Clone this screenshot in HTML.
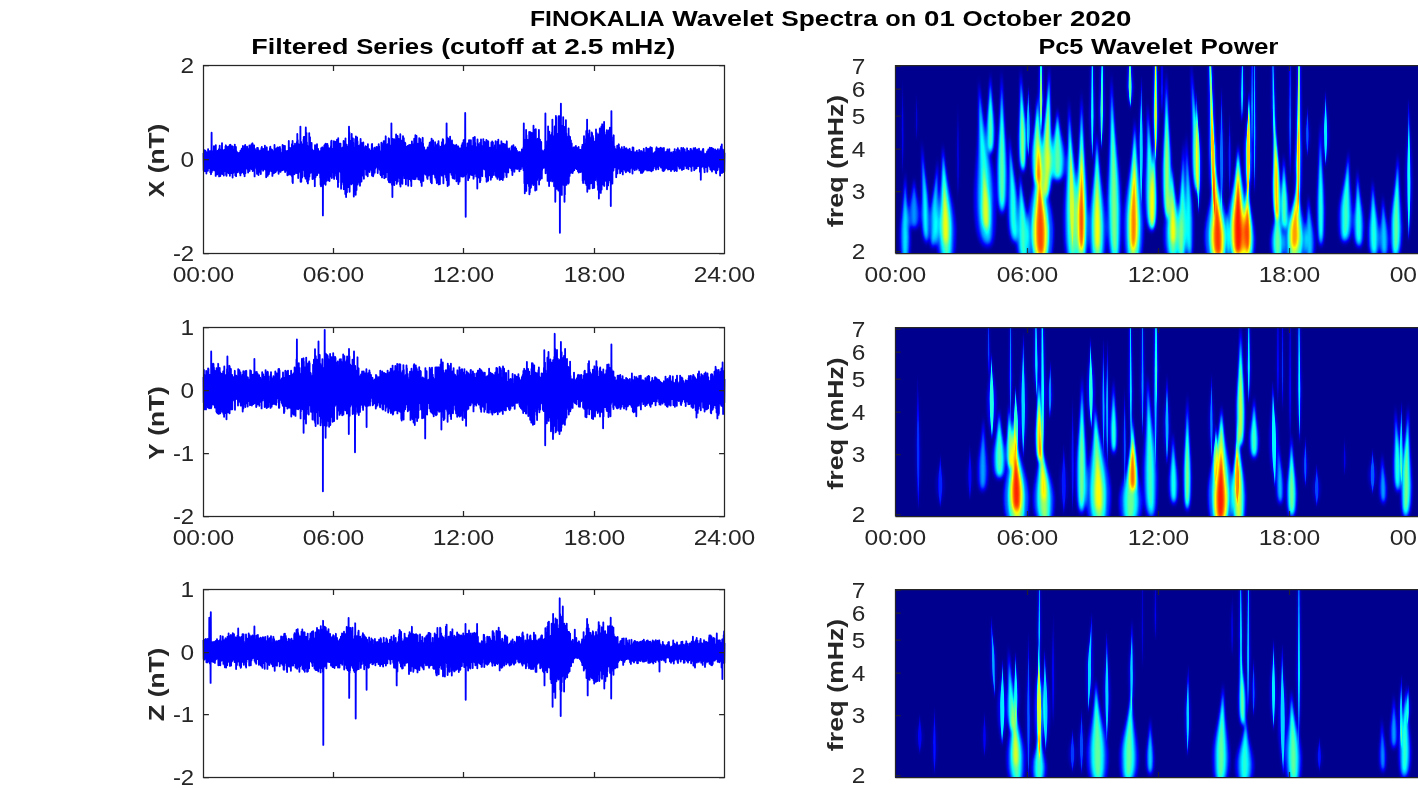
<!DOCTYPE html>
<html><head><meta charset="utf-8"><title>FINOKALIA Wavelet Spectra</title><style>html,body{margin:0;padding:0;background:#fff;overflow:hidden}body{width:1418px;height:788px;font-family:"Liberation Sans",sans-serif}</style></head>
<body><svg width="1418" height="788" viewBox="0 0 1418 788" style="display:block;font-family:'Liberation Sans',sans-serif">
<defs>
<filter id="jet" x="0" y="0" width="100%" height="100%" filterUnits="objectBoundingBox" color-interpolation-filters="sRGB"><feComponentTransfer><feFuncR type="table" tableValues="0 0 0 0 0.5 1 1 1 0.5"/><feFuncG type="table" tableValues="0 0 0.5 1 1 1 0.5 0 0"/><feFuncB type="table" tableValues="0.5625 1 1 1 0.5 0 0 0 0"/><feFuncA type="linear" slope="0" intercept="1"/></feComponentTransfer></filter>
<filter id="bl" x="-5%" y="-5%" width="110%" height="110%" color-interpolation-filters="sRGB"><feGaussianBlur stdDeviation="1.15 2.6"/></filter>
<filter id="bl2" x="-5%" y="-5%" width="110%" height="110%" color-interpolation-filters="sRGB"><feGaussianBlur stdDeviation="0.55 1.8"/></filter>
<clipPath id="c0"><rect x="895" y="65" width="523" height="188"/></clipPath>
<clipPath id="c1"><rect x="895" y="327" width="523" height="189"/></clipPath>
<clipPath id="c2"><rect x="895" y="590" width="523" height="188"/></clipPath>
<clipPath id="p0"><rect x="202" y="65" width="525" height="188"/></clipPath>
<clipPath id="p1"><rect x="202" y="327" width="525" height="189"/></clipPath>
<clipPath id="p2"><rect x="202" y="590" width="525" height="188"/></clipPath>
</defs>
<rect width="1418" height="788" fill="#fff"/>
<path d="M203.5 153.0L203.7 170.3L203.9 150.8L204.1 168.9L204.3 150.2L204.5 165.3L204.7 155.2L204.9 171.2L205.0 155.0L205.2 165.2L205.4 150.7L205.6 169.9L205.8 154.3L206.0 164.7L206.2 151.8L206.4 173.5L206.6 153.2L206.8 167.2L207.0 154.7L207.2 165.2L207.4 152.8L207.6 167.4L207.7 155.0L207.9 170.8L208.1 149.1L208.3 164.9L208.5 153.7L208.7 165.7L208.9 153.3L209.1 168.0L209.3 151.6L209.5 165.2L209.7 151.1L209.9 165.3L210.1 153.1L210.3 172.3L210.4 151.3L210.6 168.6L210.8 152.2L211.0 174.2L211.2 154.3L211.4 169.7L211.6 132.7L211.8 172.1L212.0 151.5L212.2 170.2L212.4 151.1L212.6 166.0L212.8 154.6L213.0 169.2L213.1 154.2L213.3 169.6L213.5 151.1L213.7 168.1L213.9 146.3L214.1 170.4L214.3 146.3L214.5 169.4L214.7 153.8L214.9 165.8L215.1 153.1L215.3 166.5L215.5 151.5L215.7 175.9L215.8 145.1L216.0 172.9L216.2 150.9L216.4 166.1L216.6 154.3L216.8 165.8L217.0 151.4L217.2 174.4L217.4 152.2L217.6 166.8L217.8 150.8L218.0 166.6L218.2 153.4L218.4 166.5L218.6 153.9L218.7 167.4L218.9 149.1L219.1 176.4L219.3 154.1L219.5 167.6L219.7 145.7L219.9 168.6L220.1 149.5L220.3 176.0L220.5 149.9L220.7 171.1L220.9 152.9L221.1 169.9L221.3 151.4L221.4 169.1L221.6 149.9L221.8 173.7L222.0 143.1L222.2 173.0L222.4 153.1L222.6 174.1L222.8 151.9L223.0 172.4L223.2 150.5L223.4 172.4L223.6 153.1L223.8 175.6L224.0 153.6L224.1 167.1L224.3 149.9L224.5 171.0L224.7 152.5L224.9 171.2L225.1 151.1L225.3 168.0L225.5 146.4L225.7 167.6L225.9 145.3L226.1 175.0L226.3 150.7L226.5 175.8L226.7 148.0L226.8 168.7L227.0 147.1L227.2 169.2L227.4 152.8L227.6 167.1L227.8 149.7L228.0 172.6L228.2 146.6L228.4 167.5L228.6 152.9L228.8 173.2L229.0 152.2L229.2 168.3L229.4 151.7L229.6 172.8L229.7 145.1L229.9 175.8L230.1 147.2L230.3 167.4L230.5 144.8L230.7 167.0L230.9 152.2L231.1 167.8L231.3 153.3L231.5 173.0L231.7 147.0L231.9 166.5L232.1 146.2L232.3 166.7L232.4 150.2L232.6 177.6L232.8 146.6L233.0 170.0L233.2 153.1L233.4 172.8L233.6 153.5L233.8 166.3L234.0 149.7L234.2 166.6L234.4 151.2L234.6 167.7L234.8 144.6L235.0 168.7L235.1 148.6L235.3 175.3L235.5 147.0L235.7 174.1L235.9 146.9L236.1 176.2L236.3 151.0L236.5 173.1L236.7 151.9L236.9 172.0L237.1 152.2L237.3 166.6L237.5 153.0L237.7 166.0L237.8 153.6L238.0 172.1L238.2 153.7L238.4 169.3L238.6 153.7L238.8 166.7L239.0 152.9L239.2 170.1L239.4 153.1L239.6 166.6L239.8 152.5L240.0 173.5L240.2 152.8L240.4 175.4L240.5 150.6L240.7 168.6L240.9 153.4L241.1 173.1L241.3 150.8L241.5 167.4L241.7 148.7L241.9 166.6L242.1 151.8L242.3 172.2L242.5 152.9L242.7 167.6L242.9 146.0L243.1 170.4L243.3 152.8L243.4 166.4L243.6 153.4L243.8 173.8L244.0 153.3L244.2 171.7L244.4 151.2L244.6 176.2L244.8 146.0L245.0 172.9L245.2 144.9L245.4 173.3L245.6 150.7L245.8 166.3L246.0 152.6L246.1 166.1L246.3 151.5L246.5 167.3L246.7 153.3L246.9 168.3L247.1 146.6L247.3 166.2L247.5 148.5L247.7 169.4L247.9 153.4L248.1 172.5L248.3 150.1L248.5 167.3L248.7 152.8L248.8 167.4L249.0 153.0L249.2 171.0L249.4 145.4L249.6 170.9L249.8 147.5L250.0 165.9L250.2 149.6L250.4 166.0L250.6 146.0L250.8 166.4L251.0 153.0L251.2 168.1L251.4 144.5L251.5 169.1L251.7 147.3L251.9 167.9L252.1 151.6L252.3 168.0L252.5 143.3L252.7 171.0L252.9 153.2L253.1 167.5L253.3 153.3L253.5 168.8L253.7 146.7L253.9 166.4L254.1 145.3L254.2 167.4L254.4 153.3L254.6 176.4L254.8 148.7L255.0 166.4L255.2 149.8L255.4 166.1L255.6 150.5L255.8 166.6L256.0 152.8L256.2 165.7L256.4 153.7L256.6 168.4L256.8 151.2L257.0 173.8L257.1 148.0L257.3 165.6L257.5 153.3L257.7 166.0L257.9 147.9L258.1 168.3L258.3 154.0L258.5 175.1L258.7 150.2L258.9 169.8L259.1 152.8L259.3 171.8L259.5 153.7L259.7 165.5L259.8 151.5L260.0 167.7L260.2 151.5L260.4 169.0L260.6 150.4L260.8 174.0L261.0 151.6L261.2 169.8L261.4 148.2L261.6 168.2L261.8 147.0L262.0 167.5L262.2 150.7L262.4 168.1L262.5 152.4L262.7 166.5L262.9 149.3L263.1 170.7L263.3 149.0L263.5 168.8L263.7 153.5L263.9 168.4L264.1 153.6L264.3 168.6L264.5 152.8L264.7 166.4L264.9 145.7L265.1 169.6L265.2 152.6L265.4 165.9L265.6 151.3L265.8 165.5L266.0 153.9L266.2 177.2L266.4 152.8L266.6 166.0L266.8 147.3L267.0 167.1L267.2 153.6L267.4 174.3L267.6 151.5L267.8 175.7L267.9 153.4L268.1 174.5L268.3 153.4L268.5 167.0L268.7 153.5L268.9 174.1L269.1 151.2L269.3 172.0L269.5 154.3L269.7 165.9L269.9 148.1L270.1 165.2L270.3 146.6L270.5 165.3L270.7 153.4L270.8 165.6L271.0 153.7L271.2 171.0L271.4 149.5L271.6 169.3L271.8 152.8L272.0 170.3L272.2 149.8L272.4 175.9L272.6 151.0L272.8 165.5L273.0 153.2L273.2 171.6L273.4 153.2L273.5 166.0L273.7 151.3L273.9 173.2L274.1 153.4L274.3 171.7L274.5 144.9L274.7 166.2L274.9 149.5L275.1 170.3L275.3 150.9L275.5 172.2L275.7 151.5L275.9 165.7L276.1 153.7L276.2 165.9L276.4 148.5L276.6 170.8L276.8 152.2L277.0 168.1L277.2 154.1L277.4 169.7L277.6 147.5L277.8 165.3L278.0 151.4L278.2 167.4L278.4 147.6L278.6 173.8L278.8 150.9L278.9 166.1L279.1 152.8L279.3 166.6L279.5 150.9L279.7 169.1L279.9 146.9L280.1 166.3L280.3 148.9L280.5 171.9L280.7 152.4L280.9 165.7L281.1 153.8L281.3 170.6L281.5 153.7L281.6 170.4L281.8 153.3L282.0 165.3L282.2 153.2L282.4 165.2L282.6 145.0L282.8 170.0L283.0 153.4L283.2 165.8L283.4 145.6L283.6 166.3L283.8 150.3L284.0 166.8L284.2 153.7L284.4 169.8L284.5 149.7L284.7 168.0L284.9 145.9L285.1 172.1L285.3 152.0L285.5 168.9L285.7 152.7L285.9 167.8L286.1 151.3L286.3 170.6L286.5 152.4L286.7 166.3L286.9 151.1L287.1 166.5L287.2 152.1L287.4 175.3L287.6 151.7L287.8 166.6L288.0 150.6L288.2 172.5L288.4 151.6L288.6 168.7L288.8 140.9L289.0 174.6L289.2 150.9L289.4 168.2L289.6 150.3L289.8 167.6L289.9 148.0L290.1 168.1L290.3 149.2L290.5 173.9L290.7 149.5L290.9 174.8L291.1 148.0L291.3 168.6L291.5 148.4L291.7 168.0L291.9 144.2L292.1 176.8L292.3 148.8L292.5 181.9L292.6 141.0L292.8 183.0L293.0 148.1L293.2 169.1L293.4 146.4L293.6 170.1L293.8 146.1L294.0 168.5L294.2 146.4L294.4 174.2L294.6 149.6L294.8 170.5L295.0 143.7L295.2 173.1L295.4 149.1L295.5 170.5L295.7 146.6L295.9 172.2L296.1 145.6L296.3 169.4L296.5 147.4L296.7 173.1L296.9 142.0L297.1 171.7L297.3 133.9L297.5 173.3L297.7 140.1L297.9 173.6L298.1 146.9L298.2 178.0L298.4 147.3L298.6 168.3L298.8 144.4L299.0 170.9L299.2 148.3L299.4 169.8L299.6 145.6L299.8 171.3L300.0 144.5L300.2 172.4L300.4 126.6L300.6 181.7L300.8 147.7L300.9 169.6L301.1 141.8L301.3 181.7L301.5 148.3L301.7 172.5L301.9 146.4L302.1 177.5L302.3 147.7L302.5 170.5L302.7 144.1L302.9 168.4L303.1 149.2L303.3 168.5L303.5 139.7L303.6 168.7L303.8 136.9L304.0 169.2L304.2 138.0L304.4 176.3L304.6 140.1L304.8 170.3L305.0 136.6L305.2 173.5L305.4 140.9L305.6 178.6L305.8 127.5L306.0 174.9L306.2 148.5L306.3 173.4L306.5 132.9L306.7 175.5L306.9 142.3L307.1 181.6L307.3 148.8L307.5 168.9L307.7 147.6L307.9 183.4L308.1 146.3L308.3 174.1L308.5 146.2L308.7 179.8L308.9 147.7L309.1 175.4L309.2 133.2L309.4 176.6L309.6 140.0L309.8 169.6L310.0 137.2L310.2 172.6L310.4 149.3L310.6 172.8L310.8 146.7L311.0 169.0L311.2 150.4L311.4 168.4L311.6 143.0L311.8 168.4L311.9 149.4L312.1 169.6L312.3 149.5L312.5 179.0L312.7 152.1L312.9 175.5L313.1 151.3L313.3 178.7L313.5 150.8L313.7 175.5L313.9 152.7L314.1 168.4L314.3 151.5L314.5 169.5L314.6 152.5L314.8 186.2L315.0 145.2L315.2 176.4L315.4 145.3L315.6 177.1L315.8 151.9L316.0 171.6L316.2 151.4L316.4 169.3L316.6 151.5L316.8 171.3L317.0 144.2L317.2 175.1L317.3 151.4L317.5 170.5L317.7 151.0L317.9 169.7L318.1 148.9L318.3 169.6L318.5 152.6L318.7 172.9L318.9 151.1L319.1 172.4L319.3 152.3L319.5 169.8L319.7 152.6L319.9 172.6L320.0 151.3L320.2 177.8L320.4 151.0L320.6 184.8L320.8 151.4L321.0 186.3L321.2 148.2L321.4 174.7L321.6 148.5L321.8 179.7L322.0 149.9L322.2 169.0L322.4 147.3L322.6 175.4L322.8 151.0L322.9 215.4L323.1 149.7L323.3 174.7L323.5 148.7L323.7 184.0L323.9 149.4L324.1 178.5L324.3 145.4L324.5 172.2L324.7 151.8L324.9 173.6L325.1 144.3L325.3 183.0L325.5 145.1L325.6 184.8L325.8 143.7L326.0 170.1L326.2 150.1L326.4 180.9L326.6 151.6L326.8 169.3L327.0 145.3L327.2 170.1L327.4 144.0L327.6 173.3L327.8 145.6L328.0 170.9L328.2 152.6L328.3 180.4L328.5 152.4L328.7 171.2L328.9 148.4L329.1 169.1L329.3 152.1L329.5 181.0L329.7 152.2L329.9 171.8L330.1 151.3L330.3 176.3L330.5 147.7L330.7 170.4L330.9 146.3L331.0 170.2L331.2 141.1L331.4 171.9L331.6 140.7L331.8 178.1L332.0 151.3L332.2 169.8L332.4 150.4L332.6 172.0L332.8 148.9L333.0 172.0L333.2 151.3L333.4 171.4L333.6 151.0L333.8 177.8L333.9 141.1L334.1 178.9L334.3 149.8L334.5 172.6L334.7 149.8L334.9 171.2L335.1 146.6L335.3 172.6L335.5 141.8L335.7 172.9L335.9 143.3L336.1 175.8L336.3 151.6L336.5 170.2L336.6 150.0L336.8 179.0L337.0 139.8L337.2 171.0L337.4 148.0L337.6 174.8L337.8 144.7L338.0 186.9L338.2 138.2L338.4 182.3L338.6 144.9L338.8 170.4L339.0 149.2L339.2 171.1L339.3 150.5L339.5 170.9L339.7 143.6L339.9 171.0L340.1 145.7L340.3 171.7L340.5 143.6L340.7 171.5L340.9 150.4L341.1 188.7L341.3 150.4L341.5 176.9L341.7 150.2L341.9 173.3L342.0 151.0L342.2 171.0L342.4 147.7L342.6 181.8L342.8 148.8L343.0 171.8L343.2 146.9L343.4 184.6L343.6 141.0L343.8 189.2L344.0 148.8L344.2 185.6L344.4 147.6L344.6 187.3L344.7 142.0L344.9 178.9L345.1 149.5L345.3 194.0L345.5 138.3L345.7 177.0L345.9 148.7L346.1 197.1L346.3 146.0L346.5 191.3L346.7 144.6L346.9 192.3L347.1 148.3L347.3 173.8L347.5 147.8L347.6 175.0L347.8 147.6L348.0 187.1L348.2 146.5L348.4 175.6L348.6 150.4L348.8 174.3L349.0 126.6L349.2 179.7L349.4 132.4L349.6 191.8L349.8 144.4L350.0 175.3L350.2 144.6L350.3 178.7L350.5 141.1L350.7 173.6L350.9 148.8L351.1 177.8L351.3 147.2L351.5 184.3L351.7 133.9L351.9 176.1L352.1 139.0L352.3 183.1L352.5 142.4L352.7 180.3L352.9 138.3L353.0 172.4L353.2 142.7L353.4 172.4L353.6 148.3L353.8 196.6L354.0 149.6L354.2 178.1L354.4 147.6L354.6 178.0L354.8 148.2L355.0 173.8L355.2 139.0L355.4 180.3L355.6 149.6L355.7 194.8L355.9 136.5L356.1 177.4L356.3 139.7L356.5 190.1L356.7 150.2L356.9 176.1L357.1 137.4L357.3 183.5L357.5 141.4L357.7 184.5L357.9 145.8L358.1 175.2L358.3 148.9L358.4 178.4L358.6 146.0L358.8 175.4L359.0 148.0L359.2 174.2L359.4 150.3L359.6 183.0L359.8 150.2L360.0 185.7L360.2 144.4L360.4 178.7L360.6 138.9L360.8 174.8L361.0 151.0L361.2 170.9L361.3 142.8L361.5 181.5L361.7 146.8L361.9 171.9L362.1 143.2L362.3 171.2L362.5 150.7L362.7 175.5L362.9 152.1L363.1 174.1L363.3 142.5L363.5 170.5L363.7 146.9L363.9 178.7L364.0 152.0L364.2 168.5L364.4 151.8L364.6 168.8L364.8 150.1L365.0 168.6L365.2 150.1L365.4 167.5L365.6 146.2L365.8 169.4L366.0 151.0L366.2 174.7L366.4 153.1L366.6 174.7L366.7 147.0L366.9 168.4L367.1 147.9L367.3 169.0L367.5 152.0L367.7 176.3L367.9 144.1L368.1 166.1L368.3 153.3L368.5 166.2L368.7 152.5L368.9 166.1L369.1 153.3L369.3 169.4L369.4 149.2L369.6 172.0L369.8 153.5L370.0 166.1L370.2 152.5L370.4 166.2L370.6 152.0L370.8 165.7L371.0 150.8L371.2 168.7L371.4 152.9L371.6 170.5L371.8 144.5L372.0 175.5L372.1 144.0L372.3 168.7L372.5 148.4L372.7 170.1L372.9 153.0L373.1 176.3L373.3 153.6L373.5 174.7L373.7 153.6L373.9 170.1L374.1 150.6L374.3 172.8L374.5 147.7L374.7 172.7L374.9 152.5L375.0 165.8L375.2 152.9L375.4 168.4L375.6 149.1L375.8 166.2L376.0 152.9L376.2 166.7L376.4 146.9L376.6 166.6L376.8 152.5L377.0 166.7L377.2 152.5L377.4 167.2L377.6 147.2L377.7 173.1L377.9 152.7L378.1 166.9L378.3 151.0L378.5 167.5L378.7 144.2L378.9 167.6L379.1 146.5L379.3 167.2L379.5 151.6L379.7 169.7L379.9 151.1L380.1 165.8L380.3 151.9L380.4 174.3L380.6 152.9L380.8 175.2L381.0 152.1L381.2 166.6L381.4 142.6L381.6 166.6L381.8 143.5L382.0 177.4L382.2 150.6L382.4 167.8L382.6 152.5L382.8 167.8L383.0 151.3L383.1 167.0L383.3 148.7L383.5 174.0L383.7 141.1L383.9 167.6L384.1 150.7L384.3 178.2L384.5 151.2L384.7 171.6L384.9 143.0L385.1 170.9L385.3 140.6L385.5 168.9L385.7 136.3L385.9 177.2L386.0 150.3L386.2 169.1L386.4 149.5L386.6 169.6L386.8 146.4L387.0 172.1L387.2 150.0L387.4 169.1L387.6 144.3L387.8 171.6L388.0 149.2L388.2 180.0L388.4 148.2L388.6 171.5L388.7 138.3L388.9 182.0L389.1 138.8L389.3 172.5L389.5 149.2L389.7 176.6L389.9 145.4L390.1 182.5L390.3 149.9L390.5 170.9L390.7 146.4L390.9 173.1L391.1 150.0L391.3 170.2L391.4 123.3L391.6 169.7L391.8 146.2L392.0 185.0L392.2 146.7L392.4 197.1L392.6 138.8L392.8 170.6L393.0 146.7L393.2 173.6L393.4 146.8L393.6 170.2L393.8 146.6L394.0 169.6L394.1 139.1L394.3 185.0L394.5 142.7L394.7 177.5L394.9 139.9L395.1 180.1L395.3 149.0L395.5 170.3L395.7 147.3L395.9 176.6L396.1 134.3L396.3 170.4L396.5 148.9L396.7 183.8L396.8 148.4L397.0 180.7L397.2 142.4L397.4 179.9L397.6 135.9L397.8 181.6L398.0 143.5L398.2 177.0L398.4 147.0L398.6 170.2L398.8 138.9L399.0 177.4L399.2 141.5L399.4 171.8L399.6 148.7L399.7 178.3L399.9 147.6L400.1 184.7L400.3 134.2L400.5 186.5L400.7 147.8L400.9 174.5L401.1 149.4L401.3 174.7L401.5 140.6L401.7 170.7L401.9 148.6L402.1 169.5L402.3 148.3L402.4 183.8L402.6 147.7L402.8 170.1L403.0 136.1L403.2 172.1L403.4 141.7L403.6 175.4L403.8 138.1L404.0 173.5L404.2 146.3L404.4 178.2L404.6 150.0L404.8 170.2L405.0 142.7L405.1 178.1L405.3 143.1L405.5 171.8L405.7 147.2L405.9 184.4L406.1 149.0L406.3 178.8L406.5 148.9L406.7 176.0L406.9 146.6L407.1 178.4L407.3 149.4L407.5 170.3L407.7 146.0L407.8 170.2L408.0 146.1L408.2 185.7L408.4 145.8L408.6 172.1L408.8 148.9L409.0 171.2L409.2 145.0L409.4 173.0L409.6 148.1L409.8 179.1L410.0 148.6L410.2 172.0L410.4 144.9L410.5 170.3L410.7 147.6L410.9 180.9L411.1 147.5L411.3 186.1L411.5 147.2L411.7 179.0L411.9 141.4L412.1 176.9L412.3 146.8L412.5 170.4L412.7 145.5L412.9 171.4L413.1 149.8L413.3 179.1L413.4 144.2L413.6 172.0L413.8 149.0L414.0 170.0L414.2 138.8L414.4 172.4L414.6 141.6L414.8 179.2L415.0 148.6L415.2 174.2L415.4 135.2L415.6 178.9L415.8 142.3L416.0 170.4L416.1 146.1L416.3 169.7L416.5 135.9L416.7 171.6L416.9 146.5L417.1 176.5L417.3 144.8L417.5 175.7L417.7 148.9L417.9 169.0L418.1 143.8L418.3 179.3L418.5 149.6L418.7 173.1L418.8 148.7L419.0 169.9L419.2 138.1L419.4 170.5L419.6 149.7L419.8 179.7L420.0 149.0L420.2 177.3L420.4 139.1L420.6 170.5L420.8 142.2L421.0 182.4L421.2 146.6L421.4 172.6L421.5 145.3L421.7 185.9L421.9 149.3L422.1 169.9L422.3 148.6L422.5 172.2L422.7 137.8L422.9 169.5L423.1 143.7L423.3 180.9L423.5 150.2L423.7 169.6L423.9 150.9L424.1 168.8L424.2 147.4L424.4 168.7L424.6 149.8L424.8 173.5L425.0 151.4L425.2 168.3L425.4 151.3L425.6 174.5L425.8 150.5L426.0 169.2L426.2 150.4L426.4 168.8L426.6 151.3L426.8 169.1L427.0 151.2L427.1 177.7L427.3 149.1L427.5 178.9L427.7 147.5L427.9 174.6L428.1 150.7L428.3 170.6L428.5 149.5L428.7 175.5L428.9 151.9L429.1 168.7L429.3 145.1L429.5 169.0L429.7 142.8L429.8 174.4L430.0 145.2L430.2 170.2L430.4 142.3L430.6 180.0L430.8 151.5L431.0 182.3L431.2 148.3L431.4 179.4L431.6 138.6L431.8 183.3L432.0 151.2L432.2 174.5L432.4 147.4L432.5 171.3L432.7 146.9L432.9 169.1L433.1 140.5L433.3 168.8L433.5 148.2L433.7 172.8L433.9 151.7L434.1 174.3L434.3 151.6L434.5 169.8L434.7 147.2L434.9 174.9L435.1 142.2L435.2 177.6L435.4 151.0L435.6 169.3L435.8 151.0L436.0 172.4L436.2 149.6L436.4 179.9L436.6 145.3L436.8 183.1L437.0 146.5L437.2 180.0L437.4 144.2L437.6 172.5L437.8 150.3L437.9 182.0L438.1 150.9L438.3 169.8L438.5 141.1L438.7 184.4L438.9 145.4L439.1 177.2L439.3 150.7L439.5 171.5L439.7 150.7L439.9 184.0L440.1 149.6L440.3 174.3L440.5 150.5L440.7 172.8L440.8 146.6L441.0 169.7L441.2 150.5L441.4 169.5L441.6 147.5L441.8 175.6L442.0 142.1L442.2 169.6L442.4 150.1L442.6 169.7L442.8 139.1L443.0 169.7L443.2 139.9L443.4 183.3L443.5 150.3L443.7 170.1L443.9 150.7L444.1 169.2L444.3 147.5L444.5 169.1L444.7 147.9L444.9 171.9L445.1 145.2L445.3 174.4L445.5 145.7L445.7 174.0L445.9 150.3L446.1 177.4L446.2 143.5L446.4 170.0L446.6 123.3L446.8 180.2L447.0 137.2L447.2 172.3L447.4 141.5L447.6 186.1L447.8 139.3L448.0 175.5L448.2 138.5L448.4 182.7L448.6 140.1L448.8 184.9L448.9 148.2L449.1 169.7L449.3 150.6L449.5 170.5L449.7 145.6L449.9 172.4L450.1 136.6L450.3 170.7L450.5 150.7L450.7 169.4L450.9 149.2L451.1 168.8L451.3 150.2L451.5 174.7L451.7 143.7L451.8 172.7L452.0 140.5L452.2 171.8L452.4 148.7L452.6 177.7L452.8 144.4L453.0 178.3L453.2 150.5L453.4 169.3L453.6 148.9L453.8 176.9L454.0 145.1L454.2 169.0L454.4 151.2L454.5 178.8L454.7 147.5L454.9 170.6L455.1 146.0L455.3 169.4L455.5 151.0L455.7 173.4L455.9 146.0L456.1 170.8L456.3 144.8L456.5 181.3L456.7 146.4L456.9 174.3L457.1 150.9L457.2 173.5L457.4 151.9L457.6 168.9L457.8 148.9L458.0 168.1L458.2 146.3L458.4 184.0L458.6 150.1L458.8 172.5L459.0 149.2L459.2 172.2L459.4 148.3L459.6 181.6L459.8 150.3L459.9 173.9L460.1 151.8L460.3 172.5L460.5 149.7L460.7 169.4L460.9 148.3L461.1 171.6L461.3 151.0L461.5 176.4L461.7 145.2L461.9 171.0L462.1 151.2L462.3 169.6L462.5 143.1L462.6 168.2L462.8 148.4L463.0 176.7L463.2 151.1L463.4 170.5L463.6 140.3L463.8 173.0L464.0 140.0L464.2 172.5L464.4 144.5L464.6 175.8L464.8 147.2L465.0 172.1L465.2 113.0L465.4 172.1L465.5 150.2L465.7 216.8L465.9 148.1L466.1 174.7L466.3 150.6L466.5 168.0L466.7 147.4L466.9 169.3L467.1 150.3L467.3 172.5L467.5 143.4L467.7 172.5L467.9 145.2L468.1 180.2L468.2 144.3L468.4 169.7L468.6 143.7L468.8 169.6L469.0 140.2L469.2 177.8L469.4 143.8L469.6 169.3L469.8 140.3L470.0 168.4L470.2 150.7L470.4 172.3L470.6 150.8L470.8 174.5L470.9 140.2L471.1 170.1L471.3 150.2L471.5 168.0L471.7 151.2L471.9 175.0L472.1 150.8L472.3 167.2L472.5 146.0L472.7 170.0L472.9 149.6L473.1 169.7L473.3 137.6L473.5 178.7L473.6 146.5L473.8 176.9L474.0 146.1L474.2 168.2L474.4 150.1L474.6 172.5L474.8 137.0L475.0 173.7L475.2 143.0L475.4 167.8L475.6 148.9L475.8 174.0L476.0 146.9L476.2 176.4L476.3 150.9L476.5 167.9L476.7 150.0L476.9 170.2L477.1 150.2L477.3 188.6L477.5 139.4L477.7 167.7L477.9 150.2L478.1 177.1L478.3 143.8L478.5 172.4L478.7 147.3L478.9 175.1L479.1 150.4L479.2 172.2L479.4 150.6L479.6 178.3L479.8 150.3L480.0 182.2L480.2 142.6L480.4 180.4L480.6 150.8L480.8 168.8L481.0 139.5L481.2 168.4L481.4 150.2L481.6 175.3L481.8 147.8L481.9 171.9L482.1 147.6L482.3 176.2L482.5 145.9L482.7 168.9L482.9 148.7L483.1 168.2L483.3 139.1L483.5 168.2L483.7 149.5L483.9 168.4L484.1 141.7L484.3 169.0L484.5 150.7L484.6 169.3L484.8 142.1L485.0 169.1L485.2 142.6L485.4 169.9L485.6 149.9L485.8 176.7L486.0 142.9L486.2 172.9L486.4 139.9L486.6 181.7L486.8 143.1L487.0 169.5L487.2 141.8L487.3 168.8L487.5 141.2L487.7 168.3L487.9 150.2L488.1 180.7L488.3 141.5L488.5 169.4L488.7 149.4L488.9 168.6L489.1 148.7L489.3 170.7L489.5 149.7L489.7 175.2L489.9 147.6L490.0 169.6L490.2 149.7L490.4 168.7L490.6 147.8L490.8 179.7L491.0 148.4L491.2 168.5L491.4 142.5L491.6 171.7L491.8 143.3L492.0 177.3L492.2 141.4L492.4 173.6L492.6 148.2L492.8 171.2L492.9 142.3L493.1 175.0L493.3 147.3L493.5 167.9L493.7 149.8L493.9 168.2L494.1 151.3L494.3 170.8L494.5 150.4L494.7 167.8L494.9 145.3L495.1 175.0L495.3 151.8L495.5 174.1L495.6 141.1L495.8 167.4L496.0 150.9L496.2 176.7L496.4 152.0L496.6 167.9L496.8 152.1L497.0 168.9L497.2 150.1L497.4 178.8L497.6 141.6L497.8 168.0L498.0 149.4L498.2 171.8L498.3 139.6L498.5 167.3L498.7 151.0L498.9 176.9L499.1 150.9L499.3 175.6L499.5 150.8L499.7 179.9L499.9 145.2L500.1 174.7L500.3 148.5L500.5 170.9L500.7 150.4L500.9 167.7L501.0 151.2L501.2 179.0L501.4 141.3L501.6 176.2L501.8 148.1L502.0 173.8L502.2 143.4L502.4 167.2L502.6 148.9L502.8 180.1L503.0 146.1L503.2 173.3L503.4 146.8L503.6 177.6L503.8 143.8L503.9 167.0L504.1 147.4L504.3 167.7L504.5 151.9L504.7 167.0L504.9 147.3L505.1 171.5L505.3 144.4L505.5 172.1L505.7 151.5L505.9 166.3L506.1 152.7L506.3 175.4L506.5 148.5L506.6 177.0L506.8 141.3L507.0 166.5L507.2 148.1L507.4 170.5L507.6 152.6L507.8 170.3L508.0 149.2L508.2 172.4L508.4 150.8L508.6 168.6L508.8 151.8L509.0 167.4L509.2 148.4L509.3 166.6L509.5 153.1L509.7 167.4L509.9 152.3L510.1 165.9L510.3 153.0L510.5 166.5L510.7 152.6L510.9 168.2L511.1 150.7L511.3 166.6L511.5 147.1L511.7 170.4L511.9 146.1L512.0 165.6L512.2 148.2L512.4 175.0L512.6 153.4L512.8 168.9L513.0 153.7L513.2 167.4L513.4 145.1L513.6 165.1L513.8 153.4L514.0 165.7L514.2 153.2L514.4 171.7L514.6 147.6L514.7 165.1L514.9 154.3L515.1 164.6L515.3 147.1L515.5 168.6L515.7 154.2L515.9 164.8L516.1 148.6L516.3 166.3L516.5 150.3L516.7 166.9L516.9 150.6L517.1 169.1L517.3 153.4L517.5 167.5L517.6 152.1L517.8 165.3L518.0 153.4L518.2 165.3L518.4 154.7L518.6 168.6L518.8 152.2L519.0 164.4L519.2 152.0L519.4 171.2L519.6 154.7L519.8 164.1L520.0 153.4L520.2 164.8L520.3 154.5L520.5 165.8L520.7 155.1L520.9 169.1L521.1 151.9L521.3 167.0L521.5 151.6L521.7 163.9L521.9 149.5L522.1 165.6L522.3 153.8L522.5 164.3L522.7 154.5L522.9 166.2L523.0 151.7L523.2 168.5L523.4 147.4L523.6 170.2L523.8 123.3L524.0 169.1L524.2 148.6L524.4 183.2L524.6 143.0L524.8 193.3L525.0 145.2L525.2 176.2L525.4 139.8L525.6 181.3L525.7 146.1L525.9 189.5L526.1 129.9L526.3 190.9L526.5 135.4L526.7 173.5L526.9 146.2L527.1 178.7L527.3 146.1L527.5 171.6L527.7 139.9L527.9 183.3L528.1 146.5L528.3 171.6L528.4 146.8L528.6 181.4L528.8 141.0L529.0 186.3L529.2 131.9L529.4 194.3L529.6 133.4L529.8 192.3L530.0 144.0L530.2 188.2L530.4 132.2L530.6 172.1L530.8 147.3L531.0 187.6L531.2 147.0L531.3 171.1L531.5 147.1L531.7 183.5L531.9 132.8L532.1 174.5L532.3 134.9L532.5 174.0L532.7 142.5L532.9 171.9L533.1 143.1L533.3 185.1L533.5 125.7L533.7 172.1L533.9 132.0L534.0 178.4L534.2 147.4L534.4 174.2L534.6 129.9L534.8 172.1L535.0 141.6L535.2 190.6L535.4 145.1L535.6 172.5L535.8 129.2L536.0 172.5L536.2 144.7L536.4 189.9L536.6 145.6L536.7 172.9L536.9 145.8L537.1 180.1L537.3 144.8L537.5 177.7L537.7 138.8L537.9 171.5L538.1 140.0L538.3 171.5L538.5 146.8L538.7 172.6L538.9 129.8L539.1 184.5L539.3 140.5L539.4 178.2L539.6 145.5L539.8 177.0L540.0 139.7L540.2 179.8L540.4 147.3L540.6 174.0L540.8 143.2L541.0 175.8L541.2 141.9L541.4 173.4L541.6 150.0L541.8 178.4L542.0 150.4L542.1 170.0L542.3 152.0L542.5 166.1L542.7 152.6L542.9 165.5L543.1 151.8L543.3 167.9L543.5 151.3L543.7 167.6L543.9 152.7L544.1 164.9L544.3 151.7L544.5 167.6L544.7 149.6L544.9 165.7L545.0 150.0L545.2 164.9L545.4 113.4L545.6 173.2L545.8 153.1L546.0 164.7L546.2 150.0L546.4 169.8L546.6 148.7L546.8 169.4L547.0 145.8L547.2 166.9L547.4 141.3L547.6 180.9L547.7 146.6L547.9 170.9L548.1 126.3L548.3 178.1L548.5 136.7L548.7 170.9L548.9 142.5L549.1 186.0L549.3 131.7L549.5 171.3L549.7 138.9L549.9 170.3L550.1 138.2L550.3 180.9L550.4 141.1L550.6 176.2L550.8 135.1L551.0 170.8L551.2 136.7L551.4 171.2L551.6 137.9L551.8 177.2L552.0 132.6L552.2 181.4L552.4 119.6L552.6 175.4L552.8 141.8L553.0 173.6L553.1 141.7L553.3 171.6L553.5 139.1L553.7 175.8L553.9 136.3L554.1 186.2L554.3 143.4L554.5 170.4L554.7 126.4L554.9 171.2L555.1 135.9L555.3 201.8L555.5 142.3L555.7 173.0L555.9 115.9L556.0 185.2L556.2 117.6L556.4 172.8L556.6 135.3L556.8 188.9L557.0 140.5L557.2 184.7L557.4 133.9L557.6 172.0L557.8 136.4L558.0 172.1L558.2 134.1L558.4 190.6L558.6 116.2L558.7 176.6L558.9 142.6L559.1 172.1L559.3 142.7L559.5 172.8L559.7 127.4L559.9 232.8L560.1 115.8L560.3 176.5L560.5 129.9L560.7 185.8L560.9 103.6L561.1 173.2L561.3 142.2L561.4 175.5L561.6 137.3L561.8 194.9L562.0 126.0L562.2 177.6L562.4 130.6L562.6 184.7L562.8 135.7L563.0 177.5L563.2 117.2L563.4 180.3L563.6 128.8L563.8 178.2L564.0 133.5L564.1 185.5L564.3 127.0L564.5 201.8L564.7 141.9L564.9 194.6L565.1 129.9L565.3 182.4L565.5 142.5L565.7 173.3L565.9 120.1L566.1 172.9L566.3 133.5L566.5 184.8L566.7 144.0L566.8 182.8L567.0 139.9L567.2 177.8L567.4 145.0L567.6 171.4L567.8 137.2L568.0 178.5L568.2 136.3L568.4 183.6L568.6 128.5L568.8 182.4L569.0 135.9L569.2 171.1L569.4 136.8L569.6 175.9L569.7 138.8L569.9 170.3L570.1 136.8L570.3 170.5L570.5 145.3L570.7 172.3L570.9 140.5L571.1 172.7L571.3 148.2L571.5 170.4L571.7 143.5L571.9 169.3L572.1 149.6L572.3 167.4L572.4 153.2L572.6 173.0L572.8 153.0L573.0 171.5L573.2 153.1L573.4 168.3L573.6 147.5L573.8 166.7L574.0 152.6L574.2 170.2L574.4 150.7L574.6 164.7L574.8 151.6L575.0 168.0L575.1 146.9L575.3 166.6L575.5 154.1L575.7 166.8L575.9 145.9L576.1 164.5L576.3 152.2L576.5 169.1L576.7 147.6L576.9 164.9L577.1 152.1L577.3 167.2L577.5 153.4L577.7 164.6L577.8 149.1L578.0 171.3L578.2 150.1L578.4 171.7L578.6 147.0L578.8 172.6L579.0 153.4L579.2 165.0L579.4 152.4L579.6 165.4L579.8 152.8L580.0 169.4L580.2 149.8L580.4 172.0L580.5 149.9L580.7 171.0L580.9 152.5L581.1 164.6L581.3 152.8L581.5 165.2L581.7 152.6L581.9 168.3L582.1 146.8L582.3 172.5L582.5 144.8L582.7 180.8L582.9 148.1L583.1 183.0L583.3 147.2L583.4 177.1L583.6 147.1L583.8 179.7L584.0 136.1L584.2 171.6L584.4 144.5L584.6 172.6L584.8 144.4L585.0 177.7L585.2 144.2L585.4 183.2L585.6 144.3L585.8 174.1L586.0 139.0L586.1 174.1L586.3 130.9L586.5 185.0L586.7 142.0L586.9 172.1L587.1 119.6L587.3 191.7L587.5 133.6L587.7 176.5L587.9 136.6L588.1 181.3L588.3 143.8L588.5 183.9L588.7 144.0L588.8 188.6L589.0 142.5L589.2 171.5L589.4 130.5L589.6 188.7L589.8 137.2L590.0 175.0L590.2 142.2L590.4 174.8L590.6 144.9L590.8 176.1L591.0 145.7L591.2 183.2L591.4 140.8L591.5 180.5L591.7 132.5L591.9 175.8L592.1 133.2L592.3 177.4L592.5 139.1L592.7 188.2L592.9 136.0L593.1 181.6L593.3 138.2L593.5 178.0L593.7 145.6L593.9 186.1L594.1 146.0L594.2 187.7L594.4 145.5L594.6 173.5L594.8 141.7L595.0 174.3L595.2 145.5L595.4 180.1L595.6 145.8L595.8 175.3L596.0 129.4L596.2 176.1L596.4 136.0L596.6 173.3L596.8 133.2L597.0 173.5L597.1 144.9L597.3 181.5L597.5 145.4L597.7 185.0L597.9 145.3L598.1 189.7L598.3 144.2L598.5 189.0L598.7 134.3L598.9 198.5L599.1 143.1L599.3 173.4L599.5 133.1L599.7 174.8L599.8 128.4L600.0 192.0L600.2 145.0L600.4 182.6L600.6 133.6L600.8 192.9L601.0 141.9L601.2 185.5L601.4 126.5L601.6 189.5L601.8 143.0L602.0 180.7L602.2 124.3L602.4 184.3L602.5 144.8L602.7 177.0L602.9 143.8L603.1 183.0L603.3 144.3L603.5 184.7L603.7 131.3L603.9 172.2L604.1 121.9L604.3 185.9L604.5 145.0L604.7 173.3L604.9 136.7L605.1 179.5L605.2 137.9L605.4 175.1L605.6 144.4L605.8 175.9L606.0 134.7L606.2 181.0L606.4 132.2L606.6 180.7L606.8 130.1L607.0 189.3L607.2 132.4L607.4 173.5L607.6 145.6L607.8 172.4L608.0 142.9L608.1 185.4L608.3 144.2L608.5 171.8L608.7 130.3L608.9 171.7L609.1 143.5L609.3 175.5L609.5 146.3L609.7 180.4L609.9 127.6L610.1 180.5L610.3 146.3L610.5 183.0L610.7 129.4L610.8 206.0L611.0 141.9L611.2 177.6L611.4 111.1L611.6 170.3L611.8 146.1L612.0 169.8L612.2 147.7L612.4 183.6L612.6 141.6L612.8 171.5L613.0 148.0L613.2 170.6L613.4 137.1L613.5 170.2L613.7 135.3L613.9 168.0L614.1 149.8L614.3 167.2L614.5 146.5L614.7 167.1L614.9 149.9L615.1 166.0L615.3 148.9L615.5 166.7L615.7 151.5L615.9 166.3L616.1 151.8L616.2 177.2L616.4 150.8L616.6 170.9L616.8 150.9L617.0 167.0L617.2 145.7L617.4 173.4L617.6 152.3L617.8 168.9L618.0 148.9L618.2 166.0L618.4 153.1L618.6 168.5L618.8 144.3L618.9 166.2L619.1 147.5L619.3 167.2L619.5 153.2L619.7 165.9L619.9 151.4L620.1 173.2L620.3 152.3L620.5 166.3L620.7 149.3L620.9 170.1L621.1 154.1L621.3 165.3L621.5 153.7L621.7 171.3L621.8 147.2L622.0 169.6L622.2 150.3L622.4 168.4L622.6 151.8L622.8 174.4L623.0 153.7L623.2 166.4L623.4 149.5L623.6 169.2L623.8 150.0L624.0 165.1L624.2 146.8L624.4 168.2L624.5 151.6L624.7 167.1L624.9 148.5L625.1 170.7L625.3 149.4L625.5 164.9L625.7 154.2L625.9 172.3L626.1 152.8L626.3 169.3L626.5 148.3L626.7 165.2L626.9 153.7L627.1 170.2L627.2 153.7L627.4 170.7L627.6 154.3L627.8 169.9L628.0 149.9L628.2 165.3L628.4 153.8L628.6 166.1L628.8 154.3L629.0 171.2L629.2 152.3L629.4 166.4L629.6 148.8L629.8 172.3L629.9 149.9L630.1 167.3L630.3 154.3L630.5 168.6L630.7 154.3L630.9 166.8L631.1 152.0L631.3 165.0L631.5 151.9L631.7 165.1L631.9 153.6L632.1 166.1L632.3 154.3L632.5 173.5L632.6 147.4L632.8 168.4L633.0 148.6L633.2 167.8L633.4 147.7L633.6 166.2L633.8 152.5L634.0 168.7L634.2 154.8L634.4 164.8L634.6 152.5L634.8 170.2L635.0 154.4L635.2 165.1L635.4 154.5L635.5 166.6L635.7 152.3L635.9 165.1L636.1 154.9L636.3 165.2L636.5 155.0L636.7 169.6L636.9 150.7L637.1 166.9L637.3 154.1L637.5 164.4L637.7 154.8L637.9 165.1L638.1 153.0L638.2 164.7L638.4 154.8L638.6 168.2L638.8 154.9L639.0 165.2L639.2 149.9L639.4 170.4L639.6 155.0L639.8 166.5L640.0 155.0L640.2 164.6L640.4 155.0L640.6 164.4L640.8 154.8L640.9 172.9L641.1 150.9L641.3 172.6L641.5 151.9L641.7 164.6L641.9 153.2L642.1 172.9L642.3 154.5L642.5 167.5L642.7 154.6L642.9 169.6L643.1 151.8L643.3 171.7L643.5 150.6L643.6 166.2L643.8 148.8L644.0 165.6L644.2 154.8L644.4 165.2L644.6 152.3L644.8 169.7L645.0 154.8L645.2 169.6L645.4 154.7L645.6 167.3L645.8 153.8L646.0 169.2L646.2 147.7L646.3 168.9L646.5 148.8L646.7 164.6L646.9 149.2L647.1 170.6L647.3 154.1L647.5 168.2L647.7 154.1L647.9 169.3L648.1 148.8L648.3 166.6L648.5 154.8L648.7 170.4L648.9 151.5L649.1 165.7L649.2 155.0L649.4 168.1L649.6 148.5L649.8 170.3L650.0 154.0L650.2 166.5L650.4 147.2L650.6 170.6L650.8 150.7L651.0 164.6L651.2 153.1L651.4 171.3L651.6 154.3L651.8 166.9L651.9 147.8L652.1 166.0L652.3 154.7L652.5 167.6L652.7 153.5L652.9 170.3L653.1 154.9L653.3 164.8L653.5 154.0L653.7 168.3L653.9 153.1L654.1 165.4L654.3 153.9L654.5 164.6L654.6 152.5L654.8 166.2L655.0 152.7L655.2 165.1L655.4 151.8L655.6 164.7L655.8 151.8L656.0 169.5L656.2 148.8L656.4 165.1L656.6 147.3L656.8 167.4L657.0 154.2L657.2 165.1L657.3 152.2L657.5 167.3L657.7 155.0L657.9 164.4L658.1 148.8L658.3 169.2L658.5 154.1L658.7 164.9L658.9 152.4L659.1 164.3L659.3 148.4L659.5 164.6L659.7 152.9L659.9 165.7L660.1 154.2L660.2 164.6L660.4 151.9L660.6 164.3L660.8 147.7L661.0 167.6L661.2 154.7L661.4 164.3L661.6 155.0L661.8 164.3L662.0 153.5L662.2 164.3L662.4 148.4L662.6 170.6L662.8 154.7L662.9 164.2L663.1 151.9L663.3 170.9L663.5 154.3L663.7 171.1L663.9 147.9L664.1 169.0L664.3 153.7L664.5 170.0L664.7 155.3L664.9 169.2L665.1 153.8L665.3 167.8L665.5 152.1L665.6 163.9L665.8 153.3L666.0 164.5L666.2 154.0L666.4 167.9L666.6 151.5L666.8 164.6L667.0 153.5L667.2 168.2L667.4 149.5L667.6 168.2L667.8 153.1L668.0 169.6L668.2 154.8L668.3 167.8L668.5 154.8L668.7 168.2L668.9 154.9L669.1 166.8L669.3 149.1L669.5 169.2L669.7 154.7L669.9 166.6L670.1 153.4L670.3 164.7L670.5 154.1L670.7 164.3L670.9 154.8L671.0 171.0L671.2 152.5L671.4 164.2L671.6 153.3L671.8 164.2L672.0 154.6L672.2 164.2L672.4 154.1L672.6 169.4L672.8 154.6L673.0 165.0L673.2 151.9L673.4 165.6L673.6 153.6L673.8 167.8L673.9 153.0L674.1 167.6L674.3 154.8L674.5 171.1L674.7 149.1L674.9 167.1L675.1 151.6L675.3 170.1L675.5 152.6L675.7 166.4L675.9 153.2L676.1 166.9L676.3 154.7L676.5 164.5L676.6 153.3L676.8 171.0L677.0 149.6L677.2 164.2L677.4 154.9L677.6 165.4L677.8 148.1L678.0 164.2L678.2 151.8L678.4 165.1L678.6 153.9L678.8 166.4L679.0 152.9L679.2 166.9L679.3 150.3L679.5 168.5L679.7 152.8L679.9 168.4L680.1 153.7L680.3 164.8L680.5 152.5L680.7 164.3L680.9 154.0L681.1 167.4L681.3 147.9L681.5 164.7L681.7 153.1L681.9 169.9L682.0 155.1L682.2 169.7L682.4 150.5L682.6 165.6L682.8 154.8L683.0 169.1L683.2 148.0L683.4 166.1L683.6 153.8L683.8 169.1L684.0 149.1L684.2 164.7L684.4 154.1L684.6 165.5L684.7 149.4L684.9 165.4L685.1 151.8L685.3 164.1L685.5 154.5L685.7 164.2L685.9 154.6L686.1 166.3L686.3 152.2L686.5 168.3L686.7 153.5L686.9 164.6L687.1 148.3L687.3 164.4L687.5 154.5L687.6 167.2L687.8 154.6L688.0 166.6L688.2 152.8L688.4 169.2L688.6 151.0L688.8 166.1L689.0 154.7L689.2 166.0L689.4 154.7L689.6 164.7L689.8 153.5L690.0 164.3L690.2 152.2L690.3 165.0L690.5 148.9L690.7 166.5L690.9 148.9L691.1 167.6L691.3 153.2L691.5 170.9L691.7 150.2L691.9 164.4L692.1 154.3L692.3 164.5L692.5 153.4L692.7 164.7L692.9 153.8L693.0 165.9L693.2 152.6L693.4 165.9L693.6 148.3L693.8 165.0L694.0 153.8L694.2 170.2L694.4 152.8L694.6 164.7L694.8 154.6L695.0 168.9L695.2 147.9L695.4 166.3L695.6 153.7L695.7 166.6L695.9 155.2L696.1 167.6L696.3 153.6L696.5 168.3L696.7 151.9L696.9 164.2L697.1 149.5L697.3 165.0L697.5 154.8L697.7 165.3L697.9 153.8L698.1 166.0L698.3 151.6L698.5 164.3L698.6 154.7L698.8 165.8L699.0 148.7L699.2 164.7L699.4 155.3L699.6 164.1L699.8 152.9L700.0 171.8L700.2 155.2L700.4 164.6L700.6 151.5L700.8 179.7L701.0 154.9L701.2 166.3L701.3 154.6L701.5 167.3L701.7 153.0L701.9 166.6L702.1 155.2L702.3 165.3L702.5 150.5L702.7 164.8L702.9 149.1L703.1 164.7L703.3 149.0L703.5 166.7L703.7 152.9L703.9 167.1L704.0 153.6L704.2 169.1L704.4 154.5L704.6 172.2L704.8 155.0L705.0 165.8L705.2 154.5L705.4 166.3L705.6 154.6L705.8 166.8L706.0 153.7L706.2 167.0L706.4 153.9L706.6 165.3L706.7 154.3L706.9 165.8L707.1 151.5L707.3 171.7L707.5 154.2L707.7 165.0L707.9 154.5L708.1 164.4L708.3 149.5L708.5 164.9L708.7 154.2L708.9 165.5L709.1 151.4L709.3 165.4L709.4 152.1L709.6 166.8L709.8 147.7L710.0 166.3L710.2 152.6L710.4 169.3L710.6 153.1L710.8 165.0L711.0 154.9L711.2 170.0L711.4 147.9L711.6 164.9L711.8 148.0L712.0 171.5L712.2 154.5L712.3 169.4L712.5 154.6L712.7 165.2L712.9 152.7L713.1 167.7L713.3 148.8L713.5 164.7L713.7 154.3L713.9 169.6L714.1 154.7L714.3 169.1L714.5 153.8L714.7 166.0L714.9 151.6L715.0 169.9L715.2 149.5L715.4 165.3L715.6 153.0L715.8 172.5L716.0 151.5L716.2 173.3L716.4 150.7L716.6 169.1L716.8 152.7L717.0 165.3L717.2 151.5L717.4 170.2L717.6 151.9L717.7 169.2L717.9 149.2L718.1 166.5L718.3 154.3L718.5 165.4L718.7 153.1L718.9 165.4L719.1 154.2L719.3 166.7L719.5 151.0L719.7 165.6L719.9 150.2L720.1 175.6L720.3 148.9L720.4 168.3L720.6 152.5L720.8 166.5L721.0 146.4L721.2 172.8L721.4 152.8L721.6 170.4L721.8 144.5L722.0 173.0L722.2 149.7L722.4 171.4L722.6 150.1L722.8 167.5L723.0 149.7L723.1 172.0L723.3 153.8L723.5 171.9L723.7 152.0L723.9 166.1L724.1 152.8L724.3 171.3L724.5 152.7" fill="none" stroke="#0000ff" stroke-width="1.85" stroke-linejoin="round" clip-path="url(#p0)"/>
<rect x="203.5" y="65.5" width="521.0" height="188.0" fill="none" stroke="#262626" stroke-width="1.25"/>
<path d="M333.5 253.5v-5.4M333.5 65.5v5.4M463.5 253.5v-5.4M463.5 65.5v5.4M594.5 253.5v-5.4M594.5 65.5v5.4M203.5 65.5h5.4M724.5 65.5h-5.4M203.5 159.5h5.4M724.5 159.5h-5.4M203.5 253.5h5.4M724.5 253.5h-5.4" stroke="#262626" stroke-width="1.25" fill="none"/>
<path d="M203.5 377.1L203.7 402.5L203.9 369.8L204.1 409.4L204.3 379.3L204.5 404.7L204.7 381.3L204.9 405.3L205.0 375.5L205.2 405.2L205.4 380.3L205.6 409.1L205.8 379.3L206.0 409.4L206.2 370.9L206.4 399.9L206.6 378.7L206.8 398.8L207.0 379.7L207.2 398.9L207.4 378.8L207.6 402.5L207.7 381.2L207.9 407.4L208.1 368.5L208.3 399.8L208.5 368.9L208.7 401.9L208.9 380.4L209.1 408.3L209.3 375.7L209.5 406.8L209.7 375.0L209.9 398.2L210.1 378.6L210.3 398.7L210.4 376.3L210.6 408.1L210.8 375.9L211.0 408.3L211.2 351.4L211.4 406.9L211.6 374.8L211.8 399.3L212.0 370.7L212.2 402.2L212.4 373.7L212.6 404.2L212.8 378.7L213.0 399.7L213.1 363.6L213.3 404.6L213.5 364.0L213.7 400.0L213.9 367.5L214.1 400.1L214.3 373.1L214.5 404.0L214.7 370.9L214.9 407.6L215.1 370.8L215.3 399.8L215.5 374.2L215.7 399.6L215.8 377.7L216.0 404.0L216.2 376.0L216.4 411.6L216.6 368.1L216.8 412.4L217.0 379.0L217.2 405.8L217.4 379.9L217.6 413.3L217.8 380.0L218.0 409.8L218.2 363.8L218.4 402.5L218.6 378.9L218.7 413.9L218.9 373.4L219.1 400.5L219.3 381.1L219.5 402.3L219.7 367.9L219.9 405.6L220.1 372.2L220.3 413.3L220.5 373.7L220.7 400.1L220.9 377.8L221.1 400.3L221.3 380.3L221.4 401.3L221.6 373.6L221.8 402.1L222.0 380.6L222.2 411.8L222.4 375.0L222.6 403.7L222.8 379.8L223.0 400.0L223.2 371.4L223.4 413.7L223.6 380.1L223.8 406.6L224.0 375.3L224.1 416.8L224.3 366.4L224.5 400.6L224.7 380.6L224.9 400.5L225.1 381.1L225.3 413.0L225.5 375.1L225.7 399.6L225.9 380.2L226.1 403.5L226.3 380.0L226.5 419.3L226.7 380.2L226.8 401.0L227.0 369.3L227.2 403.2L227.4 356.5L227.6 408.1L227.8 381.6L228.0 412.3L228.2 381.6L228.4 412.0L228.6 372.9L228.8 406.3L229.0 375.6L229.2 411.4L229.4 365.8L229.6 413.3L229.7 366.7L229.9 400.2L230.1 370.1L230.3 407.3L230.5 381.5L230.7 399.1L230.9 368.9L231.1 409.4L231.3 379.4L231.5 404.7L231.7 381.4L231.9 399.2L232.1 374.9L232.3 409.2L232.4 379.8L232.6 399.4L232.8 379.7L233.0 400.5L233.2 380.7L233.4 399.3L233.6 377.2L233.8 398.1L234.0 380.7L234.2 399.4L234.4 380.0L234.6 398.0L234.8 370.8L235.0 409.8L235.1 375.2L235.3 398.0L235.5 376.3L235.7 398.1L235.9 378.7L236.1 398.3L236.3 375.7L236.5 398.8L236.7 379.6L236.9 399.0L237.1 377.8L237.3 399.1L237.5 379.2L237.7 398.3L237.8 381.8L238.0 405.5L238.2 369.1L238.4 400.3L238.6 381.8L238.8 397.8L239.0 376.6L239.2 397.8L239.4 370.1L239.6 401.5L239.8 379.5L240.0 401.5L240.2 379.0L240.4 403.1L240.5 372.5L240.7 405.5L240.9 378.1L241.1 405.6L241.3 381.0L241.5 403.6L241.7 377.0L241.9 400.9L242.1 376.3L242.3 401.0L242.5 374.7L242.7 411.5L242.9 376.5L243.1 409.1L243.3 371.2L243.4 408.2L243.6 381.7L243.8 401.2L244.0 376.9L244.2 403.1L244.4 382.1L244.6 403.9L244.8 378.4L245.0 398.2L245.2 371.2L245.4 407.1L245.6 380.7L245.8 397.7L246.0 374.3L246.1 398.0L246.3 370.8L246.5 402.7L246.7 381.3L246.9 403.3L247.1 381.6L247.3 398.3L247.5 379.7L247.7 406.5L247.9 377.3L248.1 398.2L248.3 379.5L248.5 399.8L248.7 380.1L248.8 401.0L249.0 381.9L249.2 398.4L249.4 382.4L249.6 399.7L249.8 379.5L250.0 405.2L250.2 370.3L250.4 400.5L250.6 380.7L250.8 398.2L251.0 370.9L251.2 402.5L251.4 375.5L251.5 405.1L251.7 377.3L251.9 405.5L252.1 382.4L252.3 398.9L252.5 374.8L252.7 397.5L252.9 381.6L253.1 399.1L253.3 374.6L253.5 404.1L253.7 382.5L253.9 397.7L254.1 380.8L254.2 403.2L254.4 359.0L254.6 398.8L254.8 374.2L255.0 402.3L255.2 371.8L255.4 402.2L255.6 381.0L255.8 402.9L256.0 381.1L256.2 407.1L256.4 382.0L256.6 406.1L256.8 371.9L257.0 398.6L257.1 381.6L257.3 397.9L257.5 373.6L257.7 404.0L257.9 375.0L258.1 404.1L258.3 377.4L258.5 400.2L258.7 380.5L258.9 402.0L259.1 375.1L259.3 405.8L259.5 380.0L259.7 399.6L259.8 381.1L260.0 398.7L260.2 377.7L260.4 400.7L260.6 382.1L260.8 399.8L261.0 379.3L261.2 402.2L261.4 381.0L261.6 408.4L261.8 381.4L262.0 401.1L262.2 372.2L262.4 397.9L262.5 382.9L262.7 400.4L262.9 380.9L263.1 397.8L263.3 374.5L263.5 397.9L263.7 377.4L263.9 398.0L264.1 376.6L264.3 398.1L264.5 379.9L264.7 407.1L264.9 379.1L265.1 402.9L265.2 381.3L265.4 401.7L265.6 370.1L265.8 404.4L266.0 372.7L266.2 405.4L266.4 381.8L266.6 408.0L266.8 380.6L267.0 407.8L267.2 382.0L267.4 401.1L267.6 371.6L267.8 397.8L267.9 372.5L268.1 407.1L268.3 376.5L268.5 397.7L268.7 382.4L268.9 400.8L269.1 381.5L269.3 398.3L269.5 382.8L269.7 401.8L269.9 382.8L270.1 406.8L270.3 376.3L270.5 407.9L270.7 374.8L270.8 404.5L271.0 372.1L271.2 406.1L271.4 380.9L271.6 406.7L271.8 378.2L272.0 397.6L272.2 382.5L272.4 398.1L272.6 382.2L272.8 404.2L273.0 382.3L273.2 397.5L273.4 376.2L273.5 402.2L273.7 382.5L273.9 398.1L274.1 380.8L274.3 403.5L274.5 381.3L274.7 397.2L274.9 381.6L275.1 404.2L275.3 371.4L275.5 400.0L275.7 375.8L275.9 397.2L276.1 377.7L276.2 404.7L276.4 373.3L276.6 402.2L276.8 381.4L277.0 397.6L277.2 381.8L277.4 398.2L277.6 379.7L277.8 397.7L278.0 373.3L278.2 397.9L278.4 369.2L278.6 399.0L278.8 381.0L278.9 407.8L279.1 369.0L279.3 407.7L279.5 370.4L279.7 398.8L279.9 381.4L280.1 398.7L280.3 379.8L280.5 399.8L280.7 381.4L280.9 399.1L281.1 379.9L281.3 398.5L281.5 381.8L281.6 402.3L281.8 378.4L282.0 403.6L282.2 382.0L282.4 398.6L282.6 382.3L282.8 405.7L283.0 372.5L283.2 402.4L283.4 380.4L283.6 402.5L283.8 380.3L284.0 413.0L284.2 381.0L284.4 411.7L284.5 377.8L284.7 400.3L284.9 381.5L285.1 404.0L285.3 370.7L285.5 400.0L285.7 381.2L285.9 405.9L286.1 376.4L286.3 406.1L286.5 375.1L286.7 399.6L286.9 373.6L287.1 403.8L287.2 371.2L287.4 408.6L287.6 379.8L287.8 400.8L288.0 370.6L288.2 404.5L288.4 380.5L288.6 400.8L288.8 375.7L289.0 407.5L289.2 376.7L289.4 400.0L289.6 378.3L289.8 399.9L289.9 375.9L290.1 405.5L290.3 379.1L290.5 407.9L290.7 379.4L290.9 406.0L291.1 370.7L291.3 416.5L291.5 375.2L291.7 410.3L291.9 378.0L292.1 400.6L292.3 375.0L292.5 399.6L292.6 379.6L292.8 413.6L293.0 376.5L293.2 411.7L293.4 373.5L293.6 414.6L293.8 378.4L294.0 414.5L294.2 376.9L294.4 410.8L294.6 367.5L294.8 400.8L295.0 376.3L295.2 400.6L295.4 379.2L295.5 415.9L295.7 379.6L295.9 404.5L296.1 368.9L296.3 402.0L296.5 359.4L296.7 408.8L296.9 339.5L297.1 408.2L297.3 376.2L297.5 401.5L297.7 370.7L297.9 405.4L298.1 377.6L298.2 409.3L298.4 379.2L298.6 403.2L298.8 363.1L299.0 405.2L299.2 378.4L299.4 408.4L299.6 368.0L299.8 403.2L300.0 373.4L300.2 406.1L300.4 378.2L300.6 418.4L300.8 377.4L300.9 411.6L301.1 375.5L301.3 404.2L301.5 377.4L301.7 403.7L301.9 359.0L302.1 408.7L302.3 371.0L302.5 404.2L302.7 375.9L302.9 409.4L303.1 376.8L303.3 403.6L303.5 358.3L303.6 432.7L303.8 361.6L304.0 408.8L304.2 377.3L304.4 418.8L304.6 367.2L304.8 404.4L305.0 377.4L305.2 415.4L305.4 375.5L305.6 405.8L305.8 368.7L306.0 423.6L306.2 357.6L306.3 404.0L306.5 367.6L306.7 413.7L306.9 371.3L307.1 405.0L307.3 377.4L307.5 403.4L307.7 377.6L307.9 408.9L308.1 363.4L308.3 404.8L308.5 373.8L308.7 414.5L308.9 375.8L309.1 405.8L309.2 361.5L309.4 404.5L309.6 363.2L309.8 405.1L310.0 373.1L310.2 405.2L310.4 372.7L310.6 404.6L310.8 373.7L311.0 411.8L311.2 377.3L311.4 406.8L311.6 377.3L311.8 403.4L311.9 376.4L312.1 406.5L312.3 376.0L312.5 419.5L312.7 375.8L312.9 407.0L313.1 364.7L313.3 411.2L313.5 375.9L313.7 403.5L313.9 359.7L314.1 404.5L314.3 375.2L314.5 420.6L314.6 371.3L314.8 410.0L315.0 349.2L315.2 423.1L315.4 359.0L315.6 426.1L315.8 356.2L316.0 412.4L316.2 360.0L316.4 405.7L316.6 366.2L316.8 406.2L317.0 359.7L317.2 406.0L317.3 371.5L317.5 411.5L317.7 374.5L317.9 423.8L318.1 372.8L318.3 404.7L318.5 341.4L318.7 405.9L318.9 357.2L319.1 410.3L319.3 359.2L319.5 407.4L319.7 355.0L319.9 416.3L320.0 372.0L320.2 406.3L320.4 364.0L320.6 425.2L320.8 368.4L321.0 414.6L321.2 365.9L321.4 418.3L321.6 374.1L321.8 404.4L322.0 367.1L322.2 407.4L322.4 359.1L322.6 422.9L322.8 372.5L322.9 491.3L323.1 367.8L323.3 413.8L323.5 373.5L323.7 425.6L323.9 371.7L324.1 406.4L324.3 367.8L324.5 406.7L324.7 330.0L324.9 425.1L325.1 366.1L325.3 410.3L325.5 353.5L325.6 437.8L325.8 372.4L326.0 406.1L326.2 354.2L326.4 404.9L326.6 357.2L326.8 425.7L327.0 373.6L327.2 417.5L327.4 355.2L327.6 409.2L327.8 356.1L328.0 411.3L328.2 359.0L328.3 404.3L328.5 369.3L328.7 421.5L328.9 369.8L329.1 426.8L329.3 368.1L329.5 404.6L329.7 373.8L329.9 417.2L330.1 354.0L330.3 425.1L330.5 364.9L330.7 404.9L330.9 358.8L331.0 406.1L331.2 372.2L331.4 405.2L331.6 357.2L331.8 414.7L332.0 363.6L332.2 417.6L332.4 374.8L332.6 421.7L332.8 357.7L333.0 413.0L333.2 353.2L333.4 403.8L333.6 371.8L333.8 407.3L333.9 367.2L334.1 421.1L334.3 375.6L334.5 402.4L334.7 376.6L334.9 405.9L335.1 356.8L335.3 403.8L335.5 357.9L335.7 404.5L335.9 368.1L336.1 401.6L336.3 362.3L336.5 403.9L336.6 377.0L336.8 401.8L337.0 376.0L337.2 418.9L337.4 362.4L337.6 411.0L337.8 361.5L338.0 404.7L338.2 375.1L338.4 406.7L338.6 374.6L338.8 403.7L339.0 369.4L339.2 402.4L339.3 375.2L339.5 414.9L339.7 359.4L339.9 405.2L340.1 364.8L340.3 413.5L340.5 367.5L340.7 403.2L340.9 359.1L341.1 403.9L341.3 361.6L341.5 402.0L341.7 375.3L341.9 409.6L342.0 368.0L342.2 415.2L342.4 376.0L342.6 402.0L342.8 375.5L343.0 410.9L343.2 354.4L343.4 414.5L343.6 373.1L343.8 401.6L344.0 375.8L344.2 402.7L344.4 356.2L344.6 402.5L344.7 368.3L344.9 406.5L345.1 361.9L345.3 410.2L345.5 374.6L345.7 402.8L345.9 362.6L346.1 401.6L346.3 368.9L346.5 402.4L346.7 360.3L346.9 413.5L347.1 356.5L347.3 408.2L347.5 374.2L347.6 410.9L347.8 364.6L348.0 401.0L348.2 375.0L348.4 401.8L348.6 358.8L348.8 434.0L349.0 348.9L349.2 402.8L349.4 356.5L349.6 415.8L349.8 375.2L350.0 403.1L350.2 364.4L350.3 406.6L350.5 374.3L350.7 403.8L350.9 368.7L351.1 401.5L351.3 377.0L351.5 402.4L351.7 365.7L351.9 404.6L352.1 369.4L352.3 401.5L352.5 359.7L352.7 414.1L352.9 361.7L353.0 413.8L353.2 376.3L353.4 402.9L353.6 370.3L353.8 408.5L354.0 351.4L354.2 410.3L354.4 372.3L354.6 401.5L354.8 373.3L355.0 452.2L355.2 366.0L355.4 402.5L355.6 370.3L355.7 413.9L355.9 375.8L356.1 401.5L356.3 376.3L356.5 401.6L356.7 376.6L356.9 404.7L357.1 375.7L357.3 406.5L357.5 357.3L357.7 411.9L357.9 368.5L358.1 404.2L358.3 369.7L358.4 413.4L358.6 368.3L358.8 415.1L359.0 377.2L359.2 407.5L359.4 377.1L359.6 400.3L359.8 377.4L360.0 411.9L360.2 376.3L360.4 402.3L360.6 378.5L360.8 404.9L361.0 374.6L361.2 400.1L361.3 374.2L361.5 399.0L361.7 374.6L361.9 400.0L362.1 371.4L362.3 399.9L362.5 374.2L362.7 407.8L362.9 380.8L363.1 409.9L363.3 381.0L363.5 398.7L363.7 371.5L363.9 399.4L364.0 372.9L364.2 398.5L364.4 381.6L364.6 398.6L364.8 381.6L365.0 405.1L365.2 375.1L365.4 405.8L365.6 373.2L365.8 405.6L366.0 375.5L366.2 398.8L366.4 369.2L366.6 427.0L366.7 381.3L366.9 400.1L367.1 377.2L367.3 398.7L367.5 376.8L367.7 402.9L367.9 380.2L368.1 405.7L368.3 373.3L368.5 397.9L368.7 373.6L368.9 397.6L369.1 382.7L369.3 403.3L369.4 370.4L369.6 403.2L369.8 372.3L370.0 405.6L370.2 378.0L370.4 401.8L370.6 382.1L370.8 397.7L371.0 375.0L371.2 397.2L371.4 383.4L371.6 397.0L371.8 382.6L372.0 397.8L372.1 382.9L372.3 397.8L372.5 377.8L372.7 405.2L372.9 383.5L373.1 404.4L373.3 380.5L373.5 398.2L373.7 380.4L373.9 403.4L374.1 382.9L374.3 398.1L374.5 383.7L374.7 398.7L374.9 379.4L375.0 403.5L375.2 381.1L375.4 398.1L375.6 382.7L375.8 408.6L376.0 375.0L376.2 406.8L376.4 382.3L376.6 406.5L376.8 376.1L377.0 403.4L377.2 380.9L377.4 405.1L377.6 378.8L377.7 397.5L377.9 380.0L378.1 399.5L378.3 381.7L378.5 398.3L378.7 377.2L378.9 402.2L379.1 382.4L379.3 398.0L379.5 380.9L379.7 406.0L379.9 376.9L380.1 407.2L380.3 370.6L380.4 400.5L380.6 382.6L380.8 403.6L381.0 379.8L381.2 399.8L381.4 382.8L381.6 398.5L381.8 380.7L382.0 398.6L382.2 371.4L382.4 408.8L382.6 383.1L382.8 409.5L383.0 376.9L383.1 409.4L383.3 373.9L383.5 398.0L383.7 381.1L383.9 399.2L384.1 372.8L384.3 401.7L384.5 381.0L384.7 403.9L384.9 376.8L385.1 402.2L385.3 374.4L385.5 410.7L385.7 373.7L385.9 407.9L386.0 379.8L386.2 399.4L386.4 381.5L386.6 405.7L386.8 375.2L387.0 404.2L387.2 379.4L387.4 406.6L387.6 370.6L387.8 401.6L388.0 379.3L388.2 412.6L388.4 381.4L388.6 406.4L388.7 381.4L388.9 400.7L389.1 375.8L389.3 403.3L389.5 372.5L389.7 399.4L389.9 380.0L390.1 409.1L390.3 380.6L390.5 411.3L390.7 368.7L390.9 413.1L391.1 371.3L391.3 411.9L391.4 373.8L391.6 404.6L391.8 369.3L392.0 407.4L392.2 368.9L392.4 409.2L392.6 365.6L392.8 414.5L393.0 376.0L393.2 414.0L393.4 378.6L393.6 403.6L393.8 378.5L394.0 406.0L394.1 380.9L394.3 407.3L394.5 370.9L394.7 410.6L394.9 375.2L395.1 400.0L395.3 365.9L395.5 401.6L395.7 379.0L395.9 400.8L396.1 373.8L396.3 410.1L396.5 374.9L396.7 403.6L396.8 376.6L397.0 402.0L397.2 364.0L397.4 413.4L397.6 372.7L397.8 404.1L398.0 371.6L398.2 404.0L398.4 375.5L398.6 401.9L398.8 373.3L399.0 410.8L399.2 364.2L399.4 401.6L399.6 369.9L399.7 410.2L399.9 379.2L400.1 411.7L400.3 364.5L400.5 402.2L400.7 377.1L400.9 407.7L401.1 373.0L401.3 419.0L401.5 377.4L401.7 420.6L401.9 379.7L402.1 413.9L402.3 377.0L402.4 403.0L402.6 371.0L402.8 414.6L403.0 378.7L403.2 402.0L403.4 365.1L403.6 419.6L403.8 369.9L404.0 411.6L404.2 378.9L404.4 404.5L404.6 378.9L404.8 404.4L405.0 377.1L405.1 409.3L405.3 380.4L405.5 402.3L405.7 375.0L405.9 401.7L406.1 380.0L406.3 404.4L406.5 365.4L406.7 401.9L406.9 368.4L407.1 403.4L407.3 377.2L407.5 407.7L407.7 374.0L407.8 411.3L408.0 377.5L408.2 402.4L408.4 380.3L408.6 404.7L408.8 379.8L409.0 402.5L409.2 380.3L409.4 409.7L409.6 380.4L409.8 405.6L410.0 371.6L410.2 405.0L410.4 372.7L410.5 419.9L410.7 378.8L410.9 417.4L411.1 376.0L411.3 403.6L411.5 368.7L411.7 405.9L411.9 376.8L412.1 417.5L412.3 372.5L412.5 419.0L412.7 379.6L412.9 418.1L413.1 372.6L413.3 415.0L413.4 371.3L413.6 422.5L413.8 365.2L414.0 403.7L414.2 364.2L414.4 406.1L414.6 369.3L414.8 425.1L415.0 379.5L415.2 412.6L415.4 377.7L415.6 405.9L415.8 365.4L416.0 417.4L416.1 376.0L416.3 404.1L416.5 367.9L416.7 414.5L416.9 369.2L417.1 421.1L417.3 379.7L417.5 418.6L417.7 371.6L417.9 411.3L418.1 380.1L418.3 417.8L418.5 375.5L418.7 410.3L418.8 378.9L419.0 403.8L419.2 367.1L419.4 403.2L419.6 378.5L419.8 402.3L420.0 375.4L420.2 402.1L420.4 370.9L420.6 402.6L420.8 371.5L421.0 409.4L421.2 381.5L421.4 406.6L421.5 381.3L421.7 410.1L421.9 379.9L422.1 418.2L422.3 380.9L422.5 411.3L422.7 377.4L422.9 412.8L423.1 379.6L423.3 412.4L423.5 378.1L423.7 417.8L423.9 382.0L424.1 406.0L424.2 381.3L424.4 402.1L424.6 381.0L424.8 412.5L425.0 379.0L425.2 438.4L425.4 368.1L425.6 410.9L425.8 382.0L426.0 407.1L426.2 381.4L426.4 409.0L426.6 371.2L426.8 402.4L427.0 379.6L427.1 414.5L427.3 382.2L427.5 400.3L427.7 382.3L427.9 403.1L428.1 380.7L428.3 401.6L428.5 381.8L428.7 401.5L428.9 379.6L429.1 401.1L429.3 379.1L429.5 408.4L429.7 367.8L429.8 401.5L430.0 381.4L430.2 403.4L430.4 369.2L430.6 411.2L430.8 377.7L431.0 409.6L431.2 373.2L431.4 412.5L431.6 378.8L431.8 408.2L432.0 367.6L432.2 400.7L432.4 379.2L432.5 405.2L432.7 374.6L432.9 413.8L433.1 377.4L433.3 413.4L433.5 380.9L433.7 416.2L433.9 378.9L434.1 401.8L434.3 380.8L434.5 401.2L434.7 381.2L434.9 413.7L435.1 380.4L435.2 411.3L435.4 367.4L435.6 406.6L435.8 370.6L436.0 415.3L436.2 380.1L436.4 405.3L436.6 378.1L436.8 414.5L437.0 367.2L437.2 401.4L437.4 379.4L437.6 402.4L437.8 379.1L437.9 410.4L438.1 376.2L438.3 403.7L438.5 367.8L438.7 406.8L438.9 367.3L439.1 411.8L439.3 376.3L439.5 405.8L439.7 373.2L439.9 411.4L440.1 372.9L440.3 402.7L440.5 364.5L440.7 401.8L440.8 370.1L441.0 403.5L441.2 359.4L441.4 429.6L441.6 376.0L441.8 411.4L442.0 374.1L442.2 402.5L442.4 377.8L442.6 404.9L442.8 362.4L443.0 402.5L443.2 377.7L443.4 417.3L443.5 370.7L443.7 420.1L443.9 378.8L444.1 413.9L444.3 377.2L444.5 418.8L444.7 373.3L444.9 401.7L445.1 373.1L445.3 408.5L445.5 377.1L445.7 402.8L445.9 370.2L446.1 408.7L446.2 370.7L446.4 404.7L446.6 376.7L446.8 403.6L447.0 370.1L447.2 410.9L447.4 377.0L447.6 421.7L447.8 363.7L448.0 401.5L448.2 379.6L448.4 413.9L448.6 368.3L448.8 401.2L448.9 366.0L449.1 407.0L449.3 368.9L449.5 402.6L449.7 377.5L449.9 413.2L450.1 378.7L450.3 407.2L450.5 372.5L450.7 416.5L450.9 363.7L451.1 419.0L451.3 379.8L451.5 402.6L451.7 375.5L451.8 401.8L452.0 380.2L452.2 412.8L452.4 371.9L452.6 405.0L452.8 371.2L453.0 413.2L453.2 375.3L453.4 403.9L453.6 368.1L453.8 403.1L454.0 377.0L454.2 404.7L454.4 380.1L454.5 401.4L454.7 374.6L454.9 401.4L455.1 374.8L455.3 409.2L455.5 378.9L455.7 410.7L455.9 376.2L456.1 413.4L456.3 379.7L456.5 402.6L456.7 379.1L456.9 411.5L457.1 377.6L457.2 416.7L457.4 370.3L457.6 402.7L457.8 375.3L458.0 406.8L458.2 379.4L458.4 415.4L458.6 380.3L458.8 407.9L459.0 376.7L459.2 404.6L459.4 367.3L459.6 416.5L459.8 381.0L459.9 401.3L460.1 373.3L460.3 401.4L460.5 381.0L460.7 415.9L460.9 376.2L461.1 402.0L461.3 369.7L461.5 401.8L461.7 381.0L461.9 411.4L462.1 369.2L462.3 403.4L462.5 374.3L462.6 420.0L462.8 372.4L463.0 410.6L463.2 380.3L463.4 402.6L463.6 372.5L463.8 402.9L464.0 380.7L464.2 403.6L464.4 369.1L464.6 417.7L464.8 381.1L465.0 401.9L465.2 376.2L465.4 403.7L465.5 377.7L465.7 400.8L465.9 381.1L466.1 425.8L466.3 374.6L466.5 401.5L466.7 371.5L466.9 409.8L467.1 377.3L467.3 409.0L467.5 381.1L467.7 403.6L467.9 372.9L468.1 408.4L468.2 373.3L468.4 408.8L468.6 378.8L468.8 405.5L469.0 379.2L469.2 402.7L469.4 380.8L469.6 401.8L469.8 374.2L470.0 400.6L470.2 381.9L470.4 405.4L470.6 370.2L470.8 404.4L470.9 369.9L471.1 399.7L471.3 380.5L471.5 400.3L471.7 381.3L471.9 400.0L472.1 374.8L472.3 402.3L472.5 381.5L472.7 402.0L472.9 371.4L473.1 403.8L473.3 375.4L473.5 411.4L473.6 374.7L473.8 406.5L474.0 373.6L474.2 399.5L474.4 378.9L474.6 400.9L474.8 381.7L475.0 404.2L475.2 378.2L475.4 399.5L475.6 381.0L475.8 403.9L476.0 378.0L476.2 405.5L476.3 373.8L476.5 404.0L476.7 379.4L476.9 401.3L477.1 372.9L477.3 399.3L477.5 378.0L477.7 402.5L477.9 370.6L478.1 399.7L478.3 377.3L478.5 401.4L478.7 370.7L478.9 404.6L479.1 380.3L479.2 402.5L479.4 380.0L479.6 399.5L479.8 368.8L480.0 399.1L480.2 372.4L480.4 408.0L480.6 375.8L480.8 409.5L481.0 370.1L481.2 411.7L481.4 370.5L481.6 403.9L481.8 373.7L481.9 402.4L482.1 378.3L482.3 402.8L482.5 380.1L482.7 401.1L482.9 372.3L483.1 406.8L483.3 373.9L483.5 402.3L483.7 381.5L483.9 400.0L484.1 381.5L484.3 411.7L484.5 381.5L484.6 398.6L484.8 372.7L485.0 409.6L485.2 380.3L485.4 398.6L485.6 380.0L485.8 399.2L486.0 377.1L486.2 401.8L486.4 380.5L486.6 402.3L486.8 378.9L487.0 398.8L487.2 376.1L487.3 412.4L487.5 380.3L487.7 408.0L487.9 381.8L488.1 412.2L488.3 380.6L488.5 402.7L488.7 374.9L488.9 412.8L489.1 368.7L489.3 403.5L489.5 378.8L489.7 400.9L489.9 380.8L490.0 409.2L490.2 381.9L490.4 400.2L490.6 372.8L490.8 404.7L491.0 378.6L491.2 412.6L491.4 380.6L491.6 406.3L491.8 380.6L492.0 408.6L492.2 373.8L492.4 414.5L492.6 379.2L492.8 400.1L492.9 374.4L493.1 401.4L493.3 380.7L493.5 408.8L493.7 381.1L493.9 410.4L494.1 378.9L494.3 412.6L494.5 375.3L494.7 400.1L494.9 380.8L495.1 408.3L495.3 372.6L495.5 412.0L495.6 375.9L495.8 401.9L496.0 372.4L496.2 401.4L496.4 367.9L496.6 402.4L496.8 380.5L497.0 411.3L497.2 368.3L497.4 400.4L497.6 379.9L497.8 414.2L498.0 375.0L498.2 404.4L498.3 377.2L498.5 403.1L498.7 380.2L498.9 409.6L499.1 374.0L499.3 401.5L499.5 366.9L499.7 411.8L499.9 375.4L500.1 401.3L500.3 377.2L500.5 400.9L500.7 368.4L500.9 400.5L501.0 370.1L501.2 410.6L501.4 377.6L501.6 403.9L501.8 380.6L502.0 401.6L502.2 379.2L502.4 406.8L502.6 378.4L502.8 413.9L503.0 366.5L503.2 400.8L503.4 381.1L503.6 408.2L503.8 376.7L503.9 402.4L504.1 368.7L504.3 403.1L504.5 372.9L504.7 410.0L504.9 373.0L505.1 401.9L505.3 374.8L505.5 410.4L505.7 381.7L505.9 410.2L506.1 372.9L506.3 399.5L506.5 383.0L506.6 399.8L506.8 382.0L507.0 400.8L507.2 381.9L507.4 406.1L507.6 383.2L507.8 401.6L508.0 382.8L508.2 406.8L508.4 370.6L508.6 399.3L508.8 382.7L509.0 409.1L509.2 379.4L509.3 399.3L509.5 382.6L509.7 410.1L509.9 381.0L510.1 403.5L510.3 383.1L510.5 408.5L510.7 378.9L510.9 398.9L511.1 381.9L511.3 398.2L511.5 380.2L511.7 398.7L511.9 383.5L512.0 401.8L512.2 380.4L512.4 405.9L512.6 373.9L512.8 405.4L513.0 383.8L513.2 397.9L513.4 383.6L513.6 403.0L513.8 383.8L514.0 397.7L514.2 383.7L514.4 405.7L514.6 378.8L514.7 408.7L514.9 374.9L515.1 397.7L515.3 375.8L515.5 397.8L515.7 381.6L515.9 400.2L516.1 382.3L516.3 402.8L516.5 377.8L516.7 399.7L516.9 376.6L517.1 397.8L517.3 383.2L517.5 402.8L517.6 379.5L517.8 400.0L518.0 382.1L518.2 397.4L518.4 374.2L518.6 397.5L518.8 379.7L519.0 399.2L519.2 377.8L519.4 404.4L519.6 382.4L519.8 406.6L520.0 383.2L520.2 397.2L520.3 383.2L520.5 397.3L520.7 382.5L520.9 408.1L521.1 380.0L521.3 398.3L521.5 381.3L521.7 399.0L521.9 377.4L522.1 409.5L522.3 376.2L522.5 404.0L522.7 380.5L522.9 400.2L523.0 374.6L523.2 413.0L523.4 371.0L523.6 410.3L523.8 378.4L524.0 402.9L524.2 368.8L524.4 411.1L524.6 380.0L524.8 409.3L525.0 370.3L525.2 408.2L525.4 372.1L525.6 400.9L525.7 379.2L525.9 413.4L526.1 379.1L526.3 413.6L526.5 372.0L526.7 401.2L526.9 362.0L527.1 402.6L527.3 372.3L527.5 402.7L527.7 375.7L527.9 404.6L528.1 368.9L528.3 416.1L528.4 370.8L528.6 403.6L528.8 378.3L529.0 410.3L529.2 371.6L529.4 406.4L529.6 376.2L529.8 415.7L530.0 379.5L530.2 419.8L530.4 376.2L530.6 411.6L530.8 377.8L531.0 406.7L531.2 375.8L531.3 422.5L531.5 368.9L531.7 408.8L531.9 363.2L532.1 404.4L532.3 376.0L532.5 418.2L532.7 363.4L532.9 424.7L533.1 377.4L533.3 419.9L533.5 374.3L533.7 424.2L533.9 377.7L534.0 423.1L534.2 365.3L534.4 424.1L534.6 374.9L534.8 411.7L535.0 376.9L535.2 403.6L535.4 372.7L535.6 403.4L535.8 379.1L536.0 407.2L536.2 377.7L536.4 403.8L536.6 376.4L536.7 414.9L536.9 373.2L537.1 420.1L537.3 378.3L537.5 407.1L537.7 378.6L537.9 403.6L538.1 376.4L538.3 406.1L538.5 370.3L538.7 407.1L538.9 367.5L539.1 410.1L539.3 377.0L539.4 412.2L539.6 380.3L539.8 405.4L540.0 377.3L540.2 409.6L540.4 378.2L540.6 402.6L540.8 377.5L541.0 403.4L541.2 380.7L541.4 401.4L541.6 373.4L541.8 400.1L542.0 381.7L542.1 400.9L542.3 373.7L542.5 399.3L542.7 374.2L542.9 409.7L543.1 382.7L543.3 404.0L543.5 375.2L543.7 411.1L543.9 367.9L544.1 402.2L544.3 350.2L544.5 408.1L544.7 376.9L544.9 405.4L545.0 362.6L545.2 445.3L545.4 370.5L545.6 406.1L545.8 374.2L546.0 409.1L546.2 374.5L546.4 406.2L546.6 374.9L546.8 423.3L547.0 373.8L547.2 407.7L547.4 357.7L547.6 410.7L547.7 360.8L547.9 406.3L548.1 360.5L548.3 409.6L548.5 352.0L548.7 420.9L548.9 374.3L549.1 411.0L549.3 364.0L549.5 405.9L549.7 368.5L549.9 417.3L550.1 367.5L550.3 407.6L550.4 359.5L550.6 412.1L550.8 374.2L551.0 431.2L551.2 374.3L551.4 428.6L551.6 362.7L551.8 421.7L552.0 373.8L552.2 408.8L552.4 369.7L552.6 414.6L552.8 369.6L553.0 439.0L553.1 360.1L553.3 434.1L553.5 366.2L553.7 420.6L553.9 369.9L554.1 410.5L554.3 357.0L554.5 409.7L554.7 333.8L554.9 425.8L555.1 348.8L555.3 408.6L555.5 373.0L555.7 432.3L555.9 367.8L556.0 431.6L556.2 352.7L556.4 430.2L556.6 361.7L556.8 408.8L557.0 350.0L557.2 406.5L557.4 369.0L557.6 413.9L557.8 358.7L558.0 418.2L558.2 373.3L558.4 430.7L558.6 371.5L558.7 426.5L558.9 364.6L559.1 410.0L559.3 360.1L559.5 434.0L559.7 369.7L559.9 409.8L560.1 359.5L560.3 427.1L560.5 373.2L560.7 409.8L560.9 342.0L561.1 430.7L561.3 364.1L561.4 427.8L561.6 352.2L561.8 411.8L562.0 359.3L562.2 421.1L562.4 358.7L562.6 407.1L562.8 373.6L563.0 423.7L563.2 357.9L563.4 419.4L563.6 358.5L563.8 406.0L564.0 355.9L564.1 416.0L564.3 364.9L564.5 413.2L564.7 358.5L564.9 424.8L565.1 348.9L565.3 420.1L565.5 373.0L565.7 403.9L565.9 375.6L566.1 417.1L566.3 368.2L566.5 417.6L566.7 374.2L566.8 409.7L567.0 358.9L567.2 403.0L567.4 376.9L567.6 403.1L567.8 373.5L568.0 404.7L568.2 366.9L568.4 407.6L568.6 378.0L568.8 414.5L569.0 377.9L569.2 402.3L569.4 378.4L569.6 401.5L569.7 373.7L569.9 408.7L570.1 361.6L570.3 411.3L570.5 376.0L570.7 409.3L570.9 380.2L571.1 399.8L571.3 379.6L571.5 399.7L571.7 379.5L571.9 407.1L572.1 379.2L572.3 399.1L572.4 381.0L572.6 407.9L572.8 382.0L573.0 398.8L573.2 382.0L573.4 398.0L573.6 382.3L573.8 401.7L574.0 372.6L574.2 397.2L574.4 381.5L574.6 398.2L574.8 382.0L575.0 403.0L575.1 383.6L575.3 399.7L575.5 380.3L575.7 398.7L575.9 381.6L576.1 397.7L576.3 380.3L576.5 404.3L576.7 378.4L576.9 397.1L577.1 378.7L577.3 398.7L577.5 383.0L577.7 396.7L577.8 375.7L578.0 399.0L578.2 374.8L578.4 397.0L578.6 375.6L578.8 406.5L579.0 383.0L579.2 397.1L579.4 383.9L579.6 405.5L579.8 375.2L580.0 406.8L580.2 382.6L580.4 399.7L580.5 383.2L580.7 397.2L580.9 383.6L581.1 401.3L581.3 374.9L581.5 396.9L581.7 379.8L581.9 396.9L582.1 382.3L582.3 397.2L582.5 383.2L582.7 400.8L582.9 379.4L583.1 407.5L583.3 380.0L583.4 399.3L583.6 375.4L583.8 400.2L584.0 376.0L584.2 408.8L584.4 371.5L584.6 408.5L584.8 370.6L585.0 400.7L585.2 376.3L585.4 416.8L585.6 374.0L585.8 409.1L586.0 378.2L586.1 405.0L586.3 375.4L586.5 417.2L586.7 374.3L586.9 414.3L587.1 376.6L587.3 408.8L587.5 374.0L587.7 403.7L587.9 374.5L588.1 407.1L588.3 363.6L588.5 402.9L588.7 373.9L588.8 401.4L589.0 361.1L589.2 414.2L589.4 369.5L589.6 403.4L589.8 373.5L590.0 409.4L590.2 372.3L590.4 401.1L590.6 378.4L590.8 403.3L591.0 376.1L591.2 404.9L591.4 377.7L591.5 403.4L591.7 375.4L591.9 418.2L592.1 373.9L592.3 406.9L592.5 377.7L592.7 402.3L592.9 369.6L593.1 419.1L593.3 379.3L593.5 404.7L593.7 375.4L593.9 413.4L594.1 375.7L594.2 402.3L594.4 366.3L594.6 401.8L594.8 372.8L595.0 416.5L595.2 374.9L595.4 402.8L595.6 371.1L595.8 410.6L596.0 375.6L596.2 408.6L596.4 361.1L596.6 406.4L596.8 377.3L597.0 400.8L597.1 366.9L597.3 403.2L597.5 370.9L597.7 413.1L597.9 380.0L598.1 412.0L598.3 379.4L598.5 406.2L598.7 376.9L598.9 400.9L599.1 378.9L599.3 401.2L599.5 379.6L599.7 401.5L599.8 368.6L600.0 416.6L600.2 367.5L600.4 401.0L600.6 376.2L600.8 405.2L601.0 379.0L601.2 402.9L601.4 371.8L601.6 411.8L601.8 379.5L602.0 406.1L602.2 379.9L602.4 403.9L602.5 378.6L602.7 408.8L602.9 375.6L603.1 428.3L603.3 369.5L603.5 416.5L603.7 379.0L603.9 405.0L604.1 377.8L604.3 404.8L604.5 379.7L604.7 402.0L604.9 375.5L605.1 407.0L605.2 374.3L605.4 406.7L605.6 379.7L605.8 401.0L606.0 378.1L606.2 400.9L606.4 370.3L606.6 409.8L606.8 378.5L607.0 411.0L607.2 364.7L607.4 404.3L607.6 375.8L607.8 404.1L608.0 370.4L608.1 405.6L608.3 380.4L608.5 417.0L608.7 364.5L608.9 406.9L609.1 371.4L609.3 409.9L609.5 367.6L609.7 411.7L609.9 380.6L610.1 402.8L610.3 374.0L610.5 416.3L610.7 380.7L610.8 404.8L611.0 379.1L611.2 403.1L611.4 344.5L611.6 401.5L611.8 369.8L612.0 400.5L612.2 379.3L612.4 400.2L612.6 375.6L612.8 401.3L613.0 380.0L613.2 407.3L613.4 371.5L613.5 409.1L613.7 380.2L613.9 403.9L614.1 381.7L614.3 401.4L614.5 382.3L614.7 404.8L614.9 377.3L615.1 402.2L615.3 382.3L615.5 398.5L615.7 382.2L615.9 403.9L616.1 381.4L616.2 406.7L616.4 383.6L616.6 400.8L616.8 380.2L617.0 408.3L617.2 382.5L617.4 398.4L617.6 375.8L617.8 408.2L618.0 383.2L618.2 407.2L618.4 383.0L618.6 407.3L618.8 375.6L618.9 399.7L619.1 383.7L619.3 400.9L619.5 382.7L619.7 399.9L619.9 380.8L620.1 399.7L620.3 375.0L620.5 408.9L620.7 382.6L620.9 399.1L621.1 383.9L621.3 402.7L621.5 382.1L621.7 406.7L621.8 379.0L622.0 401.8L622.2 381.4L622.4 400.5L622.6 376.2L622.8 401.3L623.0 382.6L623.2 404.0L623.4 384.4L623.6 398.0L623.8 382.9L624.0 408.4L624.2 379.9L624.4 406.7L624.5 383.4L624.7 406.2L624.9 383.8L625.1 400.1L625.3 384.3L625.5 400.8L625.7 383.5L625.9 398.4L626.1 378.0L626.3 409.6L626.5 383.3L626.7 406.1L626.9 384.5L627.1 402.3L627.2 378.8L627.4 404.0L627.6 380.1L627.8 406.3L628.0 380.5L628.2 404.9L628.4 381.4L628.6 400.6L628.8 382.9L629.0 403.3L629.2 379.7L629.4 404.0L629.6 384.0L629.8 404.3L629.9 378.9L630.1 399.8L630.3 383.2L630.5 404.5L630.7 383.6L630.9 404.6L631.1 383.3L631.3 405.5L631.5 382.3L631.7 406.9L631.9 373.4L632.1 403.3L632.3 383.0L632.5 404.2L632.6 382.1L632.8 411.3L633.0 380.1L633.2 406.6L633.4 383.2L633.6 412.2L633.8 381.8L634.0 404.0L634.2 381.9L634.4 400.3L634.6 376.7L634.8 411.6L635.0 382.7L635.2 406.8L635.4 383.6L635.5 401.6L635.7 382.8L635.9 410.3L636.1 383.9L636.3 416.2L636.5 377.2L636.7 399.5L636.9 379.9L637.1 402.6L637.3 380.9L637.5 402.7L637.7 378.8L637.9 405.8L638.1 383.7L638.2 405.5L638.4 383.4L638.6 399.8L638.8 379.8L639.0 402.4L639.2 375.9L639.4 403.4L639.6 383.7L639.8 400.7L640.0 382.5L640.2 405.7L640.4 379.7L640.6 398.3L640.8 375.7L640.9 409.4L641.1 380.1L641.3 397.8L641.5 381.0L641.7 398.2L641.9 381.0L642.1 401.6L642.3 385.0L642.5 399.2L642.7 380.1L642.9 397.2L643.1 380.4L643.3 404.2L643.5 382.4L643.6 398.2L643.8 380.8L644.0 397.0L644.2 384.9L644.4 402.2L644.6 385.1L644.8 398.2L645.0 384.3L645.2 406.1L645.4 378.2L645.6 399.9L645.8 381.8L646.0 397.2L646.2 384.6L646.3 400.0L646.5 380.0L646.7 404.9L646.9 384.1L647.1 401.9L647.3 377.0L647.5 398.0L647.7 381.5L647.9 403.1L648.1 381.1L648.3 401.5L648.5 376.0L648.7 399.4L648.9 380.6L649.1 402.6L649.2 376.3L649.4 402.3L649.6 384.7L649.8 405.1L650.0 382.6L650.2 397.1L650.4 382.2L650.6 406.8L650.8 385.1L651.0 402.8L651.2 385.0L651.4 401.8L651.6 382.6L651.8 396.9L651.9 380.7L652.1 403.7L652.3 377.9L652.5 397.0L652.7 384.7L652.9 400.0L653.1 383.9L653.3 401.3L653.5 380.6L653.7 398.0L653.9 383.1L654.1 398.4L654.3 382.9L654.5 397.4L654.6 381.7L654.8 401.2L655.0 377.2L655.2 398.6L655.4 382.6L655.6 405.3L655.8 377.7L656.0 397.6L656.2 383.7L656.4 397.2L656.6 378.5L656.8 401.4L657.0 383.3L657.2 397.4L657.3 380.0L657.5 398.0L657.7 385.4L657.9 397.0L658.1 379.7L658.3 398.5L658.5 383.3L658.7 397.8L658.9 385.2L659.1 402.5L659.3 380.2L659.5 404.4L659.7 384.6L659.9 401.3L660.1 381.6L660.2 398.9L660.4 382.0L660.6 404.7L660.8 382.3L661.0 397.9L661.2 382.8L661.4 396.9L661.6 384.8L661.8 399.6L662.0 382.9L662.2 402.5L662.4 385.4L662.6 403.6L662.8 384.9L662.9 396.7L663.1 384.0L663.3 398.5L663.5 384.1L663.7 400.4L663.9 381.3L664.1 401.8L664.3 382.2L664.5 397.5L664.7 383.1L664.9 402.5L665.1 385.1L665.3 404.8L665.5 376.6L665.6 397.2L665.8 381.4L666.0 402.1L666.2 385.0L666.4 403.3L666.6 384.9L666.8 406.2L667.0 385.1L667.2 403.7L667.4 379.0L667.6 406.8L667.8 383.8L668.0 397.1L668.2 384.9L668.3 397.1L668.5 384.1L668.7 404.7L668.9 383.2L669.1 397.3L669.3 377.4L669.5 397.2L669.7 379.2L669.9 400.1L670.1 375.8L670.3 405.6L670.5 380.1L670.7 405.6L670.9 382.0L671.0 396.6L671.2 381.6L671.4 396.7L671.6 383.1L671.8 396.7L672.0 382.7L672.2 399.0L672.4 384.4L672.6 397.1L672.8 376.4L673.0 396.9L673.2 384.7L673.4 405.1L673.6 382.4L673.8 400.6L673.9 382.7L674.1 405.3L674.3 383.5L674.5 399.5L674.7 384.1L674.9 406.8L675.1 384.7L675.3 402.5L675.5 384.7L675.7 397.3L675.9 379.6L676.1 397.0L676.3 380.5L676.5 400.1L676.6 382.9L676.8 405.8L677.0 375.6L677.2 397.3L677.4 384.1L677.6 399.6L677.8 385.1L678.0 396.5L678.2 384.4L678.4 399.8L678.6 384.7L678.8 401.1L679.0 382.9L679.2 397.0L679.3 382.1L679.5 397.0L679.7 383.7L679.9 399.9L680.1 375.6L680.3 401.0L680.5 384.7L680.7 404.0L680.9 384.6L681.1 405.0L681.3 384.7L681.5 403.2L681.7 377.5L681.9 398.1L682.0 382.9L682.2 401.6L682.4 378.2L682.6 397.3L682.8 382.3L683.0 396.9L683.2 384.4L683.4 398.2L683.6 381.1L683.8 399.2L684.0 384.4L684.2 397.8L684.4 384.7L684.6 399.8L684.7 384.3L684.9 402.0L685.1 384.2L685.3 398.9L685.5 382.9L685.7 406.0L685.9 380.3L686.1 401.1L686.3 384.7L686.5 397.3L686.7 383.7L686.9 401.4L687.1 380.9L687.3 399.5L687.5 383.2L687.6 398.1L687.8 383.5L688.0 401.9L688.2 384.1L688.4 404.2L688.6 378.5L688.8 398.4L689.0 376.0L689.2 403.7L689.4 377.5L689.6 404.0L689.8 377.7L690.0 399.0L690.2 384.0L690.3 401.2L690.5 383.6L690.7 400.1L690.9 375.8L691.1 401.8L691.3 384.4L691.5 406.7L691.7 380.3L691.9 397.8L692.1 383.9L692.3 397.6L692.5 382.5L692.7 407.9L692.9 376.6L693.0 402.0L693.2 374.9L693.4 407.5L693.6 375.5L693.8 398.7L694.0 383.6L694.2 403.6L694.4 377.0L694.6 401.6L694.8 377.3L695.0 399.6L695.2 378.2L695.4 400.0L695.6 380.6L695.7 410.2L695.9 379.6L696.1 404.0L696.3 379.9L696.5 417.6L696.7 382.5L696.9 400.4L697.1 379.3L697.3 399.7L697.5 379.0L697.7 412.9L697.9 373.9L698.1 400.0L698.3 379.6L698.5 408.8L698.6 373.6L698.8 403.4L699.0 371.4L699.2 403.6L699.4 376.6L699.6 400.5L699.8 380.9L700.0 405.7L700.2 382.0L700.4 400.7L700.6 381.9L700.8 410.3L701.0 379.5L701.2 400.3L701.3 374.2L701.5 399.5L701.7 376.3L701.9 401.5L702.1 381.4L702.3 399.6L702.5 375.4L702.7 399.3L702.9 379.0L703.1 407.6L703.3 382.6L703.5 400.2L703.7 382.8L703.9 399.5L704.0 382.7L704.2 399.8L704.4 373.8L704.6 411.6L704.8 379.6L705.0 406.9L705.2 383.1L705.4 399.3L705.6 372.5L705.8 403.7L706.0 383.2L706.2 409.2L706.4 382.5L706.6 406.0L706.7 377.7L706.9 409.3L707.1 381.6L707.3 403.5L707.5 373.5L707.7 400.0L707.9 380.0L708.1 408.3L708.3 377.1L708.5 399.8L708.7 383.5L708.9 398.8L709.1 384.1L709.3 402.3L709.4 382.8L709.6 403.9L709.8 381.9L710.0 400.8L710.2 380.8L710.4 400.2L710.6 382.3L710.8 412.7L711.0 374.7L711.2 413.2L711.4 374.2L711.6 407.4L711.8 374.9L712.0 410.0L712.2 374.5L712.3 399.3L712.5 383.2L712.7 409.4L712.9 382.9L713.1 399.8L713.3 378.4L713.5 407.5L713.7 382.4L713.9 400.9L714.1 376.0L714.3 400.8L714.5 371.6L714.7 400.8L714.9 377.4L715.0 405.1L715.2 379.4L715.4 401.4L715.6 366.8L715.8 402.3L716.0 380.9L716.2 408.5L716.4 381.0L716.6 412.4L716.8 369.8L717.0 404.7L717.2 381.1L717.4 418.4L717.6 381.1L717.7 409.1L717.9 377.3L718.1 410.5L718.3 381.5L718.5 414.9L718.7 369.9L718.9 413.5L719.1 376.9L719.3 404.0L719.5 381.0L719.7 401.3L719.9 375.1L720.1 402.6L720.3 378.7L720.4 403.9L720.6 371.7L720.8 403.6L721.0 380.9L721.2 405.5L721.4 368.4L721.6 405.9L721.8 369.3L722.0 401.9L722.2 371.9L722.4 404.3L722.6 362.5L722.8 406.4L723.0 378.8L723.1 414.1L723.3 370.9L723.5 405.8L723.7 372.9L723.9 402.8L724.1 378.3L724.3 402.5L724.5 379.0" fill="none" stroke="#0000ff" stroke-width="1.85" stroke-linejoin="round" clip-path="url(#p1)"/>
<rect x="203.5" y="327.5" width="521.0" height="189.0" fill="none" stroke="#262626" stroke-width="1.25"/>
<path d="M333.5 516.5v-5.4M333.5 327.5v5.4M463.5 516.5v-5.4M463.5 327.5v5.4M594.5 516.5v-5.4M594.5 327.5v5.4M203.5 327.5h5.4M724.5 327.5h-5.4M203.5 390.5h5.4M724.5 390.5h-5.4M203.5 453.5h5.4M724.5 453.5h-5.4M203.5 516.5h5.4M724.5 516.5h-5.4" stroke="#262626" stroke-width="1.25" fill="none"/>
<path d="M203.5 640.0L203.7 659.1L203.9 641.8L204.1 659.7L204.3 639.7L204.5 657.8L204.7 642.0L204.9 656.3L205.0 644.2L205.2 656.9L205.4 643.8L205.6 658.8L205.8 638.9L206.0 658.4L206.2 639.9L206.4 662.3L206.6 642.3L206.8 657.0L207.0 643.0L207.2 656.7L207.4 639.7L207.6 662.4L207.7 638.9L207.9 659.4L208.1 643.7L208.3 661.3L208.5 643.6L208.7 661.0L208.9 641.0L209.1 657.9L209.3 617.7L209.5 656.9L209.7 642.8L209.9 663.6L210.1 643.6L210.3 661.9L210.4 645.6L210.6 682.9L210.8 612.1L211.0 657.1L211.2 645.8L211.4 659.0L211.6 646.0L211.8 661.3L212.0 643.3L212.2 661.1L212.4 642.1L212.6 660.3L212.8 644.2L213.0 661.8L213.1 643.6L213.3 660.2L213.5 646.2L213.7 662.0L213.9 641.9L214.1 658.3L214.3 641.8L214.5 658.3L214.7 643.1L214.9 662.9L215.1 645.7L215.3 659.9L215.5 642.7L215.7 658.5L215.8 640.9L216.0 659.3L216.2 642.0L216.4 658.3L216.6 643.7L216.8 658.7L217.0 639.1L217.2 658.1L217.4 642.4L217.6 658.6L217.8 640.9L218.0 658.0L218.2 644.2L218.4 665.2L218.6 644.7L218.7 661.9L218.9 645.7L219.1 665.1L219.3 640.7L219.5 662.7L219.7 644.7L219.9 659.0L220.1 639.8L220.3 665.2L220.5 636.0L220.7 661.2L220.9 642.1L221.1 658.9L221.3 643.8L221.4 658.5L221.6 644.1L221.8 659.5L222.0 642.7L222.2 660.4L222.4 640.9L222.6 658.7L222.8 636.4L223.0 658.6L223.2 644.1L223.4 663.9L223.6 643.3L223.8 658.6L224.0 645.2L224.1 664.1L224.3 640.2L224.5 665.0L224.7 645.3L224.9 667.3L225.1 645.3L225.3 665.5L225.5 638.3L225.7 658.0L225.9 645.1L226.1 667.5L226.3 639.7L226.5 658.3L226.7 643.4L226.8 661.2L227.0 643.7L227.2 665.3L227.4 636.9L227.6 658.5L227.8 645.2L228.0 662.1L228.2 645.1L228.4 658.9L228.6 633.4L228.8 660.5L229.0 643.2L229.2 659.1L229.4 639.1L229.6 658.8L229.7 636.3L229.9 665.9L230.1 640.2L230.3 662.1L230.5 641.7L230.7 658.8L230.9 634.9L231.1 665.6L231.3 644.6L231.5 658.8L231.7 642.9L231.9 661.4L232.1 641.0L232.3 660.7L232.4 643.1L232.6 659.5L232.8 633.2L233.0 659.5L233.2 635.5L233.4 659.0L233.6 644.6L233.8 659.2L234.0 634.2L234.2 659.5L234.4 644.6L234.6 662.0L234.8 643.3L235.0 658.8L235.1 644.1L235.3 658.9L235.5 644.4L235.7 659.1L235.9 637.3L236.1 669.0L236.3 641.1L236.5 658.8L236.7 640.1L236.9 665.1L237.1 643.6L237.3 662.0L237.5 635.7L237.7 661.6L237.8 636.6L238.0 660.0L238.2 628.4L238.4 661.6L238.6 642.0L238.8 659.7L239.0 644.1L239.2 661.8L239.4 643.9L239.6 665.6L239.8 637.2L240.0 660.6L240.2 643.1L240.4 658.4L240.5 641.8L240.7 667.8L240.9 643.5L241.1 666.9L241.3 642.7L241.5 659.5L241.7 636.8L241.9 661.7L242.1 641.9L242.3 658.7L242.5 634.2L242.7 661.2L242.9 643.6L243.1 661.8L243.3 638.8L243.4 659.9L243.6 634.3L243.8 664.7L244.0 641.6L244.2 658.5L244.4 643.4L244.6 658.4L244.8 643.8L245.0 662.1L245.2 644.2L245.4 659.3L245.6 644.4L245.8 666.3L246.0 634.4L246.1 667.5L246.3 644.0L246.5 662.0L246.7 639.1L246.9 658.5L247.1 638.7L247.3 658.8L247.5 644.7L247.7 659.0L247.9 644.4L248.1 658.9L248.3 643.1L248.5 657.9L248.7 633.4L248.8 657.7L249.0 644.8L249.2 665.5L249.4 645.2L249.6 659.8L249.8 635.4L250.0 657.9L250.2 641.9L250.4 658.6L250.6 644.1L250.8 665.2L251.0 638.9L251.2 657.2L251.4 640.5L251.5 660.4L251.7 636.3L251.9 658.0L252.1 637.1L252.3 658.4L252.5 635.5L252.7 656.7L252.9 639.5L253.1 657.4L253.3 644.1L253.5 656.3L253.7 640.5L253.9 658.1L254.1 640.2L254.2 657.9L254.4 626.5L254.6 660.7L254.8 639.4L255.0 656.9L255.2 643.2L255.4 662.6L255.6 644.1L255.8 662.8L256.0 642.1L256.2 663.7L256.4 635.6L256.6 659.5L256.8 635.6L257.0 657.3L257.1 643.5L257.3 659.1L257.5 645.6L257.7 658.2L257.9 635.0L258.1 658.7L258.3 645.5L258.5 657.8L258.7 638.2L258.9 664.8L259.1 646.0L259.3 662.1L259.5 644.0L259.7 660.9L259.8 643.9L260.0 658.7L260.2 638.8L260.4 663.3L260.6 637.8L260.8 665.4L261.0 637.8L261.2 658.5L261.4 645.5L261.6 666.1L261.8 641.6L262.0 663.5L262.2 641.9L262.4 667.8L262.5 643.4L262.7 661.2L262.9 637.3L263.1 663.1L263.3 637.4L263.5 658.4L263.7 646.1L263.9 659.0L264.1 644.0L264.3 658.7L264.5 643.8L264.7 668.8L264.9 645.1L265.1 660.9L265.2 637.0L265.4 660.2L265.6 643.7L265.8 659.6L266.0 645.8L266.2 661.0L266.4 641.3L266.6 659.4L266.8 645.3L267.0 662.7L267.2 642.7L267.4 668.9L267.6 636.1L267.8 660.3L267.9 645.7L268.1 661.7L268.3 642.2L268.5 659.5L268.7 645.8L268.9 660.0L269.1 645.5L269.3 665.0L269.5 638.5L269.7 659.3L269.9 642.5L270.1 662.5L270.3 638.0L270.5 659.3L270.7 638.8L270.8 661.4L271.0 636.1L271.2 662.2L271.4 643.6L271.6 663.9L271.8 643.0L272.0 661.4L272.2 643.5L272.4 664.6L272.6 645.5L272.8 666.4L273.0 638.9L273.2 663.0L273.4 636.8L273.5 659.7L273.7 641.9L273.9 664.4L274.1 639.1L274.3 660.7L274.5 642.1L274.7 670.8L274.9 644.8L275.1 663.1L275.3 644.9L275.5 665.4L275.7 643.8L275.9 663.8L276.1 641.2L276.2 660.0L276.4 645.8L276.6 659.4L276.8 645.2L277.0 665.7L277.2 641.3L277.4 659.9L277.6 642.7L277.8 660.9L278.0 645.7L278.2 661.4L278.4 641.3L278.6 661.1L278.8 640.8L278.9 661.3L279.1 642.0L279.3 659.6L279.5 644.9L279.7 666.3L279.9 640.5L280.1 663.3L280.3 645.4L280.5 663.5L280.7 642.0L280.9 663.1L281.1 636.5L281.3 662.5L281.5 645.1L281.6 660.2L281.8 639.9L282.0 660.5L282.2 643.6L282.4 664.7L282.6 644.5L282.8 661.8L283.0 636.7L283.2 660.7L283.4 638.3L283.6 669.6L283.8 645.0L284.0 669.8L284.2 633.9L284.4 665.4L284.5 642.6L284.7 661.5L284.9 633.6L285.1 661.6L285.3 644.2L285.5 662.1L285.7 636.0L285.9 660.9L286.1 638.2L286.3 663.6L286.5 639.5L286.7 669.7L286.9 643.2L287.1 672.0L287.2 642.5L287.4 659.5L287.6 643.1L287.8 664.1L288.0 641.8L288.2 665.6L288.4 644.2L288.6 661.9L288.8 638.8L289.0 666.4L289.2 639.2L289.4 663.0L289.6 644.4L289.8 662.5L289.9 643.3L290.1 660.4L290.3 643.6L290.5 667.5L290.7 642.7L290.9 670.7L291.1 639.3L291.3 663.2L291.5 638.7L291.7 665.2L291.9 642.8L292.1 660.9L292.3 641.1L292.5 660.1L292.6 640.6L292.8 665.5L293.0 643.3L293.2 665.6L293.4 643.3L293.6 660.2L293.8 643.2L294.0 660.2L294.2 634.7L294.4 659.7L294.6 633.1L294.8 663.0L295.0 643.7L295.2 660.3L295.4 643.5L295.5 667.5L295.7 637.7L295.9 662.5L296.1 637.4L296.3 665.9L296.5 630.0L296.7 666.8L296.9 640.4L297.1 668.8L297.3 641.4L297.5 662.3L297.7 629.1L297.9 666.7L298.1 633.0L298.2 662.3L298.4 634.5L298.6 660.8L298.8 642.8L299.0 660.3L299.2 639.6L299.4 671.8L299.6 636.5L299.8 660.3L300.0 641.1L300.2 666.3L300.4 641.5L300.6 659.7L300.8 636.2L300.9 661.8L301.1 637.8L301.3 664.7L301.5 631.7L301.7 662.7L301.9 642.3L302.1 663.5L302.3 629.4L302.5 668.9L302.7 637.9L302.9 661.4L303.1 643.0L303.3 663.4L303.5 633.3L303.6 662.8L303.8 632.4L304.0 670.3L304.2 643.1L304.4 662.8L304.6 632.3L304.8 671.7L305.0 643.1L305.2 668.5L305.4 636.7L305.6 660.8L305.8 638.0L306.0 665.9L306.2 643.7L306.3 659.2L306.5 638.4L306.7 664.1L306.9 636.8L307.1 671.8L307.3 642.2L307.5 661.3L307.7 633.6L307.9 671.2L308.1 642.2L308.3 667.0L308.5 643.4L308.7 666.2L308.9 641.2L309.1 668.3L309.2 643.4L309.4 660.5L309.6 642.9L309.8 660.9L310.0 638.8L310.2 661.4L310.4 633.5L310.6 659.5L310.8 642.9L311.0 661.4L311.2 641.1L311.4 659.9L311.6 643.2L311.8 662.8L311.9 632.0L312.1 661.6L312.3 633.3L312.5 666.1L312.7 636.8L312.9 660.5L313.1 631.1L313.3 661.8L313.5 640.4L313.7 660.4L313.9 639.1L314.1 661.0L314.3 638.6L314.5 668.5L314.6 641.2L314.8 666.8L315.0 641.4L315.2 664.1L315.4 632.4L315.6 669.9L315.8 639.7L316.0 670.0L316.2 634.3L316.4 662.5L316.6 640.0L316.8 666.2L317.0 627.9L317.2 670.0L317.3 640.9L317.5 667.3L317.7 636.5L317.9 664.5L318.1 629.9L318.3 671.4L318.5 637.6L318.7 662.6L318.9 640.4L319.1 662.2L319.3 641.4L319.5 666.3L319.7 636.6L319.9 660.3L320.0 630.0L320.2 668.4L320.4 639.0L320.6 672.4L320.8 626.1L321.0 665.8L321.2 641.7L321.4 661.2L321.6 629.4L321.8 660.2L322.0 636.6L322.2 668.1L322.4 637.5L322.6 660.7L322.8 634.6L322.9 672.1L323.1 620.8L323.3 744.9L323.5 637.8L323.7 660.0L323.9 637.8L324.1 664.9L324.3 635.0L324.5 666.5L324.7 626.7L324.9 662.2L325.1 638.9L325.3 665.0L325.5 636.4L325.6 661.9L325.8 627.7L326.0 660.2L326.2 636.9L326.4 668.2L326.6 631.1L326.8 660.2L327.0 641.5L327.2 660.5L327.4 638.6L327.6 660.6L327.8 636.6L328.0 660.5L328.2 633.1L328.3 661.9L328.5 629.1L328.7 660.4L328.9 636.5L329.1 660.4L329.3 641.2L329.5 662.0L329.7 639.7L329.9 660.2L330.1 634.0L330.3 659.3L330.5 643.3L330.7 662.6L330.9 642.6L331.0 665.5L331.2 643.0L331.4 658.7L331.6 640.5L331.8 661.6L332.0 637.1L332.2 662.4L332.4 643.9L332.6 667.1L332.8 637.5L333.0 667.1L333.2 635.2L333.4 660.1L333.6 642.3L333.8 662.0L333.9 635.9L334.1 658.3L334.3 644.2L334.5 668.1L334.7 640.9L334.9 661.6L335.1 641.7L335.3 658.4L335.5 638.3L335.7 658.1L335.9 633.8L336.1 665.4L336.3 644.1L336.5 659.4L336.6 644.6L336.8 660.2L337.0 637.9L337.2 663.1L337.4 645.0L337.6 659.3L337.8 641.6L338.0 667.6L338.2 641.2L338.4 659.4L338.6 643.9L338.8 662.5L339.0 642.9L339.2 661.0L339.3 642.9L339.5 667.6L339.7 639.4L339.9 662.6L340.1 643.5L340.3 659.0L340.5 644.9L340.7 663.2L340.9 636.7L341.1 660.7L341.3 638.1L341.5 662.3L341.7 644.0L341.9 660.1L342.0 633.4L342.2 664.7L342.4 642.7L342.6 658.8L342.8 638.1L343.0 658.8L343.2 633.6L343.4 659.3L343.6 639.2L343.8 659.2L344.0 631.7L344.2 669.5L344.4 642.3L344.6 661.2L344.7 640.0L344.9 661.9L345.1 641.1L345.3 664.9L345.5 634.2L345.7 660.8L345.9 636.2L346.1 662.5L346.3 639.0L346.5 668.3L346.7 626.9L346.9 661.6L347.1 636.4L347.3 660.4L347.5 637.3L347.6 670.0L347.8 639.7L348.0 660.7L348.2 634.4L348.4 661.8L348.6 618.0L348.8 671.2L349.0 627.4L349.2 697.9L349.4 637.1L349.6 672.7L349.8 635.4L350.0 670.5L350.2 638.6L350.3 666.9L350.5 627.9L350.7 665.7L350.9 641.5L351.1 663.6L351.3 636.5L351.5 665.4L351.7 631.1L351.9 660.0L352.1 641.8L352.3 661.6L352.5 627.6L352.7 667.7L352.9 638.8L353.0 660.7L353.2 639.6L353.4 660.1L353.6 639.5L353.8 670.6L354.0 640.1L354.2 669.2L354.4 640.9L354.6 672.0L354.8 635.9L355.0 672.2L355.2 623.3L355.4 660.7L355.6 640.7L355.7 718.6L355.9 641.6L356.1 667.2L356.3 641.8L356.5 670.5L356.7 636.1L356.9 667.7L357.1 640.9L357.3 659.9L357.5 641.6L357.7 669.1L357.9 636.0L358.1 662.0L358.3 632.3L358.4 665.7L358.6 630.7L358.8 669.1L359.0 640.6L359.2 659.6L359.4 642.1L359.6 660.8L359.8 642.9L360.0 659.8L360.2 636.6L360.4 659.6L360.6 638.3L360.8 667.9L361.0 644.1L361.2 663.8L361.3 644.2L361.5 659.2L361.7 642.9L361.9 664.0L362.1 643.3L362.3 659.2L362.5 635.1L362.7 660.5L362.9 633.2L363.1 660.5L363.3 643.5L363.5 659.1L363.7 634.6L363.9 664.0L364.0 641.7L364.2 669.2L364.4 640.6L364.6 660.3L364.8 636.4L365.0 665.4L365.2 645.0L365.4 664.4L365.6 641.9L365.8 658.6L366.0 637.7L366.2 665.6L366.4 641.9L366.6 689.8L366.7 643.0L366.9 658.3L367.1 639.6L367.3 659.4L367.5 644.5L367.7 659.7L367.9 644.5L368.1 660.6L368.3 645.5L368.5 667.8L368.7 643.2L368.9 667.3L369.1 637.4L369.3 658.2L369.4 645.3L369.6 657.7L369.8 645.8L370.0 663.1L370.2 645.0L370.4 657.7L370.6 646.7L370.8 657.9L371.0 641.1L371.2 662.0L371.4 638.5L371.6 658.3L371.8 639.5L372.0 662.1L372.1 643.4L372.3 664.2L372.5 643.7L372.7 662.1L372.9 640.1L373.1 663.9L373.3 647.2L373.5 660.4L373.7 647.1L373.9 658.0L374.1 646.8L374.3 662.5L374.5 644.7L374.7 658.1L374.9 639.0L375.0 658.2L375.2 642.0L375.4 665.3L375.6 642.5L375.8 658.1L376.0 642.3L376.2 660.3L376.4 646.3L376.6 662.0L376.8 647.0L377.0 658.1L377.2 641.9L377.4 661.0L377.6 642.1L377.7 661.7L377.9 644.8L378.1 659.7L378.3 642.3L378.5 664.1L378.7 643.5L378.9 657.3L379.1 639.8L379.3 658.4L379.5 642.6L379.7 660.7L379.9 642.8L380.1 666.0L380.3 639.7L380.4 659.8L380.6 638.1L380.8 664.3L381.0 639.1L381.2 658.1L381.4 643.8L381.6 660.3L381.8 645.8L382.0 663.9L382.2 646.8L382.4 664.6L382.6 645.4L382.8 663.9L383.0 643.1L383.1 666.6L383.3 644.6L383.5 658.5L383.7 637.6L383.9 661.1L384.1 645.0L384.3 663.2L384.5 646.2L384.7 657.9L384.9 644.6L385.1 657.5L385.3 642.6L385.5 658.8L385.7 646.7L385.9 665.5L386.0 646.6L386.2 658.3L386.4 638.5L386.6 658.1L386.8 643.5L387.0 659.7L387.2 639.9L387.4 663.2L387.6 643.6L387.8 658.9L388.0 645.5L388.2 657.7L388.4 644.9L388.6 658.1L388.7 643.6L388.9 658.8L389.1 645.9L389.3 658.3L389.5 646.0L389.7 659.6L389.9 639.7L390.1 658.0L390.3 643.9L390.5 663.8L390.7 645.0L390.9 658.1L391.1 642.2L391.3 659.0L391.4 636.8L391.6 658.1L391.8 643.1L392.0 659.1L392.2 641.5L392.4 658.5L392.6 645.4L392.8 658.4L393.0 644.5L393.2 662.2L393.4 644.1L393.6 663.8L393.8 635.4L394.0 667.5L394.1 639.7L394.3 658.8L394.5 643.4L394.7 662.6L394.9 644.8L395.1 667.4L395.3 644.8L395.5 667.9L395.7 638.0L395.9 660.9L396.1 644.9L396.3 658.8L396.5 645.0L396.7 685.4L396.8 643.6L397.0 660.7L397.2 643.9L397.4 671.4L397.6 643.6L397.8 660.5L398.0 642.0L398.2 660.7L398.4 642.4L398.6 660.7L398.8 636.7L399.0 659.1L399.2 634.2L399.4 659.1L399.6 630.0L399.7 659.9L399.9 630.6L400.1 662.9L400.3 639.2L400.5 661.9L400.7 642.4L400.9 666.6L401.1 631.8L401.3 662.9L401.5 638.5L401.7 661.5L401.9 643.7L402.1 668.6L402.3 643.1L402.4 662.5L402.6 643.9L402.8 668.2L403.0 641.4L403.2 659.7L403.4 643.3L403.6 662.9L403.8 643.7L404.0 660.1L404.2 639.4L404.4 659.9L404.6 633.6L404.8 665.6L405.0 642.7L405.1 660.6L405.3 640.3L405.5 659.9L405.7 637.7L405.9 661.3L406.1 643.9L406.3 662.8L406.5 643.4L406.7 661.9L406.9 642.6L407.1 662.6L407.3 638.2L407.5 660.7L407.7 642.2L407.8 660.4L408.0 643.2L408.2 661.7L408.4 643.4L408.6 661.8L408.8 635.3L409.0 674.0L409.2 640.5L409.4 661.0L409.6 632.1L409.8 661.1L410.0 636.0L410.2 669.7L410.4 641.4L410.5 666.9L410.7 633.9L410.9 671.0L411.1 639.2L411.3 663.6L411.5 635.6L411.7 666.2L411.9 626.8L412.1 661.7L412.3 642.1L412.5 660.2L412.7 643.3L412.9 663.4L413.1 642.0L413.3 671.8L413.4 634.1L413.6 669.9L413.8 639.8L414.0 661.6L414.2 636.3L414.4 667.9L414.6 642.4L414.8 665.4L415.0 634.7L415.2 660.0L415.4 642.3L415.6 668.3L415.8 643.8L416.0 667.6L416.1 634.1L416.3 664.2L416.5 641.5L416.7 667.3L416.9 643.7L417.1 669.3L417.3 644.0L417.5 672.4L417.7 635.2L417.9 664.6L418.1 642.5L418.3 663.6L418.5 644.6L418.7 668.1L418.8 644.9L419.0 667.4L419.2 643.9L419.4 670.1L419.6 644.5L419.8 660.0L420.0 634.5L420.2 659.4L420.4 643.3L420.6 665.6L420.8 642.4L421.0 662.0L421.2 640.9L421.4 665.7L421.5 645.1L421.7 659.6L421.9 643.6L422.1 665.1L422.3 636.8L422.5 667.5L422.7 644.7L422.9 660.8L423.1 643.0L423.3 659.4L423.5 644.9L423.7 669.4L423.9 644.9L424.1 659.5L424.2 643.7L424.4 662.9L424.6 638.1L424.8 659.3L425.0 645.1L425.2 661.4L425.4 641.8L425.6 660.4L425.8 643.4L426.0 665.2L426.2 636.4L426.4 664.8L426.6 640.4L426.8 664.8L427.0 641.3L427.1 659.8L427.3 635.3L427.5 659.5L427.7 642.1L427.9 664.6L428.1 644.0L428.3 665.6L428.5 633.0L428.7 661.3L428.9 642.5L429.1 667.8L429.3 632.9L429.5 661.2L429.7 644.2L429.8 663.4L430.0 640.8L430.2 665.6L430.4 633.7L430.6 664.8L430.8 643.6L431.0 661.1L431.2 643.2L431.4 661.3L431.6 644.0L431.8 665.0L432.0 644.1L432.2 665.0L432.4 642.3L432.5 661.3L432.7 638.0L432.9 662.4L433.1 642.8L433.3 668.2L433.5 643.8L433.7 660.5L433.9 643.4L434.1 668.9L434.3 644.1L434.5 661.9L434.7 633.4L434.9 665.0L435.1 635.1L435.2 666.8L435.4 643.3L435.6 661.5L435.8 638.8L436.0 673.1L436.2 643.3L436.4 675.0L436.6 634.7L436.8 675.4L437.0 643.2L437.2 661.9L437.4 627.9L437.6 662.3L437.8 642.7L437.9 670.5L438.1 642.0L438.3 662.1L438.5 639.8L438.7 674.3L438.9 642.8L439.1 667.5L439.3 638.3L439.5 664.5L439.7 639.3L439.9 661.8L440.1 627.7L440.3 662.7L440.5 628.3L440.7 665.2L440.8 638.4L441.0 662.2L441.2 633.3L441.4 668.8L441.6 636.8L441.8 668.9L442.0 642.1L442.2 664.9L442.4 636.5L442.6 665.9L442.8 640.7L443.0 676.2L443.2 642.7L443.4 661.7L443.5 637.7L443.7 674.5L443.9 639.8L444.1 666.1L444.3 641.1L444.5 669.0L444.7 642.0L444.9 676.5L445.1 641.4L445.3 663.1L445.5 635.5L445.7 662.6L445.9 626.8L446.1 662.4L446.2 635.3L446.4 662.5L446.6 624.6L446.8 663.3L447.0 639.4L447.2 667.3L447.4 641.5L447.6 675.0L447.8 642.5L448.0 665.5L448.2 639.1L448.4 661.7L448.6 636.6L448.8 661.7L448.9 639.5L449.1 661.2L449.3 636.7L449.5 671.8L449.7 643.2L449.9 663.6L450.1 637.9L450.3 666.5L450.5 632.0L450.7 664.0L450.9 640.0L451.1 661.8L451.3 642.5L451.5 671.5L451.7 641.4L451.8 675.6L452.0 641.1L452.2 663.5L452.4 629.3L452.6 669.7L452.8 642.3L453.0 661.3L453.2 641.3L453.4 666.1L453.6 643.3L453.8 661.2L454.0 637.6L454.2 671.4L454.4 635.7L454.5 671.4L454.7 643.8L454.9 667.8L455.1 642.8L455.3 660.9L455.5 644.0L455.7 661.5L455.9 642.7L456.1 669.7L456.3 636.6L456.5 664.7L456.7 642.1L456.9 663.9L457.1 632.5L457.2 661.0L457.4 637.0L457.6 668.9L457.8 635.9L458.0 660.5L458.2 636.0L458.4 662.7L458.6 634.5L458.8 672.0L459.0 639.6L459.2 662.9L459.4 642.6L459.6 662.4L459.8 635.5L459.9 660.4L460.1 643.4L460.3 669.7L460.5 645.0L460.7 660.9L460.9 638.9L461.1 664.9L461.3 635.4L461.5 659.6L461.7 636.9L461.9 666.1L462.1 639.6L462.3 661.0L462.5 644.0L462.6 661.3L462.8 643.9L463.0 660.9L463.2 633.5L463.4 659.6L463.6 644.8L463.8 662.5L464.0 637.7L464.2 667.0L464.4 636.3L464.6 662.6L464.8 641.9L465.0 659.9L465.2 644.0L465.4 660.3L465.5 624.0L465.7 699.8L465.9 639.4L466.1 660.5L466.3 643.8L466.5 665.4L466.7 634.0L466.9 659.9L467.1 641.9L467.3 660.7L467.5 639.9L467.7 666.1L467.9 643.3L468.1 670.6L468.2 633.6L468.4 661.8L468.6 641.1L468.8 667.5L469.0 630.5L469.2 659.7L469.4 642.8L469.6 664.0L469.8 640.4L470.0 658.9L470.2 643.3L470.4 668.6L470.6 644.0L470.8 660.3L470.9 633.4L471.1 659.2L471.3 639.6L471.5 659.1L471.7 638.4L471.9 662.0L472.1 635.9L472.3 659.3L472.5 643.2L472.7 668.1L472.9 633.5L473.1 660.6L473.3 640.5L473.5 659.1L473.6 637.8L473.8 659.2L474.0 644.1L474.2 661.0L474.4 632.8L474.6 662.2L474.8 638.3L475.0 659.2L475.2 638.5L475.4 665.3L475.6 636.8L475.8 658.5L476.0 633.4L476.2 659.9L476.3 641.7L476.5 664.8L476.7 633.7L476.9 658.7L477.1 624.0L477.3 668.3L477.5 636.5L477.7 659.1L477.9 636.8L478.1 658.3L478.3 645.0L478.5 658.0L478.7 644.6L478.9 660.3L479.1 644.0L479.2 663.1L479.4 643.3L479.6 663.2L479.8 645.4L480.0 659.9L480.2 644.1L480.4 664.1L480.6 644.6L480.8 658.8L481.0 644.8L481.2 662.0L481.4 642.8L481.6 666.9L481.8 641.2L481.9 666.7L482.1 644.6L482.3 663.1L482.5 643.8L482.7 658.3L482.9 644.9L483.1 657.9L483.3 642.2L483.5 658.3L483.7 634.8L483.9 658.6L484.1 634.9L484.3 667.0L484.5 637.3L484.6 658.7L484.8 641.4L485.0 658.8L485.2 644.8L485.4 658.5L485.6 644.5L485.8 658.3L486.0 644.4L486.2 663.9L486.4 644.3L486.6 663.1L486.8 643.5L487.0 657.8L487.2 636.8L487.3 664.7L487.5 638.9L487.7 660.5L487.9 636.8L488.1 658.4L488.3 642.5L488.5 663.8L488.7 643.7L488.9 658.0L489.1 644.7L489.3 662.1L489.5 636.9L489.7 658.4L489.9 641.0L490.0 658.3L490.2 638.8L490.4 658.5L490.6 641.6L490.8 659.1L491.0 640.6L491.2 661.5L491.4 644.6L491.6 660.5L491.8 642.7L492.0 663.0L492.2 642.0L492.4 665.8L492.6 631.3L492.8 663.2L492.9 631.2L493.1 659.3L493.3 640.8L493.5 658.7L493.7 632.9L493.9 661.6L494.1 636.2L494.3 658.5L494.5 642.9L494.7 665.3L494.9 641.2L495.1 665.4L495.3 643.9L495.5 659.8L495.6 643.8L495.8 663.1L496.0 643.4L496.2 659.1L496.4 631.0L496.6 660.3L496.8 641.9L497.0 661.4L497.2 642.8L497.4 664.0L497.6 639.6L497.8 658.8L498.0 631.3L498.2 662.9L498.3 641.3L498.5 661.3L498.7 627.7L498.9 659.4L499.1 642.2L499.3 659.4L499.5 641.7L499.7 670.4L499.9 631.6L500.1 659.0L500.3 640.0L500.5 661.4L500.7 644.0L500.9 664.7L501.0 644.1L501.2 663.7L501.4 644.5L501.6 667.7L501.8 644.4L502.0 664.1L502.2 638.6L502.4 666.9L502.6 642.9L502.8 659.2L503.0 642.6L503.2 661.3L503.4 644.5L503.6 659.7L503.8 644.2L503.9 661.0L504.1 642.0L504.3 665.6L504.5 639.5L504.7 661.3L504.9 635.5L505.1 660.2L505.3 639.0L505.5 659.2L505.7 635.8L505.9 659.1L506.1 643.0L506.3 664.3L506.5 643.9L506.6 658.0L506.8 645.3L507.0 658.0L507.2 637.1L507.4 658.3L507.6 645.4L507.8 662.5L508.0 644.4L508.2 657.9L508.4 645.9L508.6 661.5L508.8 644.7L509.0 657.5L509.2 645.8L509.3 664.8L509.5 646.2L509.7 665.5L509.9 643.5L510.1 661.1L510.3 643.8L510.5 664.7L510.7 645.1L510.9 658.4L511.1 641.1L511.3 664.5L511.5 643.1L511.7 663.2L511.9 646.8L512.0 659.6L512.2 644.9L512.4 658.3L512.6 639.5L512.8 659.2L513.0 645.9L513.2 657.5L513.4 644.8L513.6 662.9L513.8 646.1L514.0 664.6L514.2 646.6L514.4 657.2L514.6 641.7L514.7 657.4L514.9 643.8L515.1 656.9L515.3 643.8L515.5 662.8L515.7 645.6L515.9 659.8L516.1 642.9L516.3 659.1L516.5 646.0L516.7 657.8L516.9 636.7L517.1 658.7L517.3 644.8L517.5 657.8L517.6 643.6L517.8 657.6L518.0 637.6L518.2 661.6L518.4 642.0L518.6 658.5L518.8 645.2L519.0 662.6L519.2 636.7L519.4 661.0L519.6 644.2L519.8 662.1L520.0 645.4L520.2 661.5L520.3 643.0L520.5 658.7L520.7 638.0L520.9 658.4L521.1 641.6L521.3 662.1L521.5 643.9L521.7 663.2L521.9 640.6L522.1 664.3L522.3 633.6L522.5 665.6L522.7 632.5L522.9 663.9L523.0 643.7L523.2 663.5L523.4 635.9L523.6 659.0L523.8 643.2L524.0 662.1L524.2 643.1L524.4 661.7L524.6 643.9L524.8 662.7L525.0 644.2L525.2 664.1L525.4 640.5L525.6 659.1L525.7 643.4L525.9 668.3L526.1 641.7L526.3 659.4L526.5 644.2L526.7 666.1L526.9 643.0L527.1 659.5L527.3 634.5L527.5 662.4L527.7 644.7L527.9 659.5L528.1 642.8L528.3 658.9L528.4 642.7L528.6 660.3L528.8 640.1L529.0 668.3L529.2 641.1L529.4 660.1L529.6 642.9L529.8 667.4L530.0 636.1L530.2 660.0L530.4 635.5L530.6 665.4L530.8 639.0L531.0 669.1L531.2 643.1L531.3 662.1L531.5 644.7L531.7 659.3L531.9 643.7L532.1 668.9L532.3 640.9L532.5 663.2L532.7 641.7L532.9 660.5L533.1 643.1L533.3 668.9L533.5 643.5L533.7 662.3L533.9 632.6L534.0 666.5L534.2 644.9L534.4 660.5L534.6 645.1L534.8 659.4L535.0 636.7L535.2 662.1L535.4 635.2L535.6 671.7L535.8 640.1L536.0 659.9L536.2 641.6L536.4 671.9L536.6 640.6L536.7 659.8L536.9 641.6L537.1 659.3L537.3 642.7L537.5 663.7L537.7 643.5L537.9 659.7L538.1 642.1L538.3 660.1L538.5 639.4L538.7 662.5L538.9 641.7L539.1 659.7L539.3 639.5L539.4 660.7L539.6 641.1L539.8 659.8L540.0 642.0L540.2 668.3L540.4 638.1L540.6 668.0L540.8 642.9L541.0 662.7L541.2 636.0L541.4 658.6L541.6 642.2L541.8 662.1L542.0 635.3L542.1 665.0L542.3 642.7L542.5 667.5L542.7 642.0L542.9 671.1L543.1 642.1L543.3 660.6L543.5 639.7L543.7 672.3L543.9 642.0L544.1 661.9L544.3 641.0L544.5 685.4L544.7 638.6L544.9 660.9L545.0 641.2L545.2 664.9L545.4 628.1L545.6 662.7L545.8 632.9L546.0 670.4L546.2 639.5L546.4 663.1L546.6 632.8L546.8 666.5L547.0 638.1L547.2 672.2L547.4 626.8L547.6 664.3L547.7 636.8L547.9 665.3L548.1 622.5L548.3 666.5L548.5 636.0L548.7 664.7L548.9 621.6L549.1 667.6L549.3 636.5L549.5 664.1L549.7 638.0L549.9 664.8L550.1 639.7L550.3 665.6L550.4 638.6L550.6 679.3L550.8 635.8L551.0 665.0L551.2 640.5L551.4 683.1L551.6 623.7L551.8 664.9L552.0 633.6L552.2 666.5L552.4 625.4L552.6 706.7L552.8 626.8L553.0 670.7L553.1 613.9L553.3 667.3L553.5 636.3L553.7 684.6L553.9 632.9L554.1 691.8L554.3 624.3L554.5 670.1L554.7 638.4L554.9 667.4L555.1 633.0L555.3 697.9L555.5 618.4L555.7 668.0L555.9 626.5L556.0 677.9L556.2 635.6L556.4 681.3L556.6 624.5L556.8 677.8L557.0 619.7L557.2 667.0L557.4 634.0L557.6 672.4L557.8 638.2L558.0 676.2L558.2 636.8L558.4 679.6L558.6 628.6L558.7 668.9L558.9 636.6L559.1 675.6L559.3 624.9L559.5 671.2L559.7 598.3L559.9 676.7L560.1 614.1L560.3 689.7L560.5 622.4L560.7 716.1L560.9 632.5L561.1 666.9L561.3 632.4L561.4 691.1L561.6 626.4L561.8 682.2L562.0 616.4L562.2 676.8L562.4 627.7L562.6 673.7L562.8 606.4L563.0 667.3L563.2 635.6L563.4 667.9L563.6 637.2L563.8 674.2L564.0 630.9L564.1 691.6L564.3 623.7L564.5 666.0L564.7 633.6L564.9 678.2L565.1 638.1L565.3 678.8L565.5 629.8L565.7 664.6L565.9 625.6L566.1 670.8L566.3 634.4L566.5 664.6L566.7 623.6L566.8 669.3L567.0 629.4L567.2 677.3L567.4 633.1L567.6 663.0L567.8 631.6L568.0 663.0L568.2 641.6L568.4 672.7L568.6 636.3L568.8 661.6L569.0 632.0L569.2 667.0L569.4 634.7L569.6 671.3L569.7 641.1L569.9 659.9L570.1 633.7L570.3 661.7L570.5 643.7L570.7 664.0L570.9 642.8L571.1 666.1L571.3 641.3L571.5 659.8L571.7 641.9L571.9 661.5L572.1 641.4L572.3 657.1L572.4 647.1L572.6 656.8L572.8 639.8L573.0 662.4L573.2 647.3L573.4 659.8L573.6 647.1L573.8 657.8L574.0 646.8L574.2 657.0L574.4 646.4L574.6 658.1L574.8 629.6L575.0 656.4L575.1 641.7L575.3 657.3L575.5 640.8L575.7 656.1L575.9 645.0L576.1 655.8L576.3 637.9L576.5 657.7L576.7 646.6L576.9 656.2L577.1 642.8L577.3 657.8L577.5 646.3L577.7 658.0L577.8 645.6L578.0 656.0L578.2 642.4L578.4 657.9L578.6 642.9L578.8 656.1L579.0 641.3L579.2 656.1L579.4 646.1L579.6 656.1L579.8 644.0L580.0 659.3L580.2 647.4L580.4 656.1L580.5 647.3L580.7 656.1L580.9 646.2L581.1 660.9L581.3 646.8L581.5 657.1L581.7 641.9L581.9 662.4L582.1 639.4L582.3 665.0L582.5 640.6L582.7 659.2L582.9 643.8L583.1 660.4L583.3 642.2L583.4 665.6L583.6 632.1L583.8 670.5L584.0 641.7L584.2 668.9L584.4 639.9L584.6 664.6L584.8 640.5L585.0 667.0L585.2 640.8L585.4 663.5L585.6 636.7L585.8 668.5L586.0 635.6L586.1 665.5L586.3 639.0L586.5 678.1L586.7 628.2L586.9 671.8L587.1 619.0L587.3 677.5L587.5 633.7L587.7 695.4L587.9 624.4L588.1 669.7L588.3 628.7L588.5 667.3L588.7 628.5L588.8 674.6L589.0 636.6L589.2 670.5L589.4 641.1L589.6 679.8L589.8 633.3L590.0 663.0L590.2 638.5L590.4 673.2L590.6 632.9L590.8 676.9L591.0 637.3L591.2 663.7L591.4 638.7L591.5 663.3L591.7 641.2L591.9 678.1L592.1 635.3L592.3 671.6L592.5 641.3L592.7 674.6L592.9 631.3L593.1 663.4L593.3 632.6L593.5 680.0L593.7 639.7L593.9 666.6L594.1 640.3L594.2 683.5L594.4 637.8L594.6 663.5L594.8 638.4L595.0 663.3L595.2 636.0L595.4 664.1L595.6 639.3L595.8 681.9L596.0 632.0L596.2 672.6L596.4 636.5L596.6 664.7L596.8 641.2L597.0 674.9L597.1 635.3L597.3 681.0L597.5 636.3L597.7 667.4L597.9 640.7L598.1 664.9L598.3 629.2L598.5 664.2L598.7 622.1L598.9 674.4L599.1 639.4L599.3 681.0L599.5 625.4L599.7 678.0L599.8 633.2L600.0 663.9L600.2 639.3L600.4 670.6L600.6 633.6L600.8 669.4L601.0 640.3L601.2 665.5L601.4 639.4L601.6 667.9L601.8 627.3L602.0 678.8L602.2 640.6L602.4 664.5L602.5 633.6L602.7 665.4L602.9 639.7L603.1 670.2L603.3 622.5L603.5 674.1L603.7 631.5L603.9 667.3L604.1 631.3L604.3 688.5L604.5 636.4L604.7 666.9L604.9 640.5L605.1 668.9L605.2 631.2L605.4 681.0L605.6 640.6L605.8 663.1L606.0 641.5L606.2 663.3L606.4 634.7L606.6 668.8L606.8 640.8L607.0 676.4L607.2 634.4L607.4 671.3L607.6 639.9L607.8 665.0L608.0 626.3L608.1 663.8L608.3 635.3L608.5 666.3L608.7 640.4L608.9 664.3L609.1 638.1L609.3 666.6L609.5 626.2L609.7 664.7L609.9 640.1L610.1 672.9L610.3 628.9L610.5 666.2L610.7 617.7L610.8 667.2L611.0 639.7L611.2 698.5L611.4 639.7L611.6 670.9L611.8 640.2L612.0 666.9L612.2 626.4L612.4 667.5L612.6 630.4L612.8 667.8L613.0 641.2L613.2 662.5L613.4 627.6L613.5 674.7L613.7 634.1L613.9 660.7L614.1 643.5L614.3 666.2L614.5 638.6L614.7 667.9L614.9 636.7L615.1 668.3L615.3 644.4L615.5 667.5L615.7 643.9L615.9 667.4L616.1 644.0L616.2 664.1L616.4 637.7L616.6 663.9L616.8 645.5L617.0 661.4L617.2 643.4L617.4 667.4L617.6 636.9L617.8 658.0L618.0 644.1L618.2 661.9L618.4 645.7L618.6 660.2L618.8 646.6L618.9 657.6L619.1 644.1L619.3 660.4L619.5 646.7L619.7 658.5L619.9 646.5L620.1 658.8L620.3 641.4L620.5 658.1L620.7 644.9L620.9 657.3L621.1 641.0L621.3 660.0L621.5 644.7L621.7 657.3L621.8 640.9L622.0 657.3L622.2 638.6L622.4 660.4L622.6 644.6L622.8 659.1L623.0 644.8L623.2 664.9L623.4 645.9L623.6 657.7L623.8 638.5L624.0 658.1L624.2 645.6L624.4 661.9L624.5 646.7L624.7 657.7L624.9 647.0L625.1 659.9L625.3 646.2L625.5 658.9L625.7 646.5L625.9 657.6L626.1 638.5L626.3 658.5L626.5 645.8L626.7 659.1L626.9 640.5L627.1 656.7L627.2 642.4L627.4 657.1L627.6 643.9L627.8 657.3L628.0 646.6L628.2 658.7L628.4 646.7L628.6 658.0L628.8 645.7L629.0 657.2L629.2 640.2L629.4 659.6L629.6 646.0L629.8 656.8L629.9 645.3L630.1 662.2L630.3 646.9L630.5 657.3L630.7 647.2L630.9 663.9L631.1 645.2L631.3 659.0L631.5 639.8L631.7 660.6L631.9 645.1L632.1 660.5L632.3 646.6L632.5 657.8L632.6 644.5L632.8 657.8L633.0 644.7L633.2 661.3L633.4 645.6L633.6 659.9L633.8 642.1L634.0 662.4L634.2 643.5L634.4 658.0L634.6 640.9L634.8 656.6L635.0 643.6L635.2 660.5L635.4 641.5L635.5 657.9L635.7 646.3L635.9 656.7L636.1 641.9L636.3 659.1L636.5 644.8L636.7 656.7L636.9 647.0L637.1 663.0L637.3 642.0L637.5 658.9L637.7 643.3L637.9 663.2L638.1 647.5L638.2 656.4L638.4 644.1L638.6 656.6L638.8 643.1L639.0 660.0L639.2 642.3L639.4 657.1L639.6 646.4L639.8 656.8L640.0 643.4L640.2 661.1L640.4 641.7L640.6 660.1L640.8 647.1L640.9 660.7L641.1 645.7L641.3 659.2L641.5 642.0L641.7 657.7L641.9 646.9L642.1 656.8L642.3 641.1L642.5 656.6L642.7 640.9L642.9 661.6L643.1 646.7L643.3 658.3L643.5 645.7L643.6 657.8L643.8 639.7L644.0 661.6L644.2 641.4L644.4 658.1L644.6 641.3L644.8 661.3L645.0 641.9L645.2 656.7L645.4 647.6L645.6 660.7L645.8 647.7L646.0 659.5L646.2 647.6L646.3 660.8L646.5 647.1L646.7 656.3L646.9 640.8L647.1 657.5L647.3 642.4L647.5 656.8L647.7 640.4L647.9 658.3L648.1 647.4L648.3 662.8L648.5 645.9L648.7 661.1L648.9 641.7L649.1 659.9L649.2 643.3L649.4 662.8L649.6 647.2L649.8 656.8L650.0 647.2L650.2 662.5L650.4 641.7L650.6 657.5L650.8 645.8L651.0 657.1L651.2 645.3L651.4 657.5L651.6 646.3L651.8 657.2L651.9 645.4L652.1 662.0L652.3 642.7L652.5 657.5L652.7 640.4L652.9 662.5L653.1 647.3L653.3 663.4L653.5 641.2L653.7 656.8L653.9 647.1L654.1 659.3L654.3 647.3L654.5 656.8L654.6 642.8L654.8 661.0L655.0 647.2L655.2 657.1L655.4 640.9L655.6 662.1L655.8 640.1L656.0 657.5L656.2 646.1L656.4 657.3L656.6 642.2L656.8 657.4L657.0 647.4L657.2 659.9L657.3 647.5L657.5 656.3L657.7 640.8L657.9 656.2L658.1 642.8L658.3 658.5L658.5 645.4L658.7 661.4L658.9 643.7L659.1 662.0L659.3 640.3L659.5 671.6L659.7 643.2L659.9 656.6L660.1 647.2L660.2 658.1L660.4 645.4L660.6 657.2L660.8 644.9L661.0 659.6L661.2 647.3L661.4 658.8L661.6 647.2L661.8 660.1L662.0 647.4L662.2 658.7L662.4 647.0L662.6 657.7L662.8 642.0L662.9 656.5L663.1 644.2L663.3 656.9L663.5 647.3L663.7 659.4L663.9 647.3L664.1 660.6L664.3 646.9L664.5 658.2L664.7 645.1L664.9 657.4L665.1 647.1L665.3 657.8L665.5 647.7L665.6 662.3L665.8 647.3L666.0 658.2L666.2 646.1L666.4 657.4L666.6 647.3L666.8 656.9L667.0 644.9L667.2 656.8L667.4 645.0L667.6 656.5L667.8 647.4L668.0 657.5L668.2 642.5L668.3 656.6L668.5 644.7L668.7 657.5L668.9 641.9L669.1 656.5L669.3 645.7L669.5 656.7L669.7 647.5L669.9 661.4L670.1 647.2L670.3 658.1L670.5 647.4L670.7 659.2L670.9 647.5L671.0 662.7L671.2 646.9L671.4 661.8L671.6 646.7L671.8 661.2L672.0 647.6L672.2 660.5L672.4 647.2L672.6 659.6L672.8 646.0L673.0 657.2L673.2 640.5L673.4 659.2L673.6 646.5L673.8 663.5L673.9 647.3L674.1 658.8L674.3 647.2L674.5 660.3L674.7 643.7L674.9 658.6L675.1 646.2L675.3 656.7L675.5 644.8L675.7 657.3L675.9 646.3L676.1 657.0L676.3 645.6L676.5 659.6L676.6 646.1L676.8 659.2L677.0 642.4L677.2 656.5L677.4 644.9L677.6 661.9L677.8 647.3L678.0 663.1L678.2 647.1L678.4 659.5L678.6 647.3L678.8 658.8L679.0 647.7L679.2 656.2L679.3 645.3L679.5 658.5L679.7 646.8L679.9 656.2L680.1 646.8L680.3 658.6L680.5 644.9L680.7 661.6L680.9 647.4L681.1 657.3L681.3 641.9L681.5 657.8L681.7 645.4L681.9 658.1L682.0 646.8L682.2 659.2L682.4 641.6L682.6 656.6L682.8 646.5L683.0 659.1L683.2 647.0L683.4 658.3L683.6 644.9L683.8 662.8L684.0 646.7L684.2 658.7L684.4 647.2L684.6 662.6L684.7 645.3L684.9 657.3L685.1 646.0L685.3 658.3L685.5 644.0L685.7 659.3L685.9 647.0L686.1 656.4L686.3 641.3L686.5 659.5L686.7 645.6L686.9 660.8L687.1 643.7L687.3 658.8L687.5 645.2L687.6 656.7L687.8 643.8L688.0 662.6L688.2 647.1L688.4 659.8L688.6 647.3L688.8 659.1L689.0 647.3L689.2 660.3L689.4 646.6L689.6 657.1L689.8 643.4L690.0 658.7L690.2 647.0L690.3 657.5L690.5 646.1L690.7 658.1L690.9 643.3L691.1 663.3L691.3 645.3L691.5 658.1L691.7 641.6L691.9 658.8L692.1 645.0L692.3 658.3L692.5 643.5L692.7 657.6L692.9 636.7L693.0 661.5L693.2 646.4L693.4 665.5L693.6 641.3L693.8 660.4L694.0 646.2L694.2 658.1L694.4 645.7L694.6 658.6L694.8 643.3L695.0 667.5L695.2 643.8L695.4 659.7L695.6 641.5L695.7 659.0L695.9 640.1L696.1 659.8L696.3 645.2L696.5 659.7L696.7 637.9L696.9 662.6L697.1 645.9L697.3 659.0L697.5 640.6L697.7 661.4L697.9 645.6L698.1 659.1L698.3 646.1L698.5 658.7L698.6 645.3L698.8 661.9L699.0 644.1L699.2 659.5L699.4 643.5L699.6 660.5L699.8 644.7L700.0 660.0L700.2 640.6L700.4 658.4L700.6 638.9L700.8 658.2L701.0 645.6L701.2 662.7L701.3 645.1L701.5 662.2L701.7 645.6L701.9 659.1L702.1 643.3L702.3 657.5L702.5 646.3L702.7 664.9L702.9 644.8L703.1 661.3L703.3 646.2L703.5 659.5L703.7 646.0L703.9 657.2L704.0 640.2L704.2 659.2L704.4 646.4L704.6 661.1L704.8 641.4L705.0 666.9L705.2 644.6L705.4 664.1L705.6 645.6L705.8 658.5L706.0 642.1L706.2 657.9L706.4 646.4L706.6 661.9L706.7 642.0L706.9 657.8L707.1 646.8L707.3 657.2L707.5 646.5L707.7 661.7L707.9 642.9L708.1 660.5L708.3 645.9L708.5 658.1L708.7 645.4L708.9 658.8L709.1 637.7L709.3 658.1L709.4 635.5L709.6 663.7L709.8 645.2L710.0 657.9L710.2 638.8L710.4 660.6L710.6 635.5L710.8 663.9L711.0 643.5L711.2 665.0L711.4 636.3L711.6 661.4L711.8 643.0L712.0 665.3L712.2 644.8L712.3 659.4L712.5 642.9L712.7 664.1L712.9 644.4L713.1 658.5L713.3 638.0L713.5 658.0L713.7 640.2L713.9 659.7L714.1 645.3L714.3 660.5L714.5 638.5L714.7 660.5L714.9 645.1L715.0 658.2L715.2 645.0L715.4 659.5L715.6 645.0L715.8 658.4L716.0 644.4L716.2 658.5L716.4 644.1L716.6 657.6L716.8 633.5L717.0 658.9L717.2 644.4L717.4 659.8L717.6 643.4L717.7 661.8L717.9 641.8L718.1 658.1L718.3 640.4L718.5 659.4L718.7 643.7L718.9 660.3L719.1 643.7L719.3 662.3L719.5 644.7L719.7 659.7L719.9 640.3L720.1 658.5L720.3 644.3L720.4 658.1L720.6 643.5L720.8 659.8L721.0 643.2L721.2 661.8L721.4 643.7L721.6 667.6L721.8 643.3L722.0 658.8L722.2 639.4L722.4 679.1L722.6 643.5L722.8 658.2L723.0 643.6L723.1 658.9L723.3 638.9L723.5 659.0L723.7 635.2L723.9 659.5L724.1 631.5L724.3 663.1L724.5 643.1" fill="none" stroke="#0000ff" stroke-width="1.85" stroke-linejoin="round" clip-path="url(#p2)"/>
<rect x="203.5" y="589.5" width="521.0" height="188.0" fill="none" stroke="#262626" stroke-width="1.25"/>
<path d="M333.5 777.5v-5.4M333.5 589.5v5.4M463.5 777.5v-5.4M463.5 589.5v5.4M594.5 777.5v-5.4M594.5 589.5v5.4M203.5 589.5h5.4M724.5 589.5h-5.4M203.5 652.5h5.4M724.5 652.5h-5.4M203.5 714.5h5.4M724.5 714.5h-5.4M203.5 777.5h5.4M724.5 777.5h-5.4" stroke="#262626" stroke-width="1.25" fill="none"/>
<g clip-path="url(#c0)"><g filter="url(#jet)">
<rect x="890" y="62.5" width="540" height="194.0" fill="#000"/>
<g filter="url(#bl)" fill="#fff"><path d="M905.2 169.9C907.3 207.2 910.5 214.6 911.2 235.1C911.2 257.5 909.1 263.1 905.2 263.1C901.3 263.1 899.2 257.5 899.2 235.1C900.0 214.6 903.2 207.2 905.2 169.9Z" fill-opacity="0.114"/><path d="M905.2 174.2C906.5 208.7 908.6 215.6 909.0 234.6C909.0 255.3 907.7 260.5 905.2 260.5C902.8 260.5 901.4 255.3 901.4 234.6C901.9 215.6 903.9 208.7 905.2 174.2Z" fill-opacity="0.172"/><path d="M905.2 181.1C905.8 211.2 906.8 217.2 907.0 233.8C907.0 251.9 906.4 256.4 905.2 256.4C904.1 256.4 903.4 251.9 903.4 233.8C903.6 217.2 904.6 211.2 905.2 181.1Z" fill-opacity="0.131"/><path d="M914.1 176.9C916.7 197.7 920.9 201.9 921.8 213.3C921.8 225.8 919.1 229.0 914.1 229.0C909.1 229.0 906.4 225.8 906.4 213.3C907.3 201.9 911.5 197.7 914.1 176.9Z" fill-opacity="0.083"/><path d="M914.1 179.3C915.8 198.6 918.4 202.4 919.0 213.0C919.0 224.6 917.3 227.5 914.1 227.5C910.9 227.5 909.2 224.6 909.2 213.0C909.8 202.4 912.4 198.6 914.1 179.3Z" fill-opacity="0.127"/><path d="M914.1 183.1C914.9 200.0 916.2 203.3 916.4 212.6C916.4 222.7 915.6 225.2 914.1 225.2C912.6 225.2 911.8 222.7 911.8 212.6C912.1 203.3 913.3 200.0 914.1 183.1Z" fill-opacity="0.096"/><path d="M921.7 138.9C925.4 180.6 929.4 188.9 930.0 211.8C930.0 236.8 929.9 243.1 926.8 243.1C923.7 243.1 920.6 236.8 920.6 211.8C921.1 188.9 922.2 180.6 921.7 138.9Z" fill-opacity="0.125"/><path d="M921.7 143.8C924.8 182.3 927.9 190.1 928.3 211.3C928.3 234.4 928.7 240.2 926.8 240.2C924.9 240.2 922.3 234.4 922.3 211.3C922.6 190.1 922.7 182.3 921.7 143.8Z" fill-opacity="0.190"/><path d="M921.7 151.5C924.2 185.1 926.5 191.8 926.7 210.3C926.7 230.5 927.7 235.6 926.8 235.6C925.9 235.6 923.9 230.5 923.9 210.3C924.0 191.8 923.3 185.1 921.7 151.5Z" fill-opacity="0.144"/><path d="M937.7 157.3C937.9 193.5 939.8 200.8 940.5 220.7C940.5 242.4 937.0 247.8 933.1 247.8C929.3 247.8 928.5 242.4 928.5 220.7C929.3 200.8 933.9 193.5 937.7 157.3Z" fill-opacity="0.114"/><path d="M937.7 161.5C937.2 195.0 937.9 201.7 938.3 220.2C938.3 240.3 935.6 245.3 933.1 245.3C930.7 245.3 930.7 240.3 930.7 220.2C931.2 201.7 934.6 195.0 937.7 161.5Z" fill-opacity="0.172"/><path d="M937.7 168.2C936.5 197.4 936.1 203.3 936.3 219.3C936.3 236.9 934.3 241.3 933.1 241.3C932.0 241.3 932.7 236.9 932.7 219.3C932.9 203.3 935.3 197.4 937.7 168.2Z" fill-opacity="0.131"/><path d="M942.8 143.2C948.0 191.5 954.8 201.1 956.1 227.7C956.1 256.6 953.8 263.9 947.1 263.9C940.4 263.9 935.6 256.6 935.6 227.7C936.8 201.1 941.0 191.5 942.8 143.2Z" fill-opacity="0.152"/><path d="M942.8 148.8C946.7 193.5 951.6 202.4 952.3 227.0C952.3 253.8 951.3 260.5 947.1 260.5C942.9 260.5 939.3 253.8 939.3 227.0C940.1 202.4 942.3 193.5 942.8 148.8Z" fill-opacity="0.230"/><path d="M942.8 157.8C945.6 196.7 948.5 204.5 948.9 225.9C948.9 249.3 949.1 255.1 947.1 255.1C945.1 255.1 942.7 249.3 942.7 225.9C943.1 204.5 943.5 196.7 942.8 157.8Z" fill-opacity="0.175"/><path d="M943.8 178.8C946.6 205.1 950.1 210.4 950.7 224.8C950.7 240.6 949.7 244.6 946.3 244.6C943.0 244.6 940.5 240.6 940.5 224.8C941.1 210.4 943.1 205.1 943.8 178.8Z" fill-opacity="0.091"/><path d="M943.8 181.8C945.9 206.2 948.5 211.1 948.8 224.5C948.8 239.1 948.5 242.7 946.3 242.7C944.2 242.7 942.3 239.1 942.3 224.5C942.7 211.1 943.7 206.2 943.8 181.8Z" fill-opacity="0.138"/><path d="M943.8 186.7C945.4 207.9 947.0 212.2 947.1 223.9C947.1 236.6 947.4 239.8 946.3 239.8C945.3 239.8 944.0 236.6 944.0 223.9C944.2 212.2 944.3 207.9 943.8 186.7Z" fill-opacity="0.105"/><path d="M902.7 75.2C903.1 105.9 904.4 112.1 904.4 134.6C904.4 155.0 903.2 165.3 902.7 177.6C902.2 165.3 900.9 155.0 900.9 134.6C900.9 112.1 902.3 105.9 902.7 75.2Z" fill-opacity="0.030"/><path d="M916.6 90.5C917.1 105.8 918.4 108.9 918.4 120.1C918.4 130.4 917.2 135.5 916.6 141.6C916.1 135.5 914.9 130.4 914.9 120.1C914.9 108.9 916.2 105.8 916.6 90.5Z" fill-opacity="0.024"/><path d="M958.0 98.1C958.5 129.6 959.8 135.9 959.8 159.1C959.8 180.1 958.5 190.6 958.0 203.2C957.5 190.6 956.3 180.1 956.3 159.1C956.3 135.9 957.6 129.6 958.0 98.1Z" fill-opacity="0.030"/><path d="M978.8 77.5C986.2 145.5 994.8 159.1 996.2 196.5C996.2 237.3 994.9 247.5 987.7 247.5C980.5 247.5 973.9 237.3 973.9 196.5C975.3 159.1 978.6 145.5 978.8 77.5Z" fill-opacity="0.133"/><path d="M978.8 85.4C984.8 148.3 991.3 160.9 992.1 195.5C992.1 233.3 992.3 242.7 987.7 242.7C983.1 242.7 978.0 233.3 978.0 195.5C978.8 160.9 980.0 148.3 978.8 85.4Z" fill-opacity="0.201"/><path d="M978.8 98.0C983.5 152.9 988.0 163.8 988.4 194.0C988.4 227.0 989.9 235.2 987.7 235.2C985.5 235.2 981.7 227.0 981.7 194.0C982.1 163.8 981.2 152.9 978.8 98.0Z" fill-opacity="0.153"/><path d="M983.4 163.6C986.6 189.9 990.4 195.1 991.0 209.6C991.0 225.4 990.3 229.3 987.0 229.3C983.6 229.3 980.8 225.4 980.8 209.6C981.4 195.1 983.1 189.9 983.4 163.6Z" fill-opacity="0.106"/><path d="M983.4 166.6C985.9 191.0 988.8 195.8 989.2 209.2C989.2 223.9 989.1 227.5 987.0 227.5C984.8 227.5 982.6 223.9 982.6 209.2C983.0 195.8 983.7 191.0 983.4 166.6Z" fill-opacity="0.161"/><path d="M983.4 171.5C985.4 192.7 987.3 197.0 987.4 208.7C987.4 221.4 988.0 224.6 987.0 224.6C985.9 224.6 984.3 221.4 984.3 208.7C984.5 197.0 984.3 192.7 983.4 171.5Z" fill-opacity="0.122"/><path d="M990.3 71.4C992.1 104.3 994.7 110.9 995.3 129.0C995.3 148.7 993.8 153.7 990.8 153.7C987.7 153.7 985.9 148.7 985.9 129.0C986.5 110.9 988.9 104.3 990.3 71.4Z" fill-opacity="0.159"/><path d="M990.3 75.2C991.5 105.7 993.2 111.8 993.6 128.5C993.6 146.8 992.7 151.4 990.8 151.4C988.8 151.4 987.6 146.8 987.6 128.5C988.0 111.8 989.4 105.7 990.3 75.2Z" fill-opacity="0.241"/><path d="M990.3 81.3C990.9 107.9 991.9 113.2 992.0 127.8C992.0 143.7 991.7 147.7 990.8 147.7C989.8 147.7 989.2 143.7 989.2 127.8C989.4 113.2 990.0 107.9 990.3 81.3Z" fill-opacity="0.184"/><path d="M1001.7 68.5C1003.9 126.6 1007.3 138.2 1008.0 170.2C1008.0 205.1 1006.1 213.8 1002.2 213.8C998.3 213.8 996.1 205.1 996.1 170.2C996.8 138.2 999.8 126.6 1001.7 68.5Z" fill-opacity="0.159"/><path d="M1001.7 75.2C1003.2 129.0 1005.4 139.8 1005.8 169.4C1005.8 201.7 1004.7 209.7 1002.2 209.7C999.7 209.7 998.2 201.7 998.2 169.4C998.7 139.8 1000.6 129.0 1001.7 75.2Z" fill-opacity="0.241"/><path d="M1001.7 86.0C1002.5 132.9 1003.6 142.3 1003.8 168.1C1003.8 196.3 1003.4 203.3 1002.2 203.3C1001.0 203.3 1000.2 196.3 1000.2 168.1C1000.4 142.3 1001.3 132.9 1001.7 86.0Z" fill-opacity="0.184"/><path d="M1009.3 130.9C1013.6 175.9 1018.5 184.9 1019.2 209.6C1019.2 236.6 1018.8 243.3 1014.9 243.3C1011.0 243.3 1007.2 236.6 1007.2 209.6C1007.9 184.9 1009.5 175.9 1009.3 130.9Z" fill-opacity="0.137"/><path d="M1009.3 136.1C1012.8 177.8 1016.5 186.1 1017.0 209.0C1017.0 234.0 1017.3 240.2 1014.9 240.2C1012.4 240.2 1009.4 234.0 1009.4 209.0C1009.8 186.1 1010.2 177.8 1009.3 136.1Z" fill-opacity="0.207"/><path d="M1009.3 144.5C1012.1 180.8 1014.8 188.0 1015.0 208.0C1015.0 229.8 1016.1 235.2 1014.9 235.2C1013.7 235.2 1011.4 229.8 1011.4 208.0C1011.6 188.0 1010.9 180.8 1009.3 144.5Z" fill-opacity="0.157"/><path d="M1020.7 66.5C1023.2 108.7 1026.2 117.2 1026.8 140.4C1026.8 165.7 1026.0 172.1 1023.2 172.1C1020.5 172.1 1018.2 165.7 1018.2 140.4C1018.7 117.2 1020.3 108.7 1020.7 66.5Z" fill-opacity="0.190"/><path d="M1020.7 71.4C1022.7 110.5 1024.9 118.3 1025.2 139.8C1025.2 163.3 1025.0 169.1 1023.2 169.1C1021.5 169.1 1019.8 163.3 1019.8 139.8C1020.1 118.3 1020.8 110.5 1020.7 71.4Z" fill-opacity="0.287"/><path d="M1020.7 79.2C1022.2 113.3 1023.6 120.1 1023.8 138.9C1023.8 159.3 1024.1 164.4 1023.2 164.4C1022.4 164.4 1021.2 159.3 1021.2 138.9C1021.3 120.1 1021.3 113.3 1020.7 79.2Z" fill-opacity="0.218"/><path d="M1019.9 169.9C1024.4 207.2 1029.9 214.6 1030.8 235.1C1030.8 257.5 1029.5 263.1 1024.5 263.1C1019.5 263.1 1015.5 257.5 1015.5 235.1C1016.4 214.6 1019.2 207.2 1019.9 169.9Z" fill-opacity="0.144"/><path d="M1019.9 174.2C1023.4 208.7 1027.5 215.6 1028.0 234.6C1028.0 255.3 1027.7 260.5 1024.5 260.5C1021.3 260.5 1018.3 255.3 1018.3 234.6C1018.8 215.6 1020.1 208.7 1019.9 174.2Z" fill-opacity="0.218"/><path d="M1019.9 181.1C1022.6 211.2 1025.2 217.2 1025.5 233.8C1025.5 251.9 1026.0 256.4 1024.5 256.4C1023.0 256.4 1020.8 251.9 1020.8 233.8C1021.1 217.2 1021.0 211.2 1019.9 181.1Z" fill-opacity="0.166"/><path d="M1028.3 85.4C1029.2 107.6 1031.8 112.0 1031.8 128.2C1031.8 143.0 1029.4 150.4 1028.3 159.3C1027.3 150.4 1024.8 143.0 1024.8 128.2C1024.8 112.0 1027.4 107.6 1028.3 85.4Z" fill-opacity="0.090"/><path d="M1039.6 61.5L1042.4 61.5L1043.8 101.3Q1043.3 117.6 1041.0 133.9Q1038.8 117.6 1038.2 101.3Z" fill-opacity="0.180"/><path d="M1037.2 93.9C1039.7 130.1 1043.6 137.3 1044.4 157.2C1044.4 178.9 1042.2 184.3 1037.7 184.3C1033.3 184.3 1030.7 178.9 1030.7 157.2C1031.5 137.3 1035.1 130.1 1037.2 93.9Z" fill-opacity="0.190"/><path d="M1037.2 98.1C1038.9 131.6 1041.4 138.3 1041.9 156.7C1041.9 176.8 1040.5 181.8 1037.7 181.8C1034.9 181.8 1033.2 176.8 1033.2 156.7C1033.7 138.3 1035.9 131.6 1037.2 98.1Z" fill-opacity="0.287"/><path d="M1037.2 104.8C1038.1 134.0 1039.4 139.8 1039.6 155.9C1039.6 173.4 1039.1 177.8 1037.7 177.8C1036.4 177.8 1035.5 173.4 1035.5 155.9C1035.7 139.8 1036.7 134.0 1037.2 104.8Z" fill-opacity="0.218"/><path d="M1038.5 137.8C1044.1 189.3 1052.3 199.6 1053.9 228.0C1053.9 258.9 1049.9 266.6 1041.0 266.6C1032.1 266.6 1026.6 258.9 1026.6 228.0C1028.2 199.6 1034.8 189.3 1038.5 137.8Z" fill-opacity="0.197"/><path d="M1038.5 143.8C1042.4 191.5 1047.9 201.0 1049.0 227.3C1049.0 255.9 1046.7 263.0 1041.0 263.0C1035.4 263.0 1031.6 255.9 1031.6 227.3C1032.6 201.0 1036.5 191.5 1038.5 143.8Z" fill-opacity="0.299"/><path d="M1038.5 153.3C1040.9 194.9 1043.9 203.2 1044.4 226.1C1044.4 251.1 1043.7 257.3 1041.0 257.3C1038.3 257.3 1036.1 251.1 1036.1 226.1C1036.6 203.2 1038.1 194.9 1038.5 153.3Z" fill-opacity="0.227"/><path d="M1039.2 170.2C1042.6 205.2 1047.2 212.3 1048.2 231.6C1048.2 252.6 1046.0 257.9 1041.0 257.9C1036.0 257.9 1032.8 252.6 1032.8 231.6C1033.7 212.3 1037.3 205.2 1039.2 170.2Z" fill-opacity="0.197"/><path d="M1039.2 174.2C1041.6 206.7 1044.8 213.2 1045.4 231.1C1045.4 250.6 1044.2 255.4 1041.0 255.4C1037.8 255.4 1035.6 250.6 1035.6 231.1C1036.2 213.2 1038.3 206.7 1039.2 174.2Z" fill-opacity="0.299"/><path d="M1039.2 180.7C1040.7 209.0 1042.5 214.7 1042.8 230.3C1042.8 247.3 1042.5 251.5 1041.0 251.5C1039.5 251.5 1038.2 247.3 1038.2 230.3C1038.4 214.7 1039.2 209.0 1039.2 180.7Z" fill-opacity="0.227"/><path d="M1049.4 63.9C1050.1 117.7 1052.3 128.4 1053.1 158.0C1053.1 190.2 1050.0 198.2 1046.1 198.2C1042.2 198.2 1041.1 190.2 1041.1 158.0C1041.8 128.4 1046.0 117.7 1049.4 63.9Z" fill-opacity="0.209"/><path d="M1049.4 70.2C1049.4 119.9 1050.4 129.8 1050.9 157.2C1050.9 187.1 1048.6 194.5 1046.1 194.5C1043.6 194.5 1043.3 187.1 1043.3 157.2C1043.7 129.8 1046.8 119.9 1049.4 70.2Z" fill-opacity="0.316"/><path d="M1049.4 80.1C1048.7 123.5 1048.7 132.2 1048.9 156.0C1048.9 182.0 1047.3 188.5 1046.1 188.5C1044.9 188.5 1045.3 182.0 1045.3 156.0C1045.5 132.2 1047.5 123.5 1049.4 80.1Z" fill-opacity="0.240"/><path d="M1057.5 107.3C1060.7 136.9 1065.8 142.9 1066.9 159.1C1066.9 176.9 1063.6 181.3 1057.5 181.3C1051.4 181.3 1048.1 176.9 1048.1 159.1C1049.2 142.9 1054.3 136.9 1057.5 107.3Z" fill-opacity="0.152"/><path d="M1057.5 110.8C1059.5 138.2 1062.8 143.7 1063.5 158.7C1063.5 175.2 1061.4 179.3 1057.5 179.3C1053.6 179.3 1051.5 175.2 1051.5 158.7C1052.3 143.7 1055.5 138.2 1057.5 110.8Z" fill-opacity="0.230"/><path d="M1057.5 116.2C1058.5 140.1 1060.0 144.9 1060.4 158.1C1060.4 172.4 1059.4 176.0 1057.5 176.0C1055.7 176.0 1054.7 172.4 1054.7 158.1C1055.0 144.9 1056.5 140.1 1057.5 116.2Z" fill-opacity="0.175"/><path d="M1068.9 97.8C1073.6 165.8 1079.5 179.4 1080.5 216.8C1080.5 257.6 1078.8 267.8 1073.2 267.8C1067.7 267.8 1063.4 257.6 1063.4 216.8C1064.4 179.4 1067.8 165.8 1068.9 97.8Z" fill-opacity="0.159"/><path d="M1068.9 105.7C1072.5 168.6 1076.7 181.2 1077.4 215.8C1077.4 253.6 1076.8 263.0 1073.2 263.0C1069.7 263.0 1066.5 253.6 1066.5 215.8C1067.2 181.2 1068.8 168.6 1068.9 105.7Z" fill-opacity="0.241"/><path d="M1068.9 118.3C1071.5 173.2 1074.2 184.1 1074.5 214.3C1074.5 247.3 1074.9 255.5 1073.2 255.5C1071.6 255.5 1069.4 247.3 1069.4 214.3C1069.7 184.1 1069.8 173.2 1068.9 118.3Z" fill-opacity="0.184"/><path d="M1070.7 136.1C1071.9 170.3 1076.6 177.1 1076.6 202.1C1076.6 224.8 1074.1 236.2 1072.7 249.8C1071.3 236.2 1067.2 224.8 1067.2 202.1C1067.2 177.1 1069.5 170.3 1070.7 136.1Z" fill-opacity="0.060"/><path d="M1081.6 89.8C1084.1 161.1 1088.0 175.3 1088.9 214.5C1088.9 257.3 1086.3 268.0 1081.6 268.0C1076.9 268.0 1074.4 257.3 1074.4 214.5C1075.2 175.3 1079.2 161.1 1081.6 89.8Z" fill-opacity="0.190"/><path d="M1081.6 98.1C1083.2 164.1 1085.7 177.3 1086.2 213.6C1086.2 253.1 1084.6 263.0 1081.6 263.0C1078.6 263.0 1077.0 253.1 1077.0 213.6C1077.6 177.3 1080.1 164.1 1081.6 98.1Z" fill-opacity="0.287"/><path d="M1081.6 111.3C1082.4 168.8 1083.6 180.3 1083.8 212.0C1083.8 246.5 1083.1 255.1 1081.6 255.1C1080.2 255.1 1079.4 246.5 1079.4 212.0C1079.7 180.3 1080.9 168.8 1081.6 111.3Z" fill-opacity="0.218"/><path d="M1081.6 143.9C1082.9 186.6 1085.0 195.2 1085.5 218.7C1085.5 244.4 1084.1 250.8 1081.6 250.8C1079.1 250.8 1077.8 244.4 1077.8 218.7C1078.2 195.2 1080.3 186.6 1081.6 143.9Z" fill-opacity="0.209"/><path d="M1081.6 148.8C1082.5 188.4 1083.8 196.3 1084.1 218.1C1084.1 241.9 1083.2 247.8 1081.6 247.8C1080.0 247.8 1079.2 241.9 1079.2 218.1C1079.5 196.3 1080.8 188.4 1081.6 148.8Z" fill-opacity="0.316"/><path d="M1081.6 156.8C1082.0 191.3 1082.6 198.2 1082.8 217.2C1082.8 237.9 1082.4 243.1 1081.6 243.1C1080.9 243.1 1080.5 237.9 1080.5 217.2C1080.6 198.2 1081.2 191.3 1081.6 156.8Z" fill-opacity="0.240"/><path d="M1090.9 61.5L1093.7 61.5L1095.1 116.6Q1094.5 139.2 1092.3 161.7Q1090.0 139.2 1089.5 116.6Z" fill-opacity="0.126"/><path d="M1100.8 61.5L1103.6 61.5L1104.6 110.7Q1103.8 130.8 1101.4 151.0Q1099.4 130.8 1099.0 110.7Z" fill-opacity="0.150"/><path d="M1096.9 129.8C1100.4 184.6 1105.7 195.6 1106.8 225.7C1106.8 258.6 1103.7 266.9 1097.6 266.9C1091.5 266.9 1088.0 258.6 1088.0 225.7C1089.1 195.6 1094.0 184.6 1096.9 129.8Z" fill-opacity="0.171"/><path d="M1096.9 136.1C1099.2 186.9 1102.6 197.1 1103.4 225.0C1103.4 255.4 1101.5 263.0 1097.6 263.0C1093.7 263.0 1091.4 255.4 1091.4 225.0C1092.1 197.1 1095.1 186.9 1096.9 136.1Z" fill-opacity="0.259"/><path d="M1096.9 146.3C1098.1 190.6 1099.9 199.4 1100.2 223.8C1100.2 250.3 1099.5 257.0 1097.6 257.0C1095.8 257.0 1094.5 250.3 1094.5 223.8C1094.9 199.4 1096.2 190.6 1096.9 146.3Z" fill-opacity="0.197"/><path d="M1096.9 170.5C1098.6 202.3 1101.1 208.7 1101.7 226.2C1101.7 245.3 1100.4 250.0 1097.6 250.0C1094.8 250.0 1093.1 245.3 1093.1 226.2C1093.6 208.7 1095.7 202.3 1096.9 170.5Z" fill-opacity="0.083"/><path d="M1096.9 174.2C1098.1 203.7 1099.8 209.5 1100.1 225.7C1100.1 243.4 1099.4 247.8 1097.6 247.8C1095.8 247.8 1094.7 243.4 1094.7 225.7C1095.0 209.5 1096.2 203.7 1096.9 174.2Z" fill-opacity="0.127"/><path d="M1096.9 180.1C1097.6 205.8 1098.5 210.9 1098.7 225.0C1098.7 240.4 1098.5 244.3 1097.6 244.3C1096.8 244.3 1096.1 240.4 1096.1 225.0C1096.2 210.9 1096.7 205.8 1096.9 180.1Z" fill-opacity="0.096"/><path d="M1111.3 71.3C1115.6 149.1 1120.9 164.7 1121.9 207.5C1121.9 254.2 1120.4 265.9 1115.4 265.9C1110.4 265.9 1106.5 254.2 1106.5 207.5C1107.4 164.7 1110.3 149.1 1111.3 71.3Z" fill-opacity="0.171"/><path d="M1111.3 80.3C1114.6 152.4 1118.5 166.8 1119.1 206.4C1119.1 249.7 1118.6 260.5 1115.4 260.5C1112.2 260.5 1109.3 249.7 1109.3 206.4C1109.9 166.8 1111.3 152.4 1111.3 80.3Z" fill-opacity="0.259"/><path d="M1111.3 94.7C1113.7 157.6 1116.2 170.1 1116.5 204.7C1116.5 242.4 1116.9 251.9 1115.4 251.9C1113.9 251.9 1111.8 242.4 1111.8 204.7C1112.1 170.1 1112.2 157.6 1111.3 94.7Z" fill-opacity="0.197"/><path d="M1128.2 61.5L1131.5 61.5L1133.4 87.3Q1132.9 97.8 1130.4 108.3Q1127.6 97.8 1126.9 87.3Z" fill-opacity="0.165"/><path d="M1134.9 116.5C1137.7 176.8 1142.7 188.8 1143.9 222.0C1143.9 258.2 1139.8 267.2 1133.1 267.2C1126.5 267.2 1123.4 258.2 1123.4 222.0C1124.7 188.8 1130.7 176.8 1134.9 116.5Z" fill-opacity="0.190"/><path d="M1134.9 123.5C1136.4 179.3 1139.4 190.5 1140.2 221.2C1140.2 254.7 1137.4 263.0 1133.1 263.0C1128.9 263.0 1127.2 254.7 1127.2 221.2C1127.9 190.5 1132.0 179.3 1134.9 123.5Z" fill-opacity="0.287"/><path d="M1134.9 134.6C1135.3 183.3 1136.4 193.0 1136.8 219.8C1136.8 249.0 1135.2 256.3 1133.1 256.3C1131.1 256.3 1130.6 249.0 1130.6 219.8C1130.9 193.0 1133.2 183.3 1134.9 134.6Z" fill-opacity="0.218"/><path d="M1134.9 157.2C1136.0 194.5 1138.2 201.9 1138.8 222.4C1138.8 244.8 1136.5 250.4 1133.1 250.4C1129.8 250.4 1128.6 244.8 1128.6 222.4C1129.2 201.9 1132.5 194.5 1134.9 157.2Z" fill-opacity="0.159"/><path d="M1134.9 161.5C1135.3 196.0 1136.6 202.9 1136.9 221.9C1136.9 242.6 1135.3 247.8 1133.1 247.8C1131.0 247.8 1130.4 242.6 1130.4 221.9C1130.8 202.9 1133.1 196.0 1134.9 161.5Z" fill-opacity="0.241"/><path d="M1134.9 168.4C1134.7 198.5 1135.0 204.5 1135.2 221.1C1135.2 239.2 1134.2 243.7 1133.1 243.7C1132.1 243.7 1132.1 239.2 1132.1 221.1C1132.3 204.5 1133.7 198.5 1134.9 168.4Z" fill-opacity="0.184"/><path d="M1141.3 75.2C1142.1 114.5 1144.8 122.3 1144.8 151.1C1144.8 177.2 1142.3 190.3 1141.3 206.0C1140.2 190.3 1137.8 177.2 1137.8 151.1C1137.8 122.3 1140.4 114.5 1141.3 75.2Z" fill-opacity="0.099"/><path d="M1147.6 99.6C1151.2 152.2 1155.5 162.7 1156.3 191.7C1156.3 223.3 1155.3 231.2 1151.4 231.2C1147.5 231.2 1144.3 223.3 1144.3 191.7C1145.0 162.7 1147.1 152.2 1147.6 99.6Z" fill-opacity="0.152"/><path d="M1147.6 105.7C1150.4 154.4 1153.6 164.2 1154.1 191.0C1154.1 220.2 1153.9 227.5 1151.4 227.5C1148.9 227.5 1146.5 220.2 1146.5 191.0C1146.9 164.2 1147.8 154.4 1147.6 105.7Z" fill-opacity="0.230"/><path d="M1147.6 115.4C1149.8 157.9 1151.9 166.4 1152.1 189.8C1152.1 215.3 1152.6 221.7 1151.4 221.7C1150.2 221.7 1148.5 215.3 1148.5 189.8C1148.7 166.4 1148.5 157.9 1147.6 115.4Z" fill-opacity="0.175"/><path d="M1154.2 61.5L1157.0 61.5L1158.4 117.0Q1157.9 139.6 1155.6 162.3Q1153.4 139.6 1152.8 117.0Z" fill-opacity="0.234"/><path d="M1155.1 131.6C1155.5 171.0 1157.1 178.9 1157.6 200.6C1157.6 224.3 1155.3 230.3 1152.6 230.3C1149.8 230.3 1149.1 224.3 1149.1 200.6C1149.6 178.9 1152.6 171.0 1155.1 131.6Z" fill-opacity="0.144"/><path d="M1155.1 136.1C1155.0 172.7 1155.7 180.0 1156.0 200.1C1156.0 222.0 1154.3 227.5 1152.6 227.5C1150.8 227.5 1150.6 222.0 1150.6 200.1C1150.9 180.0 1153.2 172.7 1155.1 136.1Z" fill-opacity="0.218"/><path d="M1155.1 143.5C1154.5 175.3 1154.5 181.7 1154.6 199.2C1154.6 218.3 1153.4 223.1 1152.6 223.1C1151.7 223.1 1152.0 218.3 1152.0 199.2C1152.2 181.7 1153.7 175.3 1155.1 143.5Z" fill-opacity="0.166"/><path d="M1166.3 68.2C1168.4 128.6 1171.5 140.6 1172.1 173.8C1172.1 210.0 1170.6 219.0 1167.3 219.0C1164.0 219.0 1161.9 210.0 1161.9 173.8C1162.5 140.6 1164.9 128.6 1166.3 68.2Z" fill-opacity="0.190"/><path d="M1166.3 75.2C1167.8 131.1 1169.9 142.2 1170.2 172.9C1170.2 206.4 1169.4 214.8 1167.3 214.8C1165.2 214.8 1163.7 206.4 1163.7 172.9C1164.1 142.2 1165.6 131.1 1166.3 75.2Z" fill-opacity="0.287"/><path d="M1166.3 86.4C1167.2 135.1 1168.4 144.8 1168.5 171.6C1168.5 200.8 1168.3 208.1 1167.3 208.1C1166.3 208.1 1165.4 200.8 1165.4 171.6C1165.6 144.8 1166.2 135.1 1166.3 86.4Z" fill-opacity="0.218"/><path d="M1161.3 61.5L1162.7 61.5L1163.4 91.6Q1163.1 103.9 1162.0 116.2Q1160.8 103.9 1160.6 91.6Z" fill-opacity="0.075"/><path d="M1172.1 164.7C1175.8 203.1 1181.3 210.7 1182.4 231.9C1182.4 254.9 1179.5 260.6 1173.4 260.6C1167.3 260.6 1163.6 254.9 1163.6 231.9C1164.7 210.7 1169.4 203.1 1172.1 164.7Z" fill-opacity="0.159"/><path d="M1172.1 169.1C1174.7 204.7 1178.3 211.8 1179.0 231.3C1179.0 252.6 1177.3 258.0 1173.4 258.0C1169.5 258.0 1167.0 252.6 1167.0 231.3C1167.7 211.8 1170.6 204.7 1172.1 169.1Z" fill-opacity="0.241"/><path d="M1172.1 176.2C1173.6 207.2 1175.5 213.4 1175.8 230.5C1175.8 249.1 1175.2 253.7 1173.4 253.7C1171.5 253.7 1170.2 249.1 1170.2 230.5C1170.5 213.4 1171.7 207.2 1172.1 176.2Z" fill-opacity="0.184"/><path d="M1172.6 189.4C1174.4 211.4 1176.9 215.8 1177.4 227.8C1177.4 241.0 1176.2 244.3 1173.4 244.3C1170.6 244.3 1168.9 241.0 1168.9 227.8C1169.4 215.8 1171.5 211.4 1172.6 189.4Z" fill-opacity="0.095"/><path d="M1172.6 192.0C1173.8 212.3 1175.5 216.3 1175.9 227.5C1175.9 239.7 1175.1 242.7 1173.4 242.7C1171.6 242.7 1170.4 239.7 1170.4 227.5C1170.8 216.3 1172.0 212.3 1172.6 192.0Z" fill-opacity="0.144"/><path d="M1172.6 196.0C1173.4 213.7 1174.3 217.3 1174.4 227.0C1174.4 237.6 1174.2 240.3 1173.4 240.3C1172.5 240.3 1171.9 237.6 1171.9 227.0C1172.0 217.3 1172.5 213.7 1172.6 196.0Z" fill-opacity="0.109"/><path d="M1186.1 130.2C1189.3 181.7 1193.2 192.0 1193.9 220.4C1193.9 251.3 1193.2 259.0 1189.9 259.0C1186.5 259.0 1183.6 251.3 1183.6 220.4C1184.2 192.0 1185.9 181.7 1186.1 130.2Z" fill-opacity="0.125"/><path d="M1186.1 136.1C1188.7 183.9 1191.6 193.4 1192.0 219.6C1192.0 248.3 1192.0 255.4 1189.9 255.4C1187.8 255.4 1185.5 248.3 1185.5 219.6C1185.9 193.4 1186.5 183.9 1186.1 136.1Z" fill-opacity="0.190"/><path d="M1186.1 145.7C1188.1 187.3 1190.1 195.6 1190.3 218.5C1190.3 243.5 1190.9 249.7 1189.9 249.7C1188.9 249.7 1187.2 243.5 1187.2 218.5C1187.4 195.6 1187.1 187.3 1186.1 145.7Z" fill-opacity="0.144"/><path d="M1191.1 58.9C1195.1 112.6 1199.3 123.3 1199.9 152.9C1199.9 185.1 1200.3 193.2 1197.5 193.2C1194.7 193.2 1191.3 185.1 1191.3 152.9C1191.8 123.3 1192.2 112.6 1191.1 58.9Z" fill-opacity="0.152"/><path d="M1191.1 65.1C1194.6 114.8 1198.0 124.8 1198.3 152.1C1198.3 182.0 1199.3 189.4 1197.5 189.4C1195.7 189.4 1192.9 182.0 1192.9 152.1C1193.2 124.8 1192.8 114.8 1191.1 65.1Z" fill-opacity="0.230"/><path d="M1191.1 75.0C1194.1 118.4 1196.7 127.1 1196.9 150.9C1196.9 177.0 1198.3 183.5 1197.5 183.5C1196.7 183.5 1194.3 177.0 1194.3 150.9C1194.4 127.1 1193.2 118.4 1191.1 75.0Z" fill-opacity="0.175"/><path d="M1196.7 90.5C1197.8 128.0 1202.0 135.5 1202.0 163.0C1202.0 188.0 1200.0 200.5 1198.8 215.5C1197.5 200.5 1193.8 188.0 1193.8 163.0C1193.8 135.5 1195.7 128.0 1196.7 90.5Z" fill-opacity="0.108"/><path d="M1183.5 137.8C1184.5 189.3 1186.6 199.6 1187.2 228.0C1187.2 258.9 1184.8 266.6 1181.5 266.6C1178.2 266.6 1177.0 258.9 1177.0 228.0C1177.6 199.6 1181.0 189.3 1183.5 137.8Z" fill-opacity="0.152"/><path d="M1183.5 143.8C1183.8 191.5 1185.0 201.0 1185.4 227.3C1185.4 255.9 1183.6 263.0 1181.5 263.0C1179.4 263.0 1178.8 255.9 1178.8 227.3C1179.2 201.0 1181.6 191.5 1183.5 143.8Z" fill-opacity="0.230"/><path d="M1183.5 153.3C1183.2 194.9 1183.5 203.2 1183.7 226.1C1183.7 251.1 1182.5 257.3 1181.5 257.3C1180.5 257.3 1180.6 251.1 1180.6 226.1C1180.7 203.2 1182.2 194.9 1183.5 153.3Z" fill-opacity="0.175"/><path d="M1208.3 61.5L1212.1 61.5L1216.3 148.2Q1216.5 183.7 1214.5 219.2Q1210.5 183.7 1208.8 148.2Z" fill-opacity="0.180"/><path d="M1211.5 98.1C1212.6 134.7 1218.0 142.1 1218.0 169.0C1218.0 193.4 1216.2 205.6 1214.8 220.3C1213.4 205.6 1208.7 193.4 1208.7 169.0C1208.7 142.1 1210.3 134.7 1211.5 98.1Z" fill-opacity="0.105"/><path d="M1214.5 161.8C1220.5 203.4 1228.6 211.8 1230.2 234.7C1230.2 259.7 1226.9 265.9 1218.6 265.9C1210.2 265.9 1204.5 259.7 1204.5 234.7C1206.1 211.8 1211.8 203.4 1214.5 161.8Z" fill-opacity="0.209"/><path d="M1214.5 166.6C1218.9 205.2 1224.5 212.9 1225.5 234.1C1225.5 257.3 1223.9 263.0 1218.6 263.0C1213.3 263.0 1209.2 257.3 1209.2 234.1C1210.2 212.9 1213.3 205.2 1214.5 166.6Z" fill-opacity="0.316"/><path d="M1214.5 174.3C1217.4 208.0 1220.8 214.7 1221.2 233.2C1221.2 253.4 1221.1 258.4 1218.6 258.4C1216.0 258.4 1213.5 253.4 1213.5 233.2C1213.9 214.7 1214.8 208.0 1214.5 174.3Z" fill-opacity="0.240"/><path d="M1216.0 188.8C1219.4 216.2 1223.8 221.7 1224.6 236.8C1224.6 253.2 1223.0 257.3 1218.6 257.3C1214.1 257.3 1211.0 253.2 1211.0 236.8C1211.8 221.7 1214.7 216.2 1216.0 188.8Z" fill-opacity="0.209"/><path d="M1216.0 192.0C1218.5 217.4 1221.6 222.4 1222.1 236.4C1222.1 251.6 1221.4 255.4 1218.6 255.4C1215.7 255.4 1213.4 251.6 1213.4 236.4C1214.0 222.4 1215.6 217.4 1216.0 192.0Z" fill-opacity="0.316"/><path d="M1216.0 197.1C1217.7 219.2 1219.6 223.6 1219.9 235.8C1219.9 249.1 1219.9 252.4 1218.6 252.4C1217.2 252.4 1215.7 249.1 1215.7 235.8C1216.0 223.6 1216.3 219.2 1216.0 197.1Z" fill-opacity="0.240"/><path d="M1221.6 85.4C1222.5 124.6 1225.1 132.5 1225.1 161.2C1225.1 187.4 1222.7 200.5 1221.6 216.1C1220.6 200.5 1218.1 187.4 1218.1 161.2C1218.1 132.5 1220.7 124.6 1221.6 85.4Z" fill-opacity="0.066"/><path d="M1229.7 110.8C1230.3 136.3 1232.1 141.5 1232.1 160.2C1232.1 177.3 1230.4 185.8 1229.7 196.0C1229.0 185.8 1227.4 177.3 1227.4 160.2C1227.4 141.5 1229.1 136.3 1229.7 110.8Z" fill-opacity="0.045"/><path d="M1241.2 61.5L1243.6 61.5L1244.5 95.1Q1243.9 108.8 1241.9 122.5Q1240.2 108.8 1239.8 95.1Z" fill-opacity="0.120"/><path d="M1238.1 143.2C1242.2 191.5 1248.6 201.1 1250.1 227.7C1250.1 256.6 1245.9 263.9 1238.1 263.9C1230.3 263.9 1226.1 256.6 1226.1 227.7C1227.6 201.1 1234.0 191.5 1238.1 143.2Z" fill-opacity="0.228"/><path d="M1238.1 148.8C1240.7 193.5 1244.8 202.4 1245.7 227.0C1245.7 253.8 1243.0 260.5 1238.1 260.5C1233.2 260.5 1230.5 253.8 1230.5 227.0C1231.4 202.4 1235.5 193.5 1238.1 148.8Z" fill-opacity="0.345"/><path d="M1238.1 157.8C1239.3 196.7 1241.3 204.5 1241.7 225.9C1241.7 249.3 1240.5 255.1 1238.1 255.1C1235.7 255.1 1234.5 249.3 1234.5 225.9C1234.9 204.5 1236.9 196.7 1238.1 157.8Z" fill-opacity="0.262"/><path d="M1238.1 167.6C1240.3 202.7 1243.7 209.7 1244.5 229.0C1244.5 250.1 1242.3 255.3 1238.1 255.3C1233.9 255.3 1231.7 250.1 1231.7 229.0C1232.5 209.7 1235.9 202.7 1238.1 167.6Z" fill-opacity="0.228"/><path d="M1238.1 171.7C1239.5 204.2 1241.7 210.7 1242.2 228.5C1242.2 248.0 1240.8 252.9 1238.1 252.9C1235.5 252.9 1234.0 248.0 1234.0 228.5C1234.5 210.7 1236.7 204.2 1238.1 171.7Z" fill-opacity="0.345"/><path d="M1238.1 178.2C1238.8 206.5 1239.8 212.2 1240.0 227.7C1240.0 244.7 1239.4 249.0 1238.1 249.0C1236.8 249.0 1236.2 244.7 1236.2 227.7C1236.4 212.2 1237.4 206.5 1238.1 178.2Z" fill-opacity="0.262"/><path d="M1249.0 90.5C1250.0 124.6 1252.4 131.4 1252.4 156.4C1252.4 179.1 1249.0 190.5 1247.7 204.2C1246.5 190.5 1244.2 179.1 1244.2 156.4C1244.2 131.4 1248.0 124.6 1249.0 90.5Z" fill-opacity="0.210"/><path d="M1247.7 177.9C1250.3 211.9 1254.3 218.7 1255.3 237.4C1255.3 257.8 1252.5 262.9 1247.5 262.9C1242.5 262.9 1239.9 257.8 1239.9 237.4C1240.8 218.7 1245.0 211.9 1247.7 177.9Z" fill-opacity="0.190"/><path d="M1247.7 181.8C1249.3 213.3 1251.9 219.6 1252.5 236.9C1252.5 255.8 1250.7 260.5 1247.5 260.5C1244.3 260.5 1242.7 255.8 1242.7 236.9C1243.3 219.6 1246.0 213.3 1247.7 181.8Z" fill-opacity="0.287"/><path d="M1247.7 188.1C1248.4 215.6 1249.6 221.1 1249.9 236.1C1249.9 252.6 1249.0 256.7 1247.5 256.7C1246.0 256.7 1245.2 252.6 1245.2 236.1C1245.5 221.1 1246.9 215.6 1247.7 188.1Z" fill-opacity="0.218"/><path d="M1247.7 189.1C1249.0 214.3 1251.0 219.3 1251.4 233.2C1251.4 248.3 1250.0 252.1 1247.5 252.1C1245.0 252.1 1243.7 248.3 1243.7 233.2C1244.2 219.3 1246.3 214.3 1247.7 189.1Z" fill-opacity="0.171"/><path d="M1247.7 192.0C1248.5 215.3 1249.7 220.0 1250.0 232.8C1250.0 246.9 1249.1 250.4 1247.5 250.4C1245.9 250.4 1245.1 246.9 1245.1 232.8C1245.4 220.0 1246.8 215.3 1247.7 192.0Z" fill-opacity="0.259"/><path d="M1247.7 196.6C1248.0 217.0 1248.6 221.1 1248.7 232.3C1248.7 244.5 1248.2 247.6 1247.5 247.6C1246.7 247.6 1246.4 244.5 1246.4 232.3C1246.5 221.1 1247.2 217.0 1247.7 196.6Z" fill-opacity="0.197"/><path d="M1251.1 61.5L1253.0 61.5L1253.9 107.2Q1253.6 126.0 1252.1 144.7Q1250.6 126.0 1250.2 107.2Z" fill-opacity="0.090"/><path d="M1253.7 61.5L1255.5 61.5L1256.5 135.4Q1256.1 165.6 1254.6 195.8Q1253.1 165.6 1252.7 135.4Z" fill-opacity="0.105"/><path d="M1271.7 61.5L1274.0 61.5L1276.0 107.6Q1275.9 126.4 1274.4 145.3Q1272.2 126.4 1271.4 107.6Z" fill-opacity="0.120"/><path d="M1273.9 105.4C1276.6 151.5 1279.8 160.7 1280.2 186.0C1280.2 213.7 1279.9 220.6 1277.4 220.6C1274.9 220.6 1272.5 213.7 1272.5 186.0C1273.0 160.7 1274.0 151.5 1273.9 105.4Z" fill-opacity="0.296"/><path d="M1273.9 110.8C1276.1 153.4 1278.5 161.9 1278.8 185.4C1278.8 211.0 1279.0 217.4 1277.4 217.4C1275.9 217.4 1273.9 211.0 1273.9 185.4C1274.2 161.9 1274.5 153.4 1273.9 110.8Z" fill-opacity="0.448"/><path d="M1273.9 119.3C1275.7 156.5 1277.4 163.9 1277.5 184.4C1277.5 206.7 1278.2 212.2 1277.4 212.2C1276.7 212.2 1275.2 206.7 1275.2 184.4C1275.4 163.9 1274.9 156.5 1273.9 119.3Z" fill-opacity="0.341"/><path d="M1276.9 199.3C1280.0 223.5 1284.4 228.3 1285.3 241.6C1285.3 256.0 1282.9 259.6 1277.9 259.6C1273.0 259.6 1270.0 256.0 1270.0 241.6C1270.9 228.3 1274.7 223.5 1276.9 199.3Z" fill-opacity="0.159"/><path d="M1276.9 202.1C1279.0 224.5 1282.0 228.9 1282.5 241.2C1282.5 254.6 1281.1 258.0 1277.9 258.0C1274.8 258.0 1272.8 254.6 1272.8 241.2C1273.3 228.9 1275.7 224.5 1276.9 202.1Z" fill-opacity="0.241"/><path d="M1276.9 206.6C1278.1 226.1 1279.7 230.0 1280.0 240.7C1280.0 252.4 1279.5 255.3 1277.9 255.3C1276.4 255.3 1275.3 252.4 1275.3 240.7C1275.6 230.0 1276.5 226.1 1276.9 206.6Z" fill-opacity="0.184"/><path d="M1283.8 152.9C1285.7 183.6 1288.7 189.7 1289.3 206.6C1289.3 225.0 1287.6 229.6 1284.3 229.6C1281.0 229.6 1279.0 225.0 1279.0 206.6C1279.6 189.7 1282.2 183.6 1283.8 152.9Z" fill-opacity="0.159"/><path d="M1283.8 156.4C1285.1 184.9 1287.0 190.6 1287.4 206.2C1287.4 223.2 1286.4 227.5 1284.3 227.5C1282.2 227.5 1280.9 223.2 1280.9 206.2C1281.3 190.6 1282.9 184.9 1283.8 156.4Z" fill-opacity="0.241"/><path d="M1283.8 162.1C1284.5 186.9 1285.5 191.9 1285.7 205.5C1285.7 220.4 1285.3 224.1 1284.3 224.1C1283.3 224.1 1282.6 220.4 1282.6 205.5C1282.8 191.9 1283.5 186.9 1283.8 162.1Z" fill-opacity="0.184"/><path d="M1297.4 61.5L1300.6 61.5L1301.9 148.2Q1301.0 183.7 1298.3 219.2Q1295.8 183.7 1295.3 148.2Z" fill-opacity="0.195"/><path d="M1298.8 110.8C1299.8 143.2 1302.3 149.6 1302.3 173.4C1302.3 195.0 1299.0 205.8 1297.7 218.8C1296.5 205.8 1294.1 195.0 1294.1 173.4C1294.1 149.6 1297.7 143.2 1298.8 110.8Z" fill-opacity="0.096"/><path d="M1297.7 177.9C1300.3 211.9 1305.6 218.7 1307.0 237.4C1307.0 257.8 1301.7 262.9 1293.9 262.9C1286.2 262.9 1283.1 257.8 1283.1 237.4C1284.6 218.7 1292.2 211.9 1297.7 177.9Z" fill-opacity="0.190"/><path d="M1297.7 181.8C1298.8 213.3 1301.8 219.6 1302.7 236.9C1302.7 255.8 1298.9 260.5 1293.9 260.5C1289.0 260.5 1287.5 255.8 1287.5 236.9C1288.4 219.6 1293.6 213.3 1297.7 181.8Z" fill-opacity="0.287"/><path d="M1297.7 188.1C1297.5 215.6 1298.3 221.1 1298.7 236.1C1298.7 252.6 1296.3 256.7 1293.9 256.7C1291.6 256.7 1291.5 252.6 1291.5 236.1C1291.9 221.1 1295.0 215.6 1297.7 188.1Z" fill-opacity="0.218"/><path d="M1296.5 194.5C1297.5 216.4 1300.0 220.8 1300.7 232.9C1300.7 246.1 1297.8 249.3 1293.9 249.3C1290.1 249.3 1288.7 246.1 1288.7 232.9C1289.4 220.8 1293.4 216.4 1296.5 194.5Z" fill-opacity="0.133"/><path d="M1296.5 197.1C1296.8 217.4 1298.0 221.4 1298.5 232.6C1298.5 244.8 1296.4 247.8 1293.9 247.8C1291.5 247.8 1290.9 244.8 1290.9 232.6C1291.4 221.4 1294.2 217.4 1296.5 197.1Z" fill-opacity="0.201"/><path d="M1296.5 201.1C1296.1 218.8 1296.3 222.4 1296.5 232.1C1296.5 242.7 1295.1 245.4 1293.9 245.4C1292.8 245.4 1292.9 242.7 1292.9 232.1C1293.1 222.4 1294.8 218.8 1296.5 201.1Z" fill-opacity="0.153"/><path d="M1289.2 61.5L1291.1 61.5L1292.0 126.0Q1291.6 152.4 1290.1 178.8Q1288.6 152.4 1288.3 126.0Z" fill-opacity="0.084"/><path d="M1308.4 194.0C1311.2 220.3 1315.1 225.6 1315.9 240.1C1315.9 255.8 1314.1 259.8 1309.9 259.8C1305.8 259.8 1303.1 255.8 1303.1 240.1C1303.8 225.6 1306.8 220.3 1308.4 194.0Z" fill-opacity="0.106"/><path d="M1308.4 197.1C1310.4 221.4 1313.1 226.3 1313.5 239.7C1313.5 254.3 1312.6 258.0 1309.9 258.0C1307.3 258.0 1305.4 254.3 1305.4 239.7C1305.9 226.3 1307.6 221.4 1308.4 197.1Z" fill-opacity="0.161"/><path d="M1308.4 201.9C1309.7 223.2 1311.2 227.4 1311.4 239.1C1311.4 251.9 1311.2 255.0 1309.9 255.0C1308.7 255.0 1307.5 251.9 1307.5 239.1C1307.8 227.4 1308.4 223.2 1308.4 201.9Z" fill-opacity="0.122"/><path d="M1307.4 105.7C1308.1 121.0 1310.3 124.1 1310.3 135.4C1310.3 145.6 1308.3 150.7 1307.4 156.9C1306.5 150.7 1304.5 145.6 1304.5 135.4C1304.5 124.1 1306.7 121.0 1307.4 105.7Z" fill-opacity="0.060"/><path d="M1320.1 117.5C1321.9 169.0 1324.6 179.3 1325.1 207.7C1325.1 238.6 1323.9 246.3 1321.1 246.3C1318.3 246.3 1316.5 238.6 1316.5 207.7C1317.0 179.3 1319.0 169.0 1320.1 117.5Z" fill-opacity="0.144"/><path d="M1320.1 123.5C1321.4 171.2 1323.2 180.7 1323.5 207.0C1323.5 235.6 1322.9 242.7 1321.1 242.7C1319.3 242.7 1318.1 235.6 1318.1 207.0C1318.4 180.7 1319.6 171.2 1320.1 123.5Z" fill-opacity="0.218"/><path d="M1320.1 133.0C1320.9 174.6 1321.9 182.9 1322.1 205.8C1322.1 230.8 1321.9 237.0 1321.1 237.0C1320.3 237.0 1319.5 230.8 1319.5 205.8C1319.7 182.9 1320.0 174.6 1320.1 133.0Z" fill-opacity="0.166"/><path d="M1325.7 90.5C1326.5 113.5 1329.2 118.1 1329.2 135.0C1329.2 150.3 1326.7 158.0 1325.7 167.2C1324.6 158.0 1322.2 150.3 1322.2 135.0C1322.2 118.1 1324.8 113.5 1325.7 90.5Z" fill-opacity="0.105"/><path d="M1348.5 149.6C1349.6 186.9 1352.6 194.3 1353.5 214.8C1353.5 237.2 1349.7 242.8 1344.7 242.8C1339.7 242.8 1338.2 237.2 1338.2 214.8C1339.1 194.3 1344.4 186.9 1348.5 149.6Z" fill-opacity="0.144"/><path d="M1348.5 153.9C1348.6 188.4 1350.1 195.3 1350.7 214.3C1350.7 235.0 1347.9 240.2 1344.7 240.2C1341.5 240.2 1340.9 235.0 1340.9 214.3C1341.5 195.3 1345.3 188.4 1348.5 153.9Z" fill-opacity="0.218"/><path d="M1348.5 160.8C1347.8 190.9 1347.9 196.9 1348.2 213.5C1348.2 231.5 1346.2 236.1 1344.7 236.1C1343.2 236.1 1343.5 231.5 1343.5 213.5C1343.8 196.9 1346.2 190.9 1348.5 160.8Z" fill-opacity="0.166"/><path d="M1357.4 168.0C1360.1 199.8 1363.9 206.2 1364.6 223.6C1364.6 242.7 1363.1 247.5 1359.2 247.5C1355.3 247.5 1352.7 242.7 1352.7 223.6C1353.4 206.2 1356.1 199.8 1357.4 168.0Z" fill-opacity="0.137"/><path d="M1357.4 171.7C1359.4 201.1 1362.0 207.0 1362.4 223.2C1362.4 240.9 1361.6 245.3 1359.2 245.3C1356.7 245.3 1354.8 240.9 1354.8 223.2C1355.3 207.0 1356.8 201.1 1357.4 171.7Z" fill-opacity="0.207"/><path d="M1357.4 177.6C1358.7 203.2 1360.2 208.4 1360.4 222.5C1360.4 237.9 1360.3 241.7 1359.2 241.7C1358.0 241.7 1356.8 237.9 1356.8 222.5C1357.0 208.4 1357.5 203.2 1357.4 177.6Z" fill-opacity="0.157"/><path d="M1372.6 178.1C1375.5 209.9 1379.5 216.3 1380.3 233.8C1380.3 252.9 1378.6 257.6 1374.4 257.6C1370.2 257.6 1367.5 252.9 1367.5 233.8C1368.2 216.3 1371.2 209.9 1372.6 178.1Z" fill-opacity="0.137"/><path d="M1372.6 181.8C1374.7 211.3 1377.5 217.2 1377.9 233.4C1377.9 251.0 1377.0 255.4 1374.4 255.4C1371.7 255.4 1369.8 251.0 1369.8 233.4C1370.3 217.2 1371.9 211.3 1372.6 181.8Z" fill-opacity="0.207"/><path d="M1372.6 187.7C1374.0 213.4 1375.6 218.5 1375.8 232.6C1375.8 248.0 1375.7 251.9 1374.4 251.9C1373.1 251.9 1371.9 248.0 1371.9 232.6C1372.2 218.5 1372.7 213.4 1372.6 187.7Z" fill-opacity="0.157"/><path d="M1382.8 194.1C1385.5 219.4 1389.3 224.4 1390.0 238.3C1390.0 253.4 1388.4 257.2 1384.5 257.2C1380.7 257.2 1378.0 253.4 1378.0 238.3C1378.8 224.4 1381.4 219.4 1382.8 194.1Z" fill-opacity="0.106"/><path d="M1382.8 197.1C1384.8 220.4 1387.4 225.1 1387.8 237.9C1387.8 251.9 1387.0 255.4 1384.5 255.4C1382.1 255.4 1380.2 251.9 1380.2 237.9C1380.7 225.1 1382.2 220.4 1382.8 197.1Z" fill-opacity="0.161"/><path d="M1382.8 201.7C1384.1 222.1 1385.6 226.2 1385.8 237.4C1385.8 249.6 1385.7 252.6 1384.5 252.6C1383.4 252.6 1382.2 249.6 1382.2 237.4C1382.4 226.2 1382.9 222.1 1382.8 201.7Z" fill-opacity="0.122"/><path d="M1398.0 151.5C1399.2 194.3 1401.9 202.8 1402.6 226.3C1402.6 252.0 1399.6 258.4 1395.5 258.4C1391.3 258.4 1389.8 252.0 1389.8 226.3C1390.6 202.8 1394.8 194.3 1398.0 151.5Z" fill-opacity="0.159"/><path d="M1398.0 156.4C1398.4 196.0 1399.8 204.0 1400.3 225.7C1400.3 249.5 1398.1 255.4 1395.5 255.4C1392.8 255.4 1392.1 249.5 1392.1 225.7C1392.6 204.0 1395.6 196.0 1398.0 156.4Z" fill-opacity="0.241"/><path d="M1398.0 164.4C1397.6 198.9 1397.9 205.8 1398.2 224.8C1398.2 245.5 1396.7 250.7 1395.5 250.7C1394.2 250.7 1394.3 245.5 1394.3 224.8C1394.5 205.8 1396.3 198.9 1398.0 164.4Z" fill-opacity="0.184"/><path d="M1408.9 98.1C1409.8 141.6 1412.4 150.3 1412.4 182.2C1412.4 211.2 1410.0 225.6 1408.9 243.0C1407.9 225.6 1405.4 211.2 1405.4 182.2C1405.4 150.3 1408.0 141.6 1408.9 98.1Z" fill-opacity="0.114"/></g>
<g filter="url(#bl2)" fill="#fff"><path d="M902.7 75.2C902.9 105.4 903.5 111.4 903.5 133.5C903.5 153.6 902.9 163.7 902.7 175.7C902.5 163.7 901.9 153.6 901.9 133.5C901.9 111.4 902.5 105.4 902.7 75.2Z" fill-opacity="0.082"/><path d="M916.6 90.5C916.8 105.5 917.4 108.5 917.4 119.6C917.4 129.7 916.9 134.7 916.6 140.7C916.4 134.7 915.9 129.7 915.9 119.6C915.9 108.5 916.5 105.5 916.6 90.5Z" fill-opacity="0.066"/><path d="M958.0 98.1C958.2 129.1 958.8 135.3 958.8 158.0C958.8 178.6 958.2 189.0 958.0 201.4C957.8 189.0 957.3 178.6 957.3 158.0C957.3 135.3 957.8 129.1 958.0 98.1Z" fill-opacity="0.082"/><path d="M1028.3 85.4C1028.7 107.2 1029.8 111.5 1029.8 127.5C1029.8 142.0 1028.8 149.3 1028.3 158.0C1027.9 149.3 1026.8 142.0 1026.8 127.5C1026.8 111.5 1027.9 107.2 1028.3 85.4Z" fill-opacity="0.246"/><path d="M1040.4 61.5L1041.6 61.5L1042.2 100.6Q1042.0 116.6 1041.0 132.6Q1040.0 116.6 1039.8 100.6Z" fill-opacity="0.408"/><path d="M1070.7 136.1C1071.2 169.6 1073.9 176.3 1073.9 200.9C1073.9 223.2 1073.4 234.4 1072.7 247.8C1072.1 234.4 1069.9 223.2 1069.9 200.9C1069.9 176.3 1070.2 169.6 1070.7 136.1Z" fill-opacity="0.164"/><path d="M1091.7 61.5L1092.9 61.5L1093.5 115.7Q1093.3 137.8 1092.3 160.0Q1091.3 137.8 1091.1 115.7Z" fill-opacity="0.286"/><path d="M1101.6 61.5L1102.8 61.5L1103.0 109.8Q1102.6 129.6 1101.4 149.3Q1100.6 129.6 1100.5 109.8Z" fill-opacity="0.340"/><path d="M1129.1 61.5L1130.6 61.5L1131.5 86.8Q1131.4 97.1 1130.4 107.5Q1129.1 97.1 1128.7 86.8Z" fill-opacity="0.374"/><path d="M1141.3 75.2C1141.6 113.8 1142.8 121.5 1142.8 149.7C1142.8 175.4 1141.7 188.2 1141.3 203.7C1140.8 188.2 1139.7 175.4 1139.7 149.7C1139.7 121.5 1140.9 113.8 1141.3 75.2Z" fill-opacity="0.271"/><path d="M1155.0 61.5L1156.2 61.5L1156.8 116.0Q1156.6 138.2 1155.6 160.5Q1154.6 138.2 1154.4 116.0Z" fill-opacity="0.530"/><path d="M1161.7 61.5L1162.3 61.5L1162.6 91.1Q1162.4 103.2 1162.0 115.3Q1161.5 103.2 1161.4 91.1Z" fill-opacity="0.170"/><path d="M1196.7 90.5C1197.2 127.3 1199.7 134.7 1199.7 161.7C1199.7 186.3 1199.3 198.6 1198.8 213.3C1198.2 198.6 1196.1 186.3 1196.1 161.7C1196.1 134.7 1196.3 127.3 1196.7 90.5Z" fill-opacity="0.295"/><path d="M1209.4 61.5L1211.0 61.5L1214.2 146.7Q1214.8 181.5 1214.5 216.3Q1212.2 181.5 1210.9 146.7Z" fill-opacity="0.408"/><path d="M1211.5 98.1C1212.0 134.1 1215.4 141.3 1215.4 167.7C1215.4 191.7 1215.4 203.7 1214.8 218.1C1214.1 203.7 1211.3 191.7 1211.3 167.7C1211.3 141.3 1210.9 134.1 1211.5 98.1Z" fill-opacity="0.287"/><path d="M1221.6 85.4C1222.0 123.9 1223.1 131.6 1223.1 159.9C1223.1 185.6 1222.1 198.4 1221.6 213.8C1221.1 198.4 1220.1 185.6 1220.1 159.9C1220.1 131.6 1221.2 123.9 1221.6 85.4Z" fill-opacity="0.180"/><path d="M1229.7 110.8C1230.0 135.9 1230.7 140.9 1230.7 159.3C1230.7 176.1 1230.0 184.5 1229.7 194.5C1229.4 184.5 1228.7 176.1 1228.7 159.3C1228.7 140.9 1229.5 135.9 1229.7 110.8Z" fill-opacity="0.123"/><path d="M1241.9 61.5L1242.9 61.5L1243.2 94.5Q1242.8 107.9 1241.9 121.4Q1241.2 107.9 1241.1 94.5Z" fill-opacity="0.272"/><path d="M1249.0 90.5C1249.5 124.0 1250.1 130.7 1250.1 155.2C1250.1 177.6 1248.3 188.7 1247.7 202.1C1247.2 188.7 1246.5 177.6 1246.5 155.2C1246.5 130.7 1248.6 124.0 1249.0 90.5Z" fill-opacity="0.574"/><path d="M1251.7 61.5L1252.5 61.5L1252.9 106.5Q1252.7 124.9 1252.1 143.2Q1251.4 124.9 1251.2 106.5Z" fill-opacity="0.204"/><path d="M1254.2 61.5L1255.0 61.5L1255.4 134.1Q1255.2 163.8 1254.6 193.5Q1253.9 163.8 1253.8 134.1Z" fill-opacity="0.238"/><path d="M1272.4 61.5L1273.4 61.5L1274.7 106.7Q1274.9 125.2 1274.4 143.8Q1273.2 125.2 1272.7 106.7Z" fill-opacity="0.272"/><path d="M1298.3 61.5L1299.7 61.5L1300.0 146.7Q1299.6 181.5 1298.3 216.3Q1297.3 181.5 1297.2 146.7Z" fill-opacity="0.442"/><path d="M1298.8 110.8C1299.2 142.6 1299.9 149.0 1299.9 172.3C1299.9 193.5 1298.3 204.1 1297.7 216.9C1297.2 204.1 1296.4 193.5 1296.4 172.3C1296.4 149.0 1298.3 142.6 1298.8 110.8Z" fill-opacity="0.262"/><path d="M1289.7 61.5L1290.5 61.5L1290.9 124.9Q1290.8 150.8 1290.1 176.8Q1289.5 150.8 1289.3 124.9Z" fill-opacity="0.190"/><path d="M1307.4 105.7C1307.7 120.8 1308.7 123.8 1308.7 134.8C1308.7 144.9 1307.8 149.9 1307.4 155.9C1307.0 149.9 1306.1 144.9 1306.1 134.8C1306.1 123.8 1307.1 120.8 1307.4 105.7Z" fill-opacity="0.164"/><path d="M1325.7 90.5C1326.0 113.1 1327.2 117.6 1327.2 134.2C1327.2 149.3 1326.1 156.8 1325.7 165.8C1325.2 156.8 1324.1 149.3 1324.1 134.2C1324.1 117.6 1325.3 113.1 1325.7 90.5Z" fill-opacity="0.287"/><path d="M1408.9 98.1C1409.3 140.8 1410.4 149.3 1410.4 180.7C1410.4 209.1 1409.4 223.4 1408.9 240.5C1408.5 223.4 1407.4 209.1 1407.4 180.7C1407.4 149.3 1408.5 140.8 1408.9 98.1Z" fill-opacity="0.312"/></g>
</g></g>
<path d="M895.5 253.5V65.5H1419M895.5 253.5H1419" fill="none" stroke="#262626" stroke-width="1.25"/>
<path d="M1027.5 253.5v-5.4M1027.5 65.5v5.4M1158.5 253.5v-5.4M1158.5 65.5v5.4M1289.5 253.5v-5.4M1289.5 65.5v5.4M895.5 251.60h5.2M895.5 191.67h5.2M895.5 149.15h5.2M895.5 116.17h5.2M895.5 89.23h5.2M895.5 66.44h5.2" stroke="#262626" stroke-width="1.25" fill="none" stroke-opacity="0.85"/>
<g clip-path="url(#c1)"><g filter="url(#jet)">
<rect x="890" y="324.5" width="540" height="195.0" fill="#000"/>
<g filter="url(#bl)" fill="#fff"><path d="M917.9 372.8C918.6 414.5 921.1 422.9 921.1 453.5C921.1 481.4 919.3 495.3 918.4 512.1C917.6 495.3 915.3 481.4 915.3 453.5C915.3 422.9 917.2 414.5 917.9 372.8Z" fill-opacity="0.048"/><path d="M940.3 454.0C941.4 470.2 944.9 473.4 944.9 485.3C944.9 496.1 941.7 501.5 940.3 508.0C938.9 501.5 935.6 496.1 935.6 485.3C935.6 473.4 939.1 470.2 940.3 454.0Z" fill-opacity="0.045"/><path d="M969.9 443.8C970.8 460.9 973.5 464.3 973.5 476.8C973.5 488.2 971.0 493.9 969.9 500.7C968.9 493.9 966.4 488.2 966.4 476.8C966.4 464.3 969.1 460.9 969.9 443.8Z" fill-opacity="0.036"/><path d="M983.4 414.9C985.1 445.6 988.1 451.7 988.8 468.6C988.8 487.0 986.5 491.6 982.6 491.6C978.8 491.6 976.9 487.0 976.9 468.6C977.6 451.7 981.1 445.6 983.4 414.9Z" fill-opacity="0.091"/><path d="M983.4 418.4C984.4 446.9 986.2 452.6 986.7 468.2C986.7 485.2 985.1 489.5 982.6 489.5C980.2 489.5 979.1 485.2 979.1 468.2C979.5 452.6 981.8 446.9 983.4 418.4Z" fill-opacity="0.138"/><path d="M983.4 424.1C983.7 448.9 984.5 453.9 984.7 467.5C984.7 482.4 983.8 486.1 982.6 486.1C981.5 486.1 981.1 482.4 981.1 467.5C981.3 453.9 982.5 448.9 983.4 424.1Z" fill-opacity="0.105"/><path d="M987.8 323.5L989.2 323.5L990.2 353.6Q990.0 365.9 989.0 378.2Q987.7 365.9 987.4 353.6Z" fill-opacity="0.075"/><path d="M991.5 352.5C992.7 378.9 996.5 384.2 996.5 403.6C996.5 421.2 993.4 430.0 992.0 440.6C990.6 430.0 987.1 421.2 987.1 403.6C987.1 384.2 990.4 378.9 991.5 352.5Z" fill-opacity="0.120"/><path d="M999.1 407.5C1001.8 436.0 1005.9 441.7 1006.8 457.4C1006.8 474.5 1004.4 478.8 999.6 478.8C994.9 478.8 992.2 474.5 992.2 457.4C993.1 441.7 996.9 436.0 999.1 407.5Z" fill-opacity="0.152"/><path d="M999.1 410.8C1000.9 437.2 1003.6 442.5 1004.1 457.0C1004.1 472.9 1002.6 476.8 999.6 476.8C996.6 476.8 994.9 472.9 994.9 457.0C995.4 442.5 997.8 437.2 999.1 410.8Z" fill-opacity="0.230"/><path d="M999.1 416.1C1000.1 439.1 1001.4 443.7 1001.7 456.4C1001.7 470.2 1001.1 473.7 999.6 473.7C998.2 473.7 997.3 470.2 997.3 456.4C997.6 443.7 998.6 439.1 999.1 416.1Z" fill-opacity="0.175"/><path d="M1009.6 323.5L1011.5 323.5L1012.4 379.0Q1012.1 401.6 1010.6 424.3Q1009.1 401.6 1008.7 379.0Z" fill-opacity="0.090"/><path d="M1008.8 402.7C1010.9 429.0 1013.8 434.3 1014.3 448.8C1014.3 464.6 1013.3 468.5 1010.6 468.5C1007.8 468.5 1005.8 464.6 1005.8 448.8C1006.3 434.3 1008.0 429.0 1008.8 402.7Z" fill-opacity="0.190"/><path d="M1008.8 405.8C1010.4 430.1 1012.4 435.0 1012.7 448.4C1012.7 463.0 1012.3 466.7 1010.6 466.7C1008.8 466.7 1007.3 463.0 1007.3 448.4C1007.6 435.0 1008.6 430.1 1008.8 405.8Z" fill-opacity="0.287"/><path d="M1008.8 410.6C1009.9 431.9 1011.2 436.1 1011.3 447.8C1011.3 460.6 1011.4 463.7 1010.6 463.7C1009.7 463.7 1008.7 460.6 1008.7 447.8C1008.9 436.1 1009.1 431.9 1008.8 410.6Z" fill-opacity="0.218"/><path d="M1013.4 418.4C1019.4 462.3 1027.6 471.1 1029.2 495.2C1029.2 521.5 1026.0 528.1 1017.7 528.1C1009.3 528.1 1003.6 521.5 1003.6 495.2C1005.1 471.1 1010.7 462.3 1013.4 418.4Z" fill-opacity="0.209"/><path d="M1013.4 423.5C1017.8 464.1 1023.5 472.3 1024.5 494.6C1024.5 519.0 1023.0 525.0 1017.7 525.0C1012.4 525.0 1008.2 519.0 1008.2 494.6C1009.2 472.3 1012.3 464.1 1013.4 423.5Z" fill-opacity="0.316"/><path d="M1013.4 431.6C1016.4 467.1 1019.8 474.1 1020.3 493.6C1020.3 514.9 1020.2 520.2 1017.7 520.2C1015.1 520.2 1012.5 514.9 1012.5 493.6C1013.0 474.1 1013.8 467.1 1013.4 431.6Z" fill-opacity="0.240"/><path d="M1015.4 443.2C1018.2 470.6 1022.1 476.1 1022.9 491.2C1022.9 507.6 1021.1 511.7 1016.9 511.7C1012.7 511.7 1010.0 507.6 1010.0 491.2C1010.8 476.1 1013.8 470.6 1015.4 443.2Z" fill-opacity="0.228"/><path d="M1015.4 446.4C1017.4 471.7 1020.0 476.8 1020.5 490.8C1020.5 506.0 1019.6 509.8 1016.9 509.8C1014.3 509.8 1012.4 506.0 1012.4 490.8C1012.9 476.8 1014.6 471.7 1015.4 446.4Z" fill-opacity="0.345"/><path d="M1015.4 451.4C1016.6 473.6 1018.2 478.0 1018.4 490.2C1018.4 503.5 1018.2 506.8 1016.9 506.8C1015.6 506.8 1014.5 503.5 1014.5 490.2C1014.7 478.0 1015.3 473.6 1015.4 451.4Z" fill-opacity="0.262"/><path d="M1015.6 385.5C1016.8 407.6 1020.6 412.1 1020.6 428.3C1020.6 443.1 1017.5 450.5 1016.1 459.4C1014.7 450.5 1011.3 443.1 1011.3 428.3C1011.3 412.1 1014.5 407.6 1015.6 385.5Z" fill-opacity="0.126"/><path d="M1023.2 332.2C1024.3 370.5 1027.3 378.2 1027.3 406.3C1027.3 431.9 1024.5 444.7 1023.2 460.1C1022.0 444.7 1019.2 431.9 1019.2 406.3C1019.2 378.2 1022.2 370.5 1023.2 332.2Z" fill-opacity="0.099"/><path d="M1034.5 323.5L1037.3 323.5L1039.2 364.9Q1038.8 381.8 1036.7 398.8Q1034.3 381.8 1033.6 364.9Z" fill-opacity="0.120"/><path d="M1038.5 376.4C1040.3 410.4 1042.7 417.2 1043.2 435.9C1043.2 456.3 1042.2 461.4 1039.7 461.4C1037.2 461.4 1035.5 456.3 1035.5 435.9C1036.0 417.2 1037.7 410.4 1038.5 376.4Z" fill-opacity="0.285"/><path d="M1038.5 380.4C1039.8 411.8 1041.5 418.1 1041.8 435.5C1041.8 454.3 1041.3 459.1 1039.7 459.1C1038.2 459.1 1036.9 454.3 1036.9 435.5C1037.2 418.1 1038.2 411.8 1038.5 380.4Z" fill-opacity="0.431"/><path d="M1038.5 386.7C1039.4 414.1 1040.4 419.6 1040.5 434.7C1040.5 451.2 1040.5 455.3 1039.7 455.3C1039.0 455.3 1038.2 451.2 1038.2 434.7C1038.3 419.6 1038.6 414.1 1038.5 386.7Z" fill-opacity="0.328"/><path d="M1040.3 431.9C1045.9 469.2 1053.2 476.6 1054.5 497.1C1054.5 519.5 1052.3 525.1 1045.3 525.1C1038.4 525.1 1033.1 519.5 1033.1 497.1C1034.4 476.6 1038.7 469.2 1040.3 431.9Z" fill-opacity="0.182"/><path d="M1040.3 436.2C1044.6 470.7 1049.8 477.6 1050.6 496.6C1050.6 517.3 1049.7 522.5 1045.3 522.5C1040.9 522.5 1037.0 517.3 1037.0 496.6C1037.8 477.6 1040.0 470.7 1040.3 436.2Z" fill-opacity="0.276"/><path d="M1040.3 443.1C1043.4 473.2 1046.7 479.2 1047.0 495.8C1047.0 513.9 1047.4 518.4 1045.3 518.4C1043.2 518.4 1040.6 513.9 1040.6 495.8C1041.0 479.2 1041.2 473.2 1040.3 443.1Z" fill-opacity="0.210"/><path d="M1041.8 451.7C1044.2 471.4 1047.3 475.4 1047.8 486.2C1047.8 498.1 1047.1 501.0 1044.3 501.0C1041.5 501.0 1039.3 498.1 1039.3 486.2C1039.8 475.4 1041.3 471.4 1041.8 451.7Z" fill-opacity="0.083"/><path d="M1041.8 454.0C1043.7 472.3 1045.9 475.9 1046.3 486.0C1046.3 496.9 1046.1 499.7 1044.3 499.7C1042.5 499.7 1040.8 496.9 1040.8 486.0C1041.2 475.9 1041.9 472.3 1041.8 454.0Z" fill-opacity="0.127"/><path d="M1041.8 457.6C1043.2 473.6 1044.7 476.8 1044.8 485.5C1044.8 495.1 1045.2 497.5 1044.3 497.5C1043.5 497.5 1042.3 495.1 1042.3 485.5C1042.4 476.8 1042.4 473.6 1041.8 457.6Z" fill-opacity="0.096"/><path d="M1040.6 323.5L1043.9 323.5L1046.0 394.6Q1045.5 423.7 1043.0 452.8Q1040.3 423.7 1039.4 394.6Z" fill-opacity="0.126"/><path d="M1050.4 360.1C1051.1 378.0 1053.0 381.6 1053.0 394.7C1053.0 406.6 1050.8 412.6 1049.9 419.8C1049.0 412.6 1047.2 406.6 1047.2 394.7C1047.2 381.6 1049.7 378.0 1050.4 360.1Z" fill-opacity="0.075"/><path d="M1063.9 443.8C1065.0 465.1 1068.5 469.4 1068.5 485.0C1068.5 499.3 1065.3 506.4 1063.9 514.9C1062.5 506.4 1059.2 499.3 1059.2 485.0C1059.2 469.4 1062.7 465.1 1063.9 443.8Z" fill-opacity="0.042"/><path d="M1072.7 393.1C1073.3 429.7 1075.1 437.1 1075.1 464.0C1075.1 488.4 1073.4 500.6 1072.7 515.3C1072.0 500.6 1070.4 488.4 1070.4 464.0C1070.4 437.1 1072.2 429.7 1072.7 393.1Z" fill-opacity="0.042"/><path d="M1082.1 371.2C1084.0 428.3 1087.0 439.7 1087.8 471.0C1087.8 505.2 1085.5 513.8 1081.6 513.8C1077.7 513.8 1075.8 505.2 1075.8 471.0C1076.5 439.7 1079.9 428.3 1082.1 371.2Z" fill-opacity="0.171"/><path d="M1082.1 377.8C1083.2 430.6 1085.1 441.2 1085.6 470.2C1085.6 501.9 1084.1 509.8 1081.6 509.8C1079.2 509.8 1078.0 501.9 1078.0 470.2C1078.4 441.2 1080.6 430.6 1082.1 377.8Z" fill-opacity="0.259"/><path d="M1082.1 388.4C1082.5 434.4 1083.4 443.6 1083.6 469.0C1083.6 496.6 1082.8 503.5 1081.6 503.5C1080.4 503.5 1080.0 496.6 1080.0 469.0C1080.2 443.6 1081.3 434.4 1082.1 388.4Z" fill-opacity="0.197"/><path d="M1090.5 337.2C1091.5 365.4 1095.0 371.0 1095.0 391.6C1095.0 410.4 1092.5 419.8 1091.3 431.0C1090.0 419.8 1086.9 410.4 1086.9 391.6C1086.9 371.0 1089.5 365.4 1090.5 337.2Z" fill-opacity="0.120"/><path d="M1095.1 402.5C1101.3 452.9 1109.6 463.0 1111.1 490.7C1111.1 521.0 1108.0 528.5 1099.6 528.5C1091.3 528.5 1085.5 521.0 1085.5 490.7C1087.0 463.0 1092.5 452.9 1095.1 402.5Z" fill-opacity="0.171"/><path d="M1095.1 408.3C1099.7 455.0 1105.5 464.3 1106.4 490.0C1106.4 518.0 1104.9 525.0 1099.6 525.0C1094.3 525.0 1090.1 518.0 1090.1 490.0C1091.1 464.3 1094.1 455.0 1095.1 408.3Z" fill-opacity="0.259"/><path d="M1095.1 417.6C1098.2 458.4 1101.7 466.5 1102.2 488.9C1102.2 513.3 1102.2 519.4 1099.6 519.4C1097.1 519.4 1094.4 513.3 1094.4 488.9C1094.9 466.5 1095.6 458.4 1095.1 417.6Z" fill-opacity="0.197"/><path d="M1096.9 451.2C1099.9 475.3 1103.9 480.1 1104.6 493.4C1104.6 507.9 1103.3 511.5 1099.4 511.5C1095.5 511.5 1092.6 507.9 1092.6 493.4C1093.4 480.1 1095.8 475.3 1096.9 451.2Z" fill-opacity="0.083"/><path d="M1096.9 454.0C1099.2 476.3 1102.0 480.8 1102.4 493.1C1102.4 506.5 1101.9 509.8 1099.4 509.8C1096.9 509.8 1094.8 506.5 1094.8 493.1C1095.3 480.8 1096.6 476.3 1096.9 454.0Z" fill-opacity="0.127"/><path d="M1096.9 458.4C1098.5 477.9 1100.2 481.8 1100.4 492.5C1100.4 504.2 1100.6 507.1 1099.4 507.1C1098.2 507.1 1096.8 504.2 1096.8 492.5C1097.0 481.8 1097.3 477.9 1096.9 458.4Z" fill-opacity="0.096"/><path d="M1103.2 337.2C1103.8 373.0 1105.8 380.2 1105.8 406.5C1105.8 430.4 1104.4 442.3 1103.7 456.6C1103.0 442.3 1101.2 430.4 1101.2 406.5C1101.2 380.2 1102.6 373.0 1103.2 337.2Z" fill-opacity="0.084"/><path d="M1107.3 337.2C1107.8 376.5 1109.6 384.3 1109.6 413.1C1109.6 439.2 1108.0 452.3 1107.3 468.0C1106.6 452.3 1104.9 439.2 1104.9 413.1C1104.9 384.3 1106.7 376.5 1107.3 337.2Z" fill-opacity="0.084"/><path d="M1113.4 376.8C1114.9 407.5 1117.1 413.7 1117.5 430.5C1117.5 449.0 1116.4 453.6 1113.9 453.6C1111.4 453.6 1109.9 449.0 1109.9 430.5C1110.3 413.7 1112.2 407.5 1113.4 376.8Z" fill-opacity="0.152"/><path d="M1113.4 380.4C1114.4 408.8 1115.9 414.5 1116.2 430.1C1116.2 447.2 1115.4 451.4 1113.9 451.4C1112.3 451.4 1111.3 447.2 1111.3 430.1C1111.6 414.5 1112.7 408.8 1113.4 380.4Z" fill-opacity="0.230"/><path d="M1113.4 386.1C1113.9 410.8 1114.7 415.8 1114.9 429.4C1114.9 444.3 1114.6 448.0 1113.9 448.0C1113.1 448.0 1112.5 444.3 1112.5 429.4C1112.7 415.8 1113.2 410.8 1113.4 386.1Z" fill-opacity="0.175"/><path d="M1124.8 385.5C1125.4 416.2 1127.1 422.3 1127.1 444.8C1127.1 465.3 1125.5 475.5 1124.8 487.8C1124.1 475.5 1122.4 465.3 1122.4 444.8C1122.4 422.3 1124.2 416.2 1124.8 385.5Z" fill-opacity="0.060"/><path d="M1129.2 323.5L1131.5 323.5L1133.1 391.5Q1132.8 419.3 1131.1 447.1Q1129.1 419.3 1128.4 391.5Z" fill-opacity="0.120"/><path d="M1132.4 414.9C1134.4 445.6 1137.4 451.7 1138.0 468.6C1138.0 487.0 1136.5 491.6 1133.1 491.6C1129.8 491.6 1127.8 487.0 1127.8 468.6C1128.4 451.7 1130.9 445.6 1132.4 414.9Z" fill-opacity="0.228"/><path d="M1132.4 418.4C1133.8 446.9 1135.8 452.6 1136.2 468.2C1136.2 485.2 1135.3 489.5 1133.1 489.5C1131.0 489.5 1129.7 485.2 1129.7 468.2C1130.0 452.6 1131.6 446.9 1132.4 418.4Z" fill-opacity="0.345"/><path d="M1132.4 424.1C1133.2 448.9 1134.3 453.9 1134.5 467.5C1134.5 482.4 1134.2 486.1 1133.1 486.1C1132.1 486.1 1131.4 482.4 1131.4 467.5C1131.6 453.9 1132.2 448.9 1132.4 424.1Z" fill-opacity="0.262"/><path d="M1133.1 439.9C1135.9 473.9 1141.4 480.7 1142.8 499.4C1142.8 519.8 1137.6 524.9 1129.8 524.9C1122.1 524.9 1118.9 519.8 1118.9 499.4C1120.3 480.7 1127.8 473.9 1133.1 439.9Z" fill-opacity="0.159"/><path d="M1133.1 443.8C1134.4 475.3 1137.5 481.6 1138.4 498.9C1138.4 517.8 1134.8 522.5 1129.8 522.5C1124.9 522.5 1123.2 517.8 1123.2 498.9C1124.1 481.6 1129.2 475.3 1133.1 443.8Z" fill-opacity="0.241"/><path d="M1133.1 450.1C1133.1 477.6 1134.0 483.1 1134.5 498.1C1134.5 514.6 1132.2 518.7 1129.8 518.7C1127.5 518.7 1127.2 514.6 1127.2 498.1C1127.6 483.1 1130.6 477.6 1133.1 450.1Z" fill-opacity="0.184"/><path d="M1141.4 323.5L1143.7 323.5L1144.9 386.8Q1144.4 412.7 1142.5 438.5Q1140.7 412.7 1140.2 386.8Z" fill-opacity="0.090"/><path d="M1147.6 371.0C1151.8 430.2 1157.0 442.0 1158.0 474.6C1158.0 510.1 1156.4 519.0 1151.4 519.0C1146.4 519.0 1142.6 510.1 1142.6 474.6C1143.5 442.0 1146.5 430.2 1147.6 371.0Z" fill-opacity="0.144"/><path d="M1147.6 377.8C1150.8 432.7 1154.6 443.6 1155.2 473.8C1155.2 506.7 1154.6 514.9 1151.4 514.9C1148.2 514.9 1145.4 506.7 1145.4 473.8C1146.0 443.6 1147.5 432.7 1147.6 377.8Z" fill-opacity="0.218"/><path d="M1147.6 388.8C1149.9 436.6 1152.3 446.2 1152.6 472.5C1152.6 501.1 1152.9 508.3 1151.4 508.3C1149.9 508.3 1147.9 501.1 1147.9 472.5C1148.2 446.2 1148.3 436.6 1147.6 388.8Z" fill-opacity="0.166"/><path d="M1155.6 323.5L1157.4 323.5L1158.4 369.2Q1158.0 388.0 1156.5 406.7Q1155.0 388.0 1154.6 369.2Z" fill-opacity="0.090"/><path d="M1154.2 323.5L1157.0 323.5L1158.4 402.4Q1157.9 434.7 1155.6 467.0Q1153.4 434.7 1152.8 402.4Z" fill-opacity="0.105"/><path d="M1167.0 372.8C1167.9 400.9 1170.5 406.5 1170.5 427.2C1170.5 445.9 1168.1 455.3 1167.0 466.6C1166.0 455.3 1163.5 445.9 1163.5 427.2C1163.5 406.5 1166.2 400.9 1167.0 372.8Z" fill-opacity="0.084"/><path d="M1172.9 430.2C1175.0 459.9 1178.1 465.8 1178.7 482.1C1178.7 499.8 1177.2 504.3 1173.9 504.3C1170.6 504.3 1168.5 499.8 1168.5 482.1C1169.1 465.8 1171.5 459.9 1172.9 430.2Z" fill-opacity="0.137"/><path d="M1172.9 433.7C1174.4 461.1 1176.5 466.6 1176.8 481.6C1176.8 498.1 1176.0 502.2 1173.9 502.2C1171.8 502.2 1170.3 498.1 1170.3 481.6C1170.7 466.6 1172.2 461.1 1172.9 433.7Z" fill-opacity="0.207"/><path d="M1172.9 439.2C1173.8 463.1 1175.0 467.8 1175.1 481.0C1175.1 495.3 1174.9 498.9 1173.9 498.9C1172.9 498.9 1172.0 495.3 1172.0 481.0C1172.2 467.8 1172.8 463.1 1172.9 439.2Z" fill-opacity="0.157"/><path d="M1187.3 392.7C1188.8 439.8 1191.1 449.3 1191.6 475.2C1191.6 503.5 1190.1 510.6 1187.3 510.6C1184.6 510.6 1183.1 503.5 1183.1 475.2C1183.6 449.3 1185.9 439.8 1187.3 392.7Z" fill-opacity="0.182"/><path d="M1187.3 398.1C1188.3 441.8 1189.7 450.5 1190.1 474.5C1190.1 500.7 1189.1 507.3 1187.3 507.3C1185.6 507.3 1184.6 500.7 1184.6 474.5C1184.9 450.5 1186.4 441.8 1187.3 398.1Z" fill-opacity="0.276"/><path d="M1187.3 406.9C1187.8 444.9 1188.5 452.6 1188.6 473.5C1188.6 496.3 1188.2 502.0 1187.3 502.0C1186.5 502.0 1186.0 496.3 1186.0 473.5C1186.2 452.6 1186.9 444.9 1187.3 406.9Z" fill-opacity="0.210"/><path d="M1211.5 372.8C1212.2 399.2 1214.4 404.5 1214.4 423.9C1214.4 441.5 1212.3 450.3 1211.5 460.9C1210.6 450.3 1208.5 441.5 1208.5 423.9C1208.5 404.5 1210.7 399.2 1211.5 372.8Z" fill-opacity="0.072"/><path d="M1216.0 423.5C1217.2 442.3 1220.4 446.0 1220.4 459.8C1220.4 472.3 1216.9 478.6 1215.5 486.1C1214.1 478.6 1211.1 472.3 1211.1 459.8C1211.1 446.0 1214.9 442.3 1216.0 423.5Z" fill-opacity="0.105"/><path d="M1221.6 405.1C1225.5 454.5 1232.0 464.3 1233.5 491.5C1233.5 521.1 1228.7 528.5 1220.3 528.5C1212.0 528.5 1207.9 521.1 1207.9 491.5C1209.4 464.3 1216.7 454.5 1221.6 405.1Z" fill-opacity="0.220"/><path d="M1221.6 410.8C1223.9 456.5 1227.9 465.7 1228.9 490.8C1228.9 518.2 1225.6 525.0 1220.3 525.0C1215.0 525.0 1212.6 518.2 1212.6 490.8C1213.5 465.7 1218.3 456.5 1221.6 410.8Z" fill-opacity="0.333"/><path d="M1221.6 420.0C1222.4 459.8 1224.1 467.8 1224.6 489.7C1224.6 513.6 1222.9 519.6 1220.3 519.6C1217.8 519.6 1216.8 513.6 1216.8 489.7C1217.3 467.8 1219.8 459.8 1221.6 420.0Z" fill-opacity="0.253"/><path d="M1221.6 445.4C1223.4 476.1 1226.7 482.2 1227.6 499.1C1227.6 517.5 1224.8 522.1 1220.3 522.1C1215.9 522.1 1213.9 517.5 1213.9 499.1C1214.7 482.2 1218.8 476.1 1221.6 445.4Z" fill-opacity="0.228"/><path d="M1221.6 448.9C1222.6 477.3 1224.5 483.0 1225.1 498.6C1225.1 515.7 1223.2 520.0 1220.3 520.0C1217.5 520.0 1216.4 515.7 1216.4 498.6C1216.9 483.0 1219.6 477.3 1221.6 448.9Z" fill-opacity="0.345"/><path d="M1221.6 454.6C1221.8 479.4 1222.5 484.3 1222.8 498.0C1222.8 512.8 1221.7 516.6 1220.3 516.6C1219.0 516.6 1218.6 512.8 1218.6 498.0C1218.9 484.3 1220.4 479.4 1221.6 454.6Z" fill-opacity="0.262"/><path d="M1240.6 321.2C1242.2 371.7 1244.8 381.8 1245.3 409.5C1245.3 439.8 1243.7 447.3 1240.6 447.3C1237.6 447.3 1235.9 439.8 1235.9 409.5C1236.5 381.8 1239.0 371.7 1240.6 321.2Z" fill-opacity="0.209"/><path d="M1240.6 327.1C1241.7 373.8 1243.3 383.1 1243.6 408.8C1243.6 436.8 1242.6 443.8 1240.6 443.8C1238.7 443.8 1237.6 436.8 1237.6 408.8C1238.0 383.1 1239.6 373.8 1240.6 327.1Z" fill-opacity="0.316"/><path d="M1240.6 336.4C1241.1 377.1 1241.9 385.3 1242.1 407.7C1242.1 432.1 1241.6 438.2 1240.6 438.2C1239.7 438.2 1239.2 432.1 1239.2 407.7C1239.4 385.3 1240.2 377.1 1240.6 336.4Z" fill-opacity="0.240"/><path d="M1237.3 418.4C1240.6 462.3 1245.2 471.1 1246.1 495.2C1246.1 521.5 1243.9 528.1 1238.9 528.1C1233.9 528.1 1230.7 521.5 1230.7 495.2C1231.6 471.1 1235.3 462.3 1237.3 418.4Z" fill-opacity="0.209"/><path d="M1237.3 423.5C1239.6 464.1 1242.7 472.3 1243.3 494.6C1243.3 519.0 1242.0 525.0 1238.9 525.0C1235.7 525.0 1233.5 519.0 1233.5 494.6C1234.1 472.3 1236.3 464.1 1237.3 423.5Z" fill-opacity="0.316"/><path d="M1237.3 431.6C1238.7 467.1 1240.5 474.1 1240.7 493.6C1240.7 514.9 1240.4 520.2 1238.9 520.2C1237.3 520.2 1236.1 514.9 1236.1 493.6C1236.4 474.1 1237.2 467.1 1237.3 431.6Z" fill-opacity="0.240"/><path d="M1236.8 441.3C1238.0 460.9 1241.8 464.8 1241.8 479.2C1241.8 492.3 1238.7 498.8 1237.3 506.7C1235.9 498.8 1232.5 492.3 1232.5 479.2C1232.5 464.8 1235.7 460.9 1236.8 441.3Z" fill-opacity="0.120"/><path d="M1247.6 323.5L1249.9 323.5L1251.1 368.0Q1250.6 386.2 1248.8 404.4Q1246.9 386.2 1246.4 368.0Z" fill-opacity="0.126"/><path d="M1254.1 395.2C1255.8 420.4 1258.6 425.5 1259.2 439.4C1259.2 454.5 1257.4 458.3 1254.1 458.3C1250.8 458.3 1249.0 454.5 1249.0 439.4C1249.6 425.5 1252.3 420.4 1254.1 395.2Z" fill-opacity="0.152"/><path d="M1254.1 398.1C1255.2 421.5 1257.0 426.2 1257.4 439.0C1257.4 453.0 1256.2 456.5 1254.1 456.5C1252.0 456.5 1250.8 453.0 1250.8 439.0C1251.2 426.2 1253.0 421.5 1254.1 398.1Z" fill-opacity="0.230"/><path d="M1254.1 402.8C1254.6 423.2 1255.5 427.2 1255.6 438.4C1255.6 450.7 1255.1 453.7 1254.1 453.7C1253.1 453.7 1252.5 450.7 1252.5 438.4C1252.7 427.2 1253.6 423.2 1254.1 402.8Z" fill-opacity="0.175"/><path d="M1272.9 380.4C1274.0 412.8 1278.7 419.3 1278.7 443.0C1278.7 464.6 1276.3 475.4 1274.9 488.4C1273.5 475.4 1269.4 464.6 1269.4 443.0C1269.4 419.3 1271.7 412.8 1272.9 380.4Z" fill-opacity="0.108"/><path d="M1278.7 440.9C1280.9 466.1 1283.7 471.2 1284.2 485.0C1284.2 500.2 1283.3 504.0 1280.5 504.0C1277.7 504.0 1275.7 500.2 1275.7 485.0C1276.2 471.2 1278.0 466.1 1278.7 440.9Z" fill-opacity="0.106"/><path d="M1278.7 443.8C1280.3 467.2 1282.3 471.8 1282.7 484.7C1282.7 498.7 1282.3 502.2 1280.5 502.2C1278.7 502.2 1277.2 498.7 1277.2 484.7C1277.6 471.8 1278.5 467.2 1278.7 443.8Z" fill-opacity="0.161"/><path d="M1278.7 448.5C1279.9 468.9 1281.1 472.9 1281.2 484.1C1281.2 496.3 1281.3 499.4 1280.5 499.4C1279.6 499.4 1278.7 496.3 1278.7 484.1C1278.8 472.9 1279.0 468.9 1278.7 448.5Z" fill-opacity="0.122"/><path d="M1277.2 323.5L1278.6 323.5L1279.4 369.2Q1279.1 388.0 1277.9 406.7Q1276.8 388.0 1276.5 369.2Z" fill-opacity="0.060"/><path d="M1281.8 323.5L1283.2 323.5L1283.9 372.4Q1283.6 392.4 1282.5 412.4Q1281.4 392.4 1281.1 372.4Z" fill-opacity="0.060"/><path d="M1289.4 323.5L1290.8 323.5L1291.5 391.1Q1291.3 418.8 1290.1 446.5Q1289.0 418.8 1288.7 391.1Z" fill-opacity="0.060"/><path d="M1291.4 432.3C1293.5 466.3 1296.6 473.1 1297.3 491.8C1297.3 512.2 1295.5 517.3 1291.9 517.3C1288.3 517.3 1286.2 512.2 1286.2 491.8C1286.9 473.1 1289.7 466.3 1291.4 432.3Z" fill-opacity="0.171"/><path d="M1291.4 436.2C1292.8 467.7 1294.9 474.0 1295.3 491.3C1295.3 510.2 1294.2 514.9 1291.9 514.9C1289.6 514.9 1288.2 510.2 1288.2 491.3C1288.6 474.0 1290.4 467.7 1291.4 436.2Z" fill-opacity="0.259"/><path d="M1291.4 442.5C1292.2 470.0 1293.2 475.4 1293.4 490.5C1293.4 507.0 1293.0 511.1 1291.9 511.1C1290.8 511.1 1290.1 507.0 1290.1 490.5C1290.3 475.4 1291.0 470.0 1291.4 442.5Z" fill-opacity="0.197"/><path d="M1297.8 323.5L1300.2 323.5L1301.6 389.9Q1301.3 417.1 1299.5 444.2Q1297.5 417.1 1297.0 389.9Z" fill-opacity="0.126"/><path d="M1305.4 436.2C1306.1 451.6 1308.3 454.6 1308.3 465.9C1308.3 476.1 1306.2 481.2 1305.4 487.4C1304.5 481.2 1302.4 476.1 1302.4 465.9C1302.4 454.6 1304.6 451.6 1305.4 436.2Z" fill-opacity="0.060"/><path d="M1316.8 464.1C1317.8 476.9 1320.9 479.5 1320.9 488.9C1320.9 497.4 1318.0 501.7 1316.8 506.8C1315.6 501.7 1312.7 497.4 1312.7 488.9C1312.7 479.5 1315.8 476.9 1316.8 464.1Z" fill-opacity="0.054"/><path d="M1344.7 436.2C1345.1 448.2 1346.5 450.5 1346.5 459.3C1346.5 467.3 1345.2 471.2 1344.7 476.0C1344.2 471.2 1342.9 467.3 1342.9 459.3C1342.9 450.5 1344.3 448.2 1344.7 436.2Z" fill-opacity="0.030"/><path d="M1372.6 448.9C1373.8 462.5 1377.3 465.3 1377.3 475.3C1377.3 484.4 1374.0 488.9 1372.6 494.4C1371.2 488.9 1367.9 484.4 1367.9 475.3C1367.9 465.3 1371.5 462.5 1372.6 448.9Z" fill-opacity="0.060"/><path d="M1382.0 451.6C1384.1 472.4 1386.8 476.6 1387.3 488.0C1387.3 500.5 1386.3 503.6 1383.5 503.6C1380.8 503.6 1378.8 500.5 1378.8 488.0C1379.3 476.6 1381.2 472.4 1382.0 451.6Z" fill-opacity="0.095"/><path d="M1382.0 454.0C1383.5 473.3 1385.5 477.1 1385.8 487.7C1385.8 499.3 1385.3 502.2 1383.5 502.2C1381.8 502.2 1380.4 499.3 1380.4 487.7C1380.7 477.1 1381.7 473.3 1382.0 454.0Z" fill-opacity="0.144"/><path d="M1382.0 457.8C1383.1 474.7 1384.2 478.0 1384.4 487.3C1384.4 497.4 1384.4 499.9 1383.5 499.9C1382.7 499.9 1381.8 497.4 1381.8 487.3C1381.9 478.0 1382.2 474.7 1382.0 457.8Z" fill-opacity="0.109"/><path d="M1395.5 404.2C1397.9 439.3 1401.0 446.3 1401.5 465.6C1401.5 486.7 1400.8 491.9 1398.0 491.9C1395.2 491.9 1393.0 486.7 1393.0 465.6C1393.5 446.3 1395.0 439.3 1395.5 404.2Z" fill-opacity="0.144"/><path d="M1395.5 408.3C1397.4 440.8 1399.6 447.3 1400.0 465.1C1400.0 484.6 1399.8 489.5 1398.0 489.5C1396.2 489.5 1394.5 484.6 1394.5 465.1C1394.8 447.3 1395.6 440.8 1395.5 408.3Z" fill-opacity="0.218"/><path d="M1395.5 414.8C1396.9 443.1 1398.4 448.8 1398.5 464.4C1398.5 481.4 1398.8 485.6 1398.0 485.6C1397.2 485.6 1395.9 481.4 1395.9 464.4C1396.1 448.8 1396.0 443.1 1395.5 414.8Z" fill-opacity="0.166"/><path d="M1401.3 400.7C1402.0 426.3 1404.2 431.4 1404.2 450.1C1404.2 467.2 1402.2 475.7 1401.3 486.0C1400.4 475.7 1398.4 467.2 1398.4 450.1C1398.4 431.4 1400.6 426.3 1401.3 400.7Z" fill-opacity="0.099"/><path d="M1408.2 403.0C1409.2 449.0 1411.6 458.2 1412.4 483.6C1412.4 511.2 1409.5 518.1 1405.6 518.1C1401.7 518.1 1400.4 511.2 1400.4 483.6C1401.1 458.2 1405.1 449.0 1408.2 403.0Z" fill-opacity="0.171"/><path d="M1408.2 408.3C1408.4 450.9 1409.7 459.5 1410.2 482.9C1410.2 508.5 1408.1 514.9 1405.6 514.9C1403.1 514.9 1402.6 508.5 1402.6 482.9C1403.0 459.5 1405.8 450.9 1408.2 408.3Z" fill-opacity="0.259"/><path d="M1408.2 416.8C1407.8 454.0 1408.0 461.4 1408.2 481.9C1408.2 504.2 1406.8 509.8 1405.6 509.8C1404.4 509.8 1404.6 504.2 1404.6 481.9C1404.8 461.4 1406.5 454.0 1408.2 416.8Z" fill-opacity="0.197"/></g>
<g filter="url(#bl2)" fill="#fff"><path d="M917.9 372.8C918.2 413.8 919.5 422.0 919.5 452.1C919.5 479.5 918.8 493.1 918.4 509.6C918.0 493.1 916.9 479.5 916.9 452.1C916.9 422.0 917.6 413.8 917.9 372.8Z" fill-opacity="0.131"/><path d="M940.3 454.0C940.8 469.9 942.3 473.1 942.3 484.7C942.3 495.4 940.9 500.7 940.3 507.0C939.6 500.7 938.2 495.4 938.2 484.7C938.2 473.1 939.7 469.9 940.3 454.0Z" fill-opacity="0.123"/><path d="M969.9 443.8C970.3 460.6 971.5 463.9 971.5 476.2C971.5 487.4 970.4 493.0 969.9 499.7C969.5 493.0 968.4 487.4 968.4 476.2C968.4 463.9 969.6 460.6 969.9 443.8Z" fill-opacity="0.098"/><path d="M988.2 323.5L988.8 323.5L989.4 353.1Q989.4 365.2 989.0 377.3Q988.4 365.2 988.1 353.1Z" fill-opacity="0.170"/><path d="M991.5 352.5C992.0 378.4 993.8 383.6 993.8 402.7C993.8 420.0 992.6 428.6 992.0 439.0C991.4 428.6 989.8 420.0 989.8 402.7C989.8 383.6 991.0 378.4 991.5 352.5Z" fill-opacity="0.328"/><path d="M1010.2 323.5L1011.0 323.5L1011.4 378.0Q1011.2 400.2 1010.6 422.5Q1009.9 400.2 1009.7 378.0Z" fill-opacity="0.204"/><path d="M1015.6 385.5C1016.1 407.2 1018.0 411.6 1018.0 427.6C1018.0 442.1 1016.8 449.3 1016.1 458.0C1015.5 449.3 1013.9 442.1 1013.9 427.6C1013.9 411.6 1015.1 407.2 1015.6 385.5Z" fill-opacity="0.344"/><path d="M1023.2 332.2C1023.7 369.8 1025.0 377.4 1025.0 405.0C1025.0 430.1 1023.8 442.7 1023.2 457.8C1022.7 442.7 1021.5 430.1 1021.5 405.0C1021.5 377.4 1022.8 369.8 1023.2 332.2Z" fill-opacity="0.271"/><path d="M1035.3 323.5L1036.5 323.5L1037.6 364.1Q1037.5 380.8 1036.7 397.4Q1035.6 380.8 1035.1 364.1Z" fill-opacity="0.272"/><path d="M1041.6 323.5L1043.0 323.5L1044.1 393.3Q1044.0 421.9 1043.0 450.4Q1041.7 421.9 1041.3 393.3Z" fill-opacity="0.286"/><path d="M1050.4 360.1C1050.7 377.7 1051.4 381.2 1051.4 394.1C1051.4 405.8 1050.3 411.7 1049.9 418.7C1049.5 411.7 1048.8 405.8 1048.8 394.1C1048.8 381.2 1050.1 377.7 1050.4 360.1Z" fill-opacity="0.205"/><path d="M1063.9 443.8C1064.4 464.8 1065.9 469.0 1065.9 484.3C1065.9 498.3 1064.5 505.2 1063.9 513.6C1063.2 505.2 1061.8 498.3 1061.8 484.3C1061.8 469.0 1063.4 464.8 1063.9 443.8Z" fill-opacity="0.115"/><path d="M1072.7 393.1C1073.0 429.1 1073.8 436.3 1073.8 462.7C1073.8 486.7 1073.0 498.7 1072.7 513.1C1072.4 498.7 1071.7 486.7 1071.7 462.7C1071.7 436.3 1072.5 429.1 1072.7 393.1Z" fill-opacity="0.115"/><path d="M1090.5 337.2C1091.0 364.9 1092.7 370.4 1092.7 390.7C1092.7 409.1 1091.8 418.3 1091.3 429.4C1090.7 418.3 1089.2 409.1 1089.2 390.7C1089.2 370.4 1090.1 364.9 1090.5 337.2Z" fill-opacity="0.328"/><path d="M1103.2 337.2C1103.5 372.4 1104.5 379.4 1104.5 405.2C1104.5 428.7 1104.0 440.4 1103.7 454.5C1103.4 440.4 1102.5 428.7 1102.5 405.2C1102.5 379.4 1102.9 372.4 1103.2 337.2Z" fill-opacity="0.230"/><path d="M1107.3 337.2C1107.5 375.8 1108.3 383.5 1108.3 411.7C1108.3 437.4 1107.6 450.2 1107.3 465.7C1107.0 450.2 1106.2 437.4 1106.2 411.7C1106.2 383.5 1107.0 375.8 1107.3 337.2Z" fill-opacity="0.230"/><path d="M1124.8 385.5C1125.0 415.6 1125.8 421.6 1125.8 443.7C1125.8 463.8 1125.1 473.9 1124.8 486.0C1124.5 473.9 1123.8 463.8 1123.8 443.7C1123.8 421.6 1124.5 415.6 1124.8 385.5Z" fill-opacity="0.164"/><path d="M1129.8 323.5L1130.9 323.5L1131.8 390.2Q1131.8 417.5 1131.1 444.8Q1130.1 417.5 1129.8 390.2Z" fill-opacity="0.272"/><path d="M1142.0 323.5L1143.0 323.5L1143.6 385.6Q1143.4 411.0 1142.5 436.5Q1141.7 411.0 1141.5 385.6Z" fill-opacity="0.204"/><path d="M1156.1 323.5L1156.9 323.5L1157.3 368.5Q1157.1 386.9 1156.5 405.2Q1155.8 386.9 1155.7 368.5Z" fill-opacity="0.204"/><path d="M1155.0 323.5L1156.2 323.5L1156.8 401.0Q1156.6 432.7 1155.6 464.4Q1154.6 432.7 1154.4 401.0Z" fill-opacity="0.238"/><path d="M1167.0 372.8C1167.4 400.4 1168.6 405.9 1168.6 426.2C1168.6 444.6 1167.5 453.8 1167.0 464.9C1166.6 453.8 1165.5 444.6 1165.5 426.2C1165.5 405.9 1166.7 400.4 1167.0 372.8Z" fill-opacity="0.230"/><path d="M1211.5 372.8C1211.8 398.7 1212.7 403.9 1212.7 423.0C1212.7 440.3 1211.8 448.9 1211.5 459.3C1211.1 448.9 1210.2 440.3 1210.2 423.0C1210.2 403.9 1211.1 398.7 1211.5 372.8Z" fill-opacity="0.197"/><path d="M1216.0 423.5C1216.5 441.9 1217.8 445.6 1217.8 459.1C1217.8 471.4 1216.1 477.6 1215.5 484.9C1214.9 477.6 1213.7 471.4 1213.7 459.1C1213.7 445.6 1215.5 441.9 1216.0 423.5Z" fill-opacity="0.287"/><path d="M1236.8 441.3C1237.3 460.6 1239.2 464.4 1239.2 478.5C1239.2 491.4 1237.9 497.8 1237.3 505.5C1236.7 497.8 1235.1 491.4 1235.1 478.5C1235.1 464.4 1236.3 460.6 1236.8 441.3Z" fill-opacity="0.328"/><path d="M1248.3 323.5L1249.3 323.5L1249.8 367.2Q1249.6 385.1 1248.8 403.0Q1247.9 385.1 1247.7 367.2Z" fill-opacity="0.286"/><path d="M1272.9 380.4C1273.4 412.2 1276.1 418.6 1276.1 441.9C1276.1 463.1 1275.5 473.7 1274.9 486.5C1274.3 473.7 1272.0 463.1 1272.0 441.9C1272.0 418.6 1272.4 412.2 1272.9 380.4Z" fill-opacity="0.295"/><path d="M1277.6 323.5L1278.3 323.5L1278.6 368.5Q1278.4 386.9 1277.9 405.2Q1277.5 386.9 1277.3 368.5Z" fill-opacity="0.136"/><path d="M1282.2 323.5L1282.8 323.5L1283.1 371.5Q1283.0 391.2 1282.5 410.8Q1282.0 391.2 1281.9 371.5Z" fill-opacity="0.136"/><path d="M1289.8 323.5L1290.4 323.5L1290.7 390.0Q1290.6 417.1 1290.1 444.3Q1289.6 417.1 1289.5 390.0Z" fill-opacity="0.136"/><path d="M1298.5 323.5L1299.5 323.5L1300.3 388.7Q1300.2 415.4 1299.5 442.1Q1298.6 415.4 1298.3 388.7Z" fill-opacity="0.286"/><path d="M1305.4 436.2C1305.7 451.3 1306.6 454.3 1306.6 465.4C1306.6 475.4 1305.7 480.4 1305.4 486.5C1305.0 480.4 1304.1 475.4 1304.1 465.4C1304.1 454.3 1305.0 451.3 1305.4 436.2Z" fill-opacity="0.164"/><path d="M1316.8 464.1C1317.2 476.7 1318.6 479.2 1318.6 488.4C1318.6 496.8 1317.3 501.0 1316.8 506.0C1316.2 501.0 1315.0 496.8 1315.0 488.4C1315.0 479.2 1316.3 476.7 1316.8 464.1Z" fill-opacity="0.148"/><path d="M1344.7 436.2C1344.9 447.9 1345.5 450.3 1345.5 458.9C1345.5 466.7 1344.9 470.6 1344.7 475.3C1344.5 470.6 1343.9 466.7 1343.9 458.9C1343.9 450.3 1344.5 447.9 1344.7 436.2Z" fill-opacity="0.082"/><path d="M1372.6 448.9C1373.1 462.3 1374.6 465.0 1374.6 474.8C1374.6 483.7 1373.2 488.2 1372.6 493.6C1372.0 488.2 1370.6 483.7 1370.6 474.8C1370.6 465.0 1372.1 462.3 1372.6 448.9Z" fill-opacity="0.164"/><path d="M1401.3 400.7C1401.6 425.8 1402.6 430.8 1402.6 449.3C1402.6 466.0 1401.7 474.4 1401.3 484.4C1400.9 474.4 1400.0 466.0 1400.0 449.3C1400.0 430.8 1401.0 425.8 1401.3 400.7Z" fill-opacity="0.271"/></g>
</g></g>
<path d="M895.5 516.5V327.5H1419M895.5 516.5H1419" fill="none" stroke="#262626" stroke-width="1.25"/>
<path d="M1027.5 516.5v-5.4M1027.5 327.5v5.4M1158.5 516.5v-5.4M1158.5 327.5v5.4M1289.5 516.5v-5.4M1289.5 327.5v5.4M895.5 514.60h5.2M895.5 454.67h5.2M895.5 412.15h5.2M895.5 379.17h5.2M895.5 352.23h5.2M895.5 329.44h5.2" stroke="#262626" stroke-width="1.25" fill="none" stroke-opacity="0.85"/>
<g clip-path="url(#c2)"><g filter="url(#jet)">
<rect x="890" y="586.5" width="540" height="194.0" fill="#000"/>
<g filter="url(#bl)" fill="#fff"><path d="M919.8 713.4C920.8 725.6 923.9 728.0 923.9 737.0C923.9 745.1 921.0 749.2 919.8 754.0C918.5 749.2 915.6 745.1 915.6 737.0C915.6 728.0 918.7 725.6 919.8 713.4Z" fill-opacity="0.033"/><path d="M934.5 705.7C935.3 726.5 937.5 730.7 937.5 746.0C937.5 759.9 935.4 766.9 934.5 775.3C933.6 766.9 931.5 759.9 931.5 746.0C931.5 730.7 933.8 726.5 934.5 705.7Z" fill-opacity="0.041"/><path d="M984.5 710.8C985.2 724.8 987.5 727.5 987.5 737.7C987.5 747.0 985.4 751.7 984.5 757.2C983.6 751.7 981.5 747.0 981.5 737.7C981.5 727.5 983.7 724.8 984.5 710.8Z" fill-opacity="0.033"/><path d="M991.5 615.1C992.2 640.3 996.4 645.3 996.4 663.8C996.4 680.6 995.7 689.1 994.8 699.1C993.9 689.1 990.5 680.6 990.5 663.8C990.5 645.3 990.7 640.3 991.5 615.1Z" fill-opacity="0.083"/><path d="M1002.6 659.1C1003.8 685.2 1007.1 690.4 1007.1 709.5C1007.1 726.9 1003.5 735.6 1002.1 746.1C1000.7 735.6 997.5 726.9 997.5 709.5C997.5 690.4 1001.4 685.2 1002.6 659.1Z" fill-opacity="0.105"/><path d="M1008.6 644.7C1011.1 679.4 1014.2 686.3 1014.7 705.4C1014.7 726.2 1014.2 731.4 1011.7 731.4C1009.1 731.4 1006.8 726.2 1006.8 705.4C1007.3 686.3 1008.5 679.4 1008.6 644.7Z" fill-opacity="0.146"/><path d="M1008.6 648.7C1010.7 680.8 1012.9 687.2 1013.2 704.9C1013.2 724.2 1013.3 729.0 1011.7 729.0C1010.0 729.0 1008.2 724.2 1008.2 704.9C1008.5 687.2 1009.0 680.8 1008.6 648.7Z" fill-opacity="0.222"/><path d="M1008.6 655.1C1010.2 683.1 1011.8 688.7 1011.9 704.1C1011.9 720.9 1012.4 725.1 1011.7 725.1C1010.9 725.1 1009.5 720.9 1009.5 704.1C1009.7 688.7 1009.4 683.1 1008.6 655.1Z" fill-opacity="0.169"/><path d="M1013.0 691.0C1018.0 728.5 1024.5 736.1 1025.6 756.7C1025.6 779.3 1023.6 784.9 1017.4 784.9C1011.1 784.9 1006.5 779.3 1006.5 756.7C1007.6 736.1 1011.5 728.5 1013.0 691.0Z" fill-opacity="0.157"/><path d="M1013.0 695.3C1016.8 730.1 1021.4 737.1 1022.1 756.2C1022.1 777.1 1021.3 782.3 1017.4 782.3C1013.4 782.3 1009.9 777.1 1009.9 756.2C1010.7 737.1 1012.6 730.1 1013.0 695.3Z" fill-opacity="0.238"/><path d="M1013.0 702.3C1015.7 732.6 1018.6 738.7 1018.9 755.4C1018.9 773.6 1019.3 778.1 1017.4 778.1C1015.5 778.1 1013.1 773.6 1013.1 755.4C1013.5 738.7 1013.7 732.6 1013.0 702.3Z" fill-opacity="0.181"/><path d="M1014.3 716.3C1016.6 736.4 1019.5 740.4 1020.1 751.5C1020.1 763.6 1019.2 766.6 1016.3 766.6C1013.5 766.6 1011.3 763.6 1011.3 751.5C1011.9 740.4 1013.6 736.4 1014.3 716.3Z" fill-opacity="0.077"/><path d="M1014.3 718.6C1016.0 737.2 1018.1 741.0 1018.5 751.2C1018.5 762.4 1018.1 765.2 1016.3 765.2C1014.5 765.2 1012.9 762.4 1012.9 751.2C1013.3 741.0 1014.1 737.2 1014.3 718.6Z" fill-opacity="0.116"/><path d="M1014.3 722.3C1015.5 738.6 1016.9 741.8 1017.0 750.8C1017.0 760.5 1017.2 763.0 1016.3 763.0C1015.5 763.0 1014.4 760.5 1014.4 750.8C1014.5 741.8 1014.6 738.6 1014.3 722.3Z" fill-opacity="0.088"/><path d="M1015.6 651.3C1016.4 674.8 1019.4 679.5 1019.4 696.7C1019.4 712.4 1017.1 720.2 1016.1 729.6C1015.0 720.2 1012.3 712.4 1012.3 696.7C1012.3 679.5 1014.7 674.8 1015.6 651.3Z" fill-opacity="0.110"/><path d="M1028.5 630.6C1029.2 676.7 1031.5 685.9 1031.5 719.7C1031.5 750.5 1029.4 765.8 1028.5 784.3C1027.6 765.8 1025.5 750.5 1025.5 719.7C1025.5 685.9 1027.7 676.7 1028.5 630.6Z" fill-opacity="0.061"/><path d="M1038.4 585.5L1040.3 585.5L1041.1 632.5Q1040.7 651.7 1039.1 671.0Q1037.6 651.7 1037.3 632.5Z" fill-opacity="0.110"/><path d="M1038.8 643.5C1040.0 679.2 1043.9 686.3 1043.9 712.5C1043.9 736.3 1040.8 748.1 1039.4 762.4C1037.9 748.1 1034.4 736.3 1034.4 712.5C1034.4 686.3 1037.7 679.2 1038.8 643.5Z" fill-opacity="0.179"/><path d="M1039.4 726.3C1041.8 749.3 1045.9 753.9 1046.8 766.6C1046.8 780.4 1043.9 783.9 1038.8 783.9C1033.8 783.9 1031.2 780.4 1031.2 766.6C1032.1 753.9 1036.5 749.3 1039.4 726.3Z" fill-opacity="0.146"/><path d="M1039.4 729.0C1040.9 750.3 1043.4 754.6 1044.0 766.3C1044.0 779.1 1042.1 782.3 1038.8 782.3C1035.6 782.3 1034.0 779.1 1034.0 766.3C1034.6 754.6 1037.5 750.3 1039.4 729.0Z" fill-opacity="0.222"/><path d="M1039.4 733.2C1040.0 751.8 1041.1 755.6 1041.4 765.8C1041.4 776.9 1040.4 779.7 1038.8 779.7C1037.3 779.7 1036.6 776.9 1036.6 765.8C1036.9 755.6 1038.4 751.8 1039.4 733.2Z" fill-opacity="0.169"/><path d="M1044.8 648.7C1046.0 680.0 1050.2 686.3 1050.2 709.3C1050.2 730.1 1047.3 740.6 1045.8 753.1C1044.4 740.6 1040.6 730.1 1040.6 709.3C1040.6 686.3 1043.6 680.0 1044.8 648.7Z" fill-opacity="0.099"/><path d="M1053.1 609.9C1053.5 645.5 1054.9 652.7 1054.9 678.8C1054.9 702.6 1053.6 714.5 1053.1 728.8C1052.5 714.5 1051.3 702.6 1051.3 678.8C1051.3 652.7 1052.6 645.5 1053.1 609.9Z" fill-opacity="0.041"/><path d="M1072.5 729.0C1073.5 742.0 1076.7 744.6 1076.7 754.2C1076.7 762.9 1073.8 767.2 1072.5 772.5C1071.3 767.2 1068.3 762.9 1068.3 754.2C1068.3 744.6 1071.5 742.0 1072.5 729.0Z" fill-opacity="0.050"/><path d="M1081.6 708.3C1082.5 728.3 1085.1 732.3 1085.1 746.9C1085.1 760.3 1082.6 766.9 1081.6 774.9C1080.5 766.9 1078.0 760.3 1078.0 746.9C1078.0 732.3 1080.7 728.3 1081.6 708.3Z" fill-opacity="0.055"/><path d="M1091.4 612.5C1092.3 642.9 1093.2 649.0 1093.2 671.3C1093.2 691.6 1089.4 701.8 1088.3 714.0C1087.2 701.8 1086.0 691.6 1086.0 671.3C1086.0 649.0 1090.5 642.9 1091.4 612.5Z" fill-opacity="0.097"/><path d="M1095.8 677.4C1100.5 720.5 1107.2 729.2 1108.5 752.9C1108.5 778.8 1105.5 785.3 1098.4 785.3C1091.3 785.3 1086.7 778.8 1086.7 752.9C1088.0 729.2 1093.1 720.5 1095.8 677.4Z" fill-opacity="0.157"/><path d="M1095.8 682.4C1099.2 722.3 1103.7 730.3 1104.5 752.3C1104.5 776.3 1102.9 782.3 1098.4 782.3C1093.9 782.3 1090.7 776.3 1090.7 752.3C1091.5 730.3 1094.5 722.3 1095.8 682.4Z" fill-opacity="0.238"/><path d="M1095.8 690.4C1098.0 725.2 1100.5 732.2 1100.9 751.4C1100.9 772.3 1100.5 777.5 1098.4 777.5C1096.2 777.5 1094.3 772.3 1094.3 751.4C1094.7 732.2 1095.7 725.2 1095.8 690.4Z" fill-opacity="0.181"/><path d="M1106.9 630.6C1107.8 664.5 1110.5 671.3 1110.5 696.2C1110.5 718.8 1108.0 730.1 1106.9 743.7C1105.9 730.1 1103.4 718.8 1103.4 696.2C1103.4 671.3 1106.0 664.5 1106.9 630.6Z" fill-opacity="0.097"/><path d="M1132.0 617.7C1132.8 647.2 1134.6 653.1 1134.6 674.8C1134.6 694.5 1132.2 704.4 1131.3 716.2C1130.4 704.4 1128.6 694.5 1128.6 674.8C1128.6 653.1 1131.3 647.2 1132.0 617.7Z" fill-opacity="0.097"/><path d="M1131.3 688.3C1133.3 726.3 1137.5 733.9 1138.7 754.9C1138.7 777.7 1134.4 783.4 1128.2 783.4C1121.9 783.4 1119.5 777.7 1119.5 754.9C1120.7 733.9 1126.8 726.3 1131.3 688.3Z" fill-opacity="0.157"/><path d="M1131.3 692.7C1132.1 727.9 1134.5 735.0 1135.2 754.3C1135.2 775.5 1132.1 780.7 1128.2 780.7C1124.2 780.7 1123.0 775.5 1123.0 754.3C1123.7 735.0 1127.9 727.9 1131.3 692.7Z" fill-opacity="0.238"/><path d="M1131.3 699.8C1131.0 730.5 1131.6 736.6 1132.0 753.5C1132.0 771.9 1130.0 776.5 1128.2 776.5C1126.3 776.5 1126.2 771.9 1126.2 753.5C1126.5 736.6 1129.0 730.5 1131.3 699.8Z" fill-opacity="0.181"/><path d="M1150.2 715.9C1151.6 739.4 1154.0 744.1 1154.5 757.0C1154.5 771.1 1153.0 774.6 1150.2 774.6C1147.3 774.6 1145.8 771.1 1145.8 757.0C1146.3 744.1 1148.7 739.4 1150.2 715.9Z" fill-opacity="0.115"/><path d="M1150.2 718.6C1151.1 740.4 1152.6 744.7 1152.9 756.7C1152.9 769.7 1152.0 773.0 1150.2 773.0C1148.4 773.0 1147.4 769.7 1147.4 756.7C1147.7 744.7 1149.2 740.4 1150.2 718.6Z" fill-opacity="0.175"/><path d="M1150.2 723.0C1150.6 741.9 1151.3 745.7 1151.5 756.1C1151.5 767.5 1151.0 770.4 1150.2 770.4C1149.3 770.4 1148.8 767.5 1148.8 756.1C1149.0 745.7 1149.7 741.9 1150.2 723.0Z" fill-opacity="0.133"/><path d="M1141.7 585.5L1143.1 585.5L1143.8 632.2Q1143.5 651.3 1142.4 670.4Q1141.3 651.3 1141.0 632.2Z" fill-opacity="0.033"/><path d="M1154.6 585.5L1156.1 585.5L1156.8 616.2Q1156.5 628.8 1155.3 641.4Q1154.2 628.8 1153.9 616.2Z" fill-opacity="0.041"/><path d="M1188.1 664.2C1188.9 692.1 1190.8 697.6 1190.8 718.1C1190.8 736.6 1188.5 745.9 1187.6 757.0C1186.7 745.9 1184.8 736.6 1184.8 718.1C1184.8 697.6 1187.4 692.1 1188.1 664.2Z" fill-opacity="0.097"/><path d="M1223.1 682.8C1225.0 723.7 1228.9 731.9 1230.0 754.4C1230.0 779.0 1226.1 785.1 1220.5 785.1C1214.8 785.1 1212.5 779.0 1212.5 754.4C1213.6 731.9 1219.1 723.7 1223.1 682.8Z" fill-opacity="0.157"/><path d="M1223.1 687.5C1223.9 725.4 1226.1 733.0 1226.8 753.9C1226.8 776.6 1224.1 782.3 1220.5 782.3C1216.9 782.3 1215.7 776.6 1215.7 753.9C1216.4 733.0 1220.2 725.4 1223.1 687.5Z" fill-opacity="0.238"/><path d="M1223.1 695.1C1222.9 728.2 1223.6 734.8 1223.9 753.0C1223.9 772.8 1222.2 777.7 1220.5 777.7C1218.8 777.7 1218.6 772.8 1218.6 753.0C1218.9 734.8 1221.1 728.2 1223.1 695.1Z" fill-opacity="0.181"/><path d="M1239.5 585.5L1241.9 585.5L1243.3 637.3Q1243.0 658.5 1241.2 679.7Q1239.2 658.5 1238.6 637.3Z" fill-opacity="0.110"/><path d="M1240.2 642.2C1242.7 675.8 1245.8 682.5 1246.3 701.0C1246.3 721.1 1245.8 726.1 1243.3 726.1C1240.7 726.1 1238.4 721.1 1238.4 701.0C1238.9 682.5 1240.1 675.8 1240.2 642.2Z" fill-opacity="0.175"/><path d="M1240.2 646.1C1242.2 677.2 1244.5 683.4 1244.8 700.5C1244.8 719.1 1244.9 723.8 1243.3 723.8C1241.6 723.8 1239.8 719.1 1239.8 700.5C1240.1 683.4 1240.6 677.2 1240.2 646.1Z" fill-opacity="0.265"/><path d="M1240.2 652.3C1241.8 679.4 1243.4 684.8 1243.5 699.7C1243.5 716.0 1244.0 720.1 1243.3 720.1C1242.5 720.1 1241.1 716.0 1241.1 699.7C1241.3 684.8 1241.0 679.4 1240.2 652.3Z" fill-opacity="0.201"/><path d="M1247.2 585.5L1249.6 585.5L1250.5 658.0Q1249.9 687.7 1247.9 717.4Q1246.1 687.7 1245.8 658.0Z" fill-opacity="0.105"/><path d="M1245.9 715.4C1248.5 742.9 1253.2 748.4 1254.3 763.6C1254.3 780.1 1250.5 784.2 1244.3 784.2C1238.1 784.2 1235.2 780.1 1235.2 763.6C1236.3 748.4 1242.0 742.9 1245.9 715.4Z" fill-opacity="0.133"/><path d="M1245.9 718.6C1247.3 744.1 1250.1 749.2 1250.9 763.2C1250.9 778.5 1248.3 782.3 1244.3 782.3C1240.3 782.3 1238.7 778.5 1238.7 763.2C1239.4 749.2 1243.2 744.1 1245.9 718.6Z" fill-opacity="0.201"/><path d="M1245.9 723.7C1246.2 745.9 1247.3 750.4 1247.7 762.6C1247.7 775.9 1246.2 779.2 1244.3 779.2C1242.4 779.2 1241.9 775.9 1241.9 762.6C1242.2 750.4 1244.2 745.9 1245.9 723.7Z" fill-opacity="0.153"/><path d="M1253.6 656.5C1254.2 674.7 1256.0 678.4 1256.0 691.8C1256.0 704.0 1254.3 710.1 1253.6 717.4C1252.9 710.1 1251.2 704.0 1251.2 691.8C1251.2 678.4 1253.0 674.7 1253.6 656.5Z" fill-opacity="0.061"/><path d="M1232.1 591.8C1232.6 611.8 1233.9 615.8 1233.9 630.4C1233.9 643.8 1232.7 650.4 1232.1 658.4C1231.6 650.4 1230.3 643.8 1230.3 630.4C1230.3 615.8 1231.7 611.8 1232.1 591.8Z" fill-opacity="0.033"/><path d="M1273.6 638.4C1274.4 666.2 1277.1 671.8 1277.1 692.2C1277.1 710.7 1274.6 720.0 1273.6 731.1C1272.5 720.0 1270.0 710.7 1270.0 692.2C1270.0 671.8 1272.7 666.2 1273.6 638.4Z" fill-opacity="0.105"/><path d="M1282.1 643.5C1283.3 683.5 1287.5 691.6 1287.5 720.9C1287.5 747.6 1284.6 760.9 1283.1 776.9C1281.7 760.9 1277.9 747.6 1277.9 720.9C1277.9 691.6 1280.9 683.5 1282.1 643.5Z" fill-opacity="0.097"/><path d="M1291.2 688.2C1295.4 726.9 1301.0 734.7 1302.0 756.0C1302.0 779.2 1299.9 785.0 1294.3 785.0C1288.6 785.0 1284.6 779.2 1284.6 756.0C1285.7 734.7 1289.4 726.9 1291.2 688.2Z" fill-opacity="0.157"/><path d="M1291.2 692.7C1294.3 728.6 1298.2 735.7 1298.9 755.4C1298.9 776.9 1297.9 782.3 1294.3 782.3C1290.7 782.3 1287.8 776.9 1287.8 755.4C1288.4 735.7 1290.5 728.6 1291.2 692.7Z" fill-opacity="0.238"/><path d="M1291.2 699.9C1293.3 731.1 1295.7 737.4 1296.0 754.6C1296.0 773.3 1296.0 778.0 1294.3 778.0C1292.5 778.0 1290.7 773.3 1290.7 754.6C1291.0 737.4 1291.5 731.1 1291.2 699.9Z" fill-opacity="0.181"/><path d="M1297.7 585.5L1300.1 585.5L1301.3 675.6Q1300.8 712.4 1298.9 749.3Q1297.0 712.4 1296.5 675.6Z" fill-opacity="0.116"/><path d="M1319.4 736.7C1320.3 747.2 1322.9 749.3 1322.9 756.9C1322.9 763.9 1320.4 767.3 1319.4 771.5C1318.3 767.3 1315.8 763.9 1315.8 756.9C1315.8 749.3 1318.5 747.2 1319.4 736.7Z" fill-opacity="0.041"/><path d="M1381.8 716.0C1383.6 738.4 1386.1 742.9 1386.6 755.2C1386.6 768.6 1385.6 771.9 1383.1 771.9C1380.5 771.9 1378.7 768.6 1378.7 755.2C1379.2 742.9 1380.9 738.4 1381.8 716.0Z" fill-opacity="0.087"/><path d="M1381.8 718.6C1383.1 739.3 1384.9 743.5 1385.2 754.9C1385.2 767.3 1384.7 770.4 1383.1 770.4C1381.4 770.4 1380.2 767.3 1380.2 754.9C1380.5 743.5 1381.4 739.3 1381.8 718.6Z" fill-opacity="0.132"/><path d="M1381.8 722.8C1382.7 740.8 1383.7 744.4 1383.9 754.4C1383.9 765.2 1383.8 767.9 1383.1 767.9C1382.3 767.9 1381.5 765.2 1381.5 754.4C1381.6 744.4 1381.9 740.8 1381.8 722.8Z" fill-opacity="0.101"/><path d="M1393.9 692.7C1395.4 715.1 1397.8 719.6 1398.3 731.9C1398.3 745.3 1396.8 748.6 1393.9 748.6C1391.1 748.6 1389.6 745.3 1389.6 731.9C1390.1 719.6 1392.4 715.1 1393.9 692.7Z" fill-opacity="0.094"/><path d="M1393.9 695.3C1394.9 716.0 1396.4 720.2 1396.7 731.6C1396.7 744.0 1395.7 747.1 1393.9 747.1C1392.1 747.1 1391.2 744.0 1391.2 731.6C1391.5 720.2 1393.0 716.0 1393.9 695.3Z" fill-opacity="0.143"/><path d="M1393.9 699.5C1394.4 717.5 1395.1 721.1 1395.2 731.1C1395.2 741.9 1394.8 744.6 1393.9 744.6C1393.1 744.6 1392.6 741.9 1392.6 731.1C1392.8 721.1 1393.5 717.5 1393.9 699.5Z" fill-opacity="0.108"/><path d="M1401.2 674.6C1401.9 697.2 1404.1 701.7 1404.1 718.3C1404.1 733.4 1402.1 740.9 1401.2 750.0C1400.3 740.9 1398.2 733.4 1398.2 718.3C1398.2 701.7 1400.4 697.2 1401.2 674.6Z" fill-opacity="0.097"/><path d="M1408.2 685.0C1408.9 697.1 1410.8 699.6 1410.8 708.5C1410.8 716.6 1408.5 720.7 1407.6 725.5C1406.7 720.7 1404.9 716.6 1404.9 708.5C1404.9 699.6 1407.4 697.1 1408.2 685.0Z" fill-opacity="0.083"/><path d="M1406.3 683.1C1407.7 721.2 1410.6 728.8 1411.4 749.7C1411.4 772.5 1408.5 778.2 1404.3 778.2C1400.0 778.2 1398.4 772.5 1398.4 749.7C1399.1 728.8 1403.3 721.2 1406.3 683.1Z" fill-opacity="0.140"/><path d="M1406.3 687.5C1406.9 722.8 1408.6 729.8 1409.1 749.2C1409.1 770.3 1407.0 775.6 1404.3 775.6C1401.6 775.6 1400.7 770.3 1400.7 749.2C1401.2 729.8 1404.1 722.8 1406.3 687.5Z" fill-opacity="0.212"/><path d="M1406.3 694.6C1406.2 725.3 1406.6 731.4 1406.9 748.3C1406.9 766.7 1405.6 771.3 1404.3 771.3C1403.0 771.3 1402.9 766.7 1402.9 748.3C1403.2 731.4 1404.8 725.3 1406.3 694.6Z" fill-opacity="0.161"/></g>
<g filter="url(#bl2)" fill="#fff"><path d="M919.8 713.4C920.2 725.4 921.6 727.8 921.6 736.6C921.6 744.5 920.3 748.5 919.8 753.3C919.2 748.5 918.0 744.5 918.0 736.6C918.0 727.8 919.3 725.4 919.8 713.4Z" fill-opacity="0.090"/><path d="M934.5 705.7C934.8 726.2 935.8 730.3 935.8 745.3C935.8 759.0 934.9 765.8 934.5 774.0C934.1 765.8 933.2 759.0 933.2 745.3C933.2 730.3 934.2 726.2 934.5 705.7Z" fill-opacity="0.113"/><path d="M984.5 710.8C984.8 724.5 985.8 727.2 985.8 737.3C985.8 746.4 984.9 750.9 984.5 756.4C984.1 750.9 983.2 746.4 983.2 737.3C983.2 727.2 984.2 724.5 984.5 710.8Z" fill-opacity="0.090"/><path d="M991.5 615.1C991.8 639.8 994.7 644.8 994.7 663.0C994.7 679.5 995.2 687.7 994.8 697.6C994.5 687.7 992.1 679.5 992.1 663.0C992.1 644.8 991.2 639.8 991.5 615.1Z" fill-opacity="0.226"/><path d="M1002.6 659.1C1003.1 684.7 1004.4 689.8 1004.4 708.6C1004.4 725.7 1002.7 734.2 1002.1 744.5C1001.5 734.2 1000.2 725.7 1000.2 708.6C1000.2 689.8 1002.1 684.7 1002.6 659.1Z" fill-opacity="0.287"/><path d="M1015.6 651.3C1015.9 674.4 1017.4 679.0 1017.4 695.9C1017.4 711.3 1016.5 719.0 1016.1 728.2C1015.6 719.0 1014.3 711.3 1014.3 695.9C1014.3 679.0 1015.2 674.4 1015.6 651.3Z" fill-opacity="0.302"/><path d="M1028.5 630.6C1028.8 675.9 1029.8 684.9 1029.8 718.1C1029.8 748.3 1028.9 763.4 1028.5 781.5C1028.1 763.4 1027.2 748.3 1027.2 718.1C1027.2 684.9 1028.2 675.9 1028.5 630.6Z" fill-opacity="0.166"/><path d="M1039.0 585.5L1039.8 585.5L1040.1 631.7Q1039.8 650.5 1039.1 669.4Q1038.5 650.5 1038.4 631.7Z" fill-opacity="0.250"/><path d="M1038.8 643.5C1039.4 678.6 1041.2 685.6 1041.2 711.3C1041.2 734.6 1040.0 746.3 1039.4 760.3C1038.7 746.3 1037.1 734.6 1037.1 711.3C1037.1 685.6 1038.3 678.6 1038.8 643.5Z" fill-opacity="0.490"/><path d="M1044.8 648.7C1045.3 679.5 1047.5 685.6 1047.5 708.2C1047.5 728.7 1046.5 738.9 1045.8 751.2C1045.2 738.9 1043.3 728.7 1043.3 708.2C1043.3 685.6 1044.3 679.5 1044.8 648.7Z" fill-opacity="0.271"/><path d="M1053.1 609.9C1053.3 644.9 1053.9 651.9 1053.9 677.6C1053.9 701.0 1053.3 712.6 1053.1 726.6C1052.9 712.6 1052.3 701.0 1052.3 677.6C1052.3 651.9 1052.9 644.9 1053.1 609.9Z" fill-opacity="0.113"/><path d="M1072.5 729.0C1073.0 741.8 1074.3 744.3 1074.3 753.7C1074.3 762.3 1073.0 766.6 1072.5 771.7C1072.0 766.6 1070.7 762.3 1070.7 753.7C1070.7 744.3 1072.0 741.8 1072.5 729.0Z" fill-opacity="0.136"/><path d="M1081.6 708.3C1081.9 727.9 1083.1 731.8 1083.1 746.2C1083.1 759.3 1082.0 765.9 1081.6 773.7C1081.1 765.9 1080.0 759.3 1080.0 746.2C1080.0 731.8 1081.2 727.9 1081.6 708.3Z" fill-opacity="0.151"/><path d="M1091.4 612.5C1091.8 642.4 1091.1 648.4 1091.1 670.3C1091.1 690.2 1088.8 700.2 1088.3 712.1C1087.8 700.2 1088.0 690.2 1088.0 670.3C1088.0 648.4 1091.0 642.4 1091.4 612.5Z" fill-opacity="0.264"/><path d="M1106.9 630.6C1107.3 663.9 1108.5 670.6 1108.5 695.0C1108.5 717.2 1107.4 728.3 1106.9 741.6C1106.5 728.3 1105.4 717.2 1105.4 695.0C1105.4 670.6 1106.5 663.9 1106.9 630.6Z" fill-opacity="0.264"/><path d="M1132.0 617.7C1132.4 646.7 1132.9 652.5 1132.9 673.8C1132.9 693.2 1131.7 702.9 1131.3 714.5C1130.9 702.9 1130.3 693.2 1130.3 673.8C1130.3 652.5 1131.7 646.7 1132.0 617.7Z" fill-opacity="0.264"/><path d="M1142.1 585.5L1142.7 585.5L1143.0 631.4Q1142.9 650.1 1142.4 668.9Q1141.9 650.1 1141.8 631.4Z" fill-opacity="0.075"/><path d="M1155.0 585.5L1155.6 585.5L1156.0 615.7Q1155.8 628.1 1155.3 640.4Q1154.8 628.1 1154.7 615.7Z" fill-opacity="0.094"/><path d="M1188.1 664.2C1188.4 691.6 1189.1 697.1 1189.1 717.1C1189.1 735.3 1188.0 744.4 1187.6 755.4C1187.2 744.4 1186.5 735.3 1186.5 717.1C1186.5 697.1 1187.8 691.6 1188.1 664.2Z" fill-opacity="0.264"/><path d="M1240.2 585.5L1241.2 585.5L1242.0 636.4Q1241.9 657.2 1241.2 678.0Q1240.2 657.2 1239.9 636.4Z" fill-opacity="0.250"/><path d="M1247.9 585.5L1249.0 585.5L1249.2 656.7Q1248.9 685.9 1247.9 715.0Q1247.2 685.9 1247.1 656.7Z" fill-opacity="0.238"/><path d="M1253.6 656.5C1253.9 674.4 1254.7 678.0 1254.7 691.2C1254.7 703.1 1253.9 709.1 1253.6 716.3C1253.3 709.1 1252.6 703.1 1252.6 691.2C1252.6 678.0 1253.4 674.4 1253.6 656.5Z" fill-opacity="0.166"/><path d="M1232.1 591.8C1232.3 611.4 1232.9 615.3 1232.9 629.8C1232.9 642.9 1232.4 649.4 1232.1 657.3C1231.9 649.4 1231.4 642.9 1231.4 629.8C1231.4 615.3 1231.9 611.4 1232.1 591.8Z" fill-opacity="0.090"/><path d="M1273.6 638.4C1273.9 665.7 1275.1 671.2 1275.1 691.2C1275.1 709.4 1274.0 718.5 1273.6 729.5C1273.1 718.5 1272.0 709.4 1272.0 691.2C1272.0 671.2 1273.2 665.7 1273.6 638.4Z" fill-opacity="0.287"/><path d="M1282.1 643.5C1282.6 682.8 1284.8 690.7 1284.8 719.5C1284.8 745.7 1283.7 758.8 1283.1 774.5C1282.5 758.8 1280.6 745.7 1280.6 719.5C1280.6 690.7 1281.6 682.8 1282.1 643.5Z" fill-opacity="0.264"/><path d="M1298.4 585.5L1299.4 585.5L1300.0 673.9Q1299.7 710.1 1298.9 746.3Q1298.1 710.1 1297.9 673.9Z" fill-opacity="0.262"/><path d="M1319.4 736.7C1319.8 747.0 1320.9 749.0 1320.9 756.5C1320.9 763.4 1319.8 766.8 1319.4 770.9C1318.9 766.8 1317.8 763.4 1317.8 756.5C1317.8 749.0 1319.0 747.0 1319.4 736.7Z" fill-opacity="0.113"/><path d="M1401.2 674.6C1401.5 696.8 1402.5 701.3 1402.5 717.5C1402.5 732.4 1401.6 739.8 1401.2 748.6C1400.8 739.8 1399.9 732.4 1399.9 717.5C1399.9 701.3 1400.8 696.8 1401.2 674.6Z" fill-opacity="0.264"/><path d="M1408.2 685.0C1408.5 696.9 1409.2 699.3 1409.2 708.1C1409.2 716.1 1408.0 720.0 1407.6 724.8C1407.3 720.0 1406.6 716.1 1406.6 708.1C1406.6 699.3 1407.8 696.9 1408.2 685.0Z" fill-opacity="0.226"/></g>
</g></g>
<path d="M895.5 777.5V589.5H1419M895.5 777.5H1419" fill="none" stroke="#262626" stroke-width="1.25"/>
<path d="M1027.5 777.5v-5.4M1027.5 589.5v5.4M1158.5 777.5v-5.4M1158.5 589.5v5.4M1289.5 777.5v-5.4M1289.5 589.5v5.4M895.5 775.60h5.2M895.5 715.67h5.2M895.5 673.15h5.2M895.5 640.17h5.2M895.5 613.23h5.2M895.5 590.44h5.2" stroke="#262626" stroke-width="1.25" fill="none" stroke-opacity="0.85"/>
<g opacity="0.999"><g transform="translate(530.0 26)" font-size="22.6" font-weight="bold" fill="#000"><text x="0.0" y="0" textLength="134.5" lengthAdjust="spacingAndGlyphs">FINOKALIA</text><text x="142.3" y="0" textLength="101.3" lengthAdjust="spacingAndGlyphs">Wavelet</text><text x="251.2" y="0" textLength="96.4" lengthAdjust="spacingAndGlyphs">Spectra</text><text x="355.3" y="0" textLength="31.0" lengthAdjust="spacingAndGlyphs">on</text><text x="394.0" y="0" textLength="30.8" lengthAdjust="spacingAndGlyphs">01</text><text x="432.6" y="0" textLength="99.6" lengthAdjust="spacingAndGlyphs">October</text><text x="539.9" y="0" textLength="61.6" lengthAdjust="spacingAndGlyphs">2020</text></g><g transform="translate(251.3 53.5)" font-size="22.6" font-weight="bold" fill="#000"><text x="0.0" y="0" textLength="97.2" lengthAdjust="spacingAndGlyphs">Filtered</text><text x="104.9" y="0" textLength="77.3" lengthAdjust="spacingAndGlyphs">Series</text><text x="189.9" y="0" textLength="82.4" lengthAdjust="spacingAndGlyphs">(cutoff</text><text x="279.9" y="0" textLength="25.4" lengthAdjust="spacingAndGlyphs">at</text><text x="313.0" y="0" textLength="39.0" lengthAdjust="spacingAndGlyphs">2.5</text><text x="359.7" y="0" textLength="64.3" lengthAdjust="spacingAndGlyphs">mHz)</text></g><g transform="translate(1038.5 53.5)" font-size="22.6" font-weight="bold" fill="#000"><text x="0.0" y="0" textLength="44.9" lengthAdjust="spacingAndGlyphs">Pc5</text><text x="52.6" y="0" textLength="101.5" lengthAdjust="spacingAndGlyphs">Wavelet</text><text x="161.9" y="0" textLength="78.1" lengthAdjust="spacingAndGlyphs">Power</text></g><text x="180.6" y="73.1" font-size="22" textLength="13.6" lengthAdjust="spacingAndGlyphs" fill="#262626">2</text><text x="180.6" y="167.1" font-size="22" textLength="13.6" lengthAdjust="spacingAndGlyphs" fill="#262626">0</text><text x="172.9" y="261.1" font-size="22" textLength="21.3" lengthAdjust="spacingAndGlyphs" fill="#262626">-2</text><text x="172.7" y="281.7" font-size="22" textLength="61.6" lengthAdjust="spacingAndGlyphs" fill="#262626">00:00</text><text x="302.7" y="281.7" font-size="22" textLength="61.6" lengthAdjust="spacingAndGlyphs" fill="#262626">06:00</text><text x="432.7" y="281.7" font-size="22" textLength="61.6" lengthAdjust="spacingAndGlyphs" fill="#262626">12:00</text><text x="563.7" y="281.7" font-size="22" textLength="61.6" lengthAdjust="spacingAndGlyphs" fill="#262626">18:00</text><text x="693.7" y="281.7" font-size="22" textLength="61.6" lengthAdjust="spacingAndGlyphs" fill="#262626">24:00</text><g transform="translate(164.3 197.3) rotate(-90)" font-size="22.6" font-weight="bold" fill="#262626"><text x="0.0" y="0" textLength="16.5" lengthAdjust="spacingAndGlyphs">X</text><text x="24.0" y="0" textLength="49.5" lengthAdjust="spacingAndGlyphs">(nT)</text></g><text x="180.6" y="335.1" font-size="22" textLength="13.6" lengthAdjust="spacingAndGlyphs" fill="#262626">1</text><text x="180.6" y="398.1" font-size="22" textLength="13.6" lengthAdjust="spacingAndGlyphs" fill="#262626">0</text><text x="172.9" y="461.1" font-size="22" textLength="21.3" lengthAdjust="spacingAndGlyphs" fill="#262626">-1</text><text x="172.9" y="524.1" font-size="22" textLength="21.3" lengthAdjust="spacingAndGlyphs" fill="#262626">-2</text><text x="172.7" y="544.7" font-size="22" textLength="61.6" lengthAdjust="spacingAndGlyphs" fill="#262626">00:00</text><text x="302.7" y="544.7" font-size="22" textLength="61.6" lengthAdjust="spacingAndGlyphs" fill="#262626">06:00</text><text x="432.7" y="544.7" font-size="22" textLength="61.6" lengthAdjust="spacingAndGlyphs" fill="#262626">12:00</text><text x="563.7" y="544.7" font-size="22" textLength="61.6" lengthAdjust="spacingAndGlyphs" fill="#262626">18:00</text><text x="693.7" y="544.7" font-size="22" textLength="61.6" lengthAdjust="spacingAndGlyphs" fill="#262626">24:00</text><g transform="translate(164.3 459.8) rotate(-90)" font-size="22.6" font-weight="bold" fill="#262626"><text x="0.0" y="0" textLength="16.5" lengthAdjust="spacingAndGlyphs">Y</text><text x="24.0" y="0" textLength="49.5" lengthAdjust="spacingAndGlyphs">(nT)</text></g><text x="180.6" y="597.1" font-size="22" textLength="13.6" lengthAdjust="spacingAndGlyphs" fill="#262626">1</text><text x="180.6" y="659.8" font-size="22" textLength="13.6" lengthAdjust="spacingAndGlyphs" fill="#262626">0</text><text x="172.9" y="722.4" font-size="22" textLength="21.3" lengthAdjust="spacingAndGlyphs" fill="#262626">-1</text><text x="172.9" y="785.1" font-size="22" textLength="21.3" lengthAdjust="spacingAndGlyphs" fill="#262626">-2</text><g transform="translate(164.3 721.3) rotate(-90)" font-size="22.6" font-weight="bold" fill="#262626"><text x="0.0" y="0" textLength="16.5" lengthAdjust="spacingAndGlyphs">Z</text><text x="24.0" y="0" textLength="49.5" lengthAdjust="spacingAndGlyphs">(nT)</text></g><text x="851.8" y="259.2" font-size="22" textLength="13.6" lengthAdjust="spacingAndGlyphs" fill="#262626">2</text><text x="851.8" y="199.3" font-size="22" textLength="13.6" lengthAdjust="spacingAndGlyphs" fill="#262626">3</text><text x="851.8" y="156.8" font-size="22" textLength="13.6" lengthAdjust="spacingAndGlyphs" fill="#262626">4</text><text x="851.8" y="123.8" font-size="22" textLength="13.6" lengthAdjust="spacingAndGlyphs" fill="#262626">5</text><text x="851.8" y="96.8" font-size="22" textLength="13.6" lengthAdjust="spacingAndGlyphs" fill="#262626">6</text><text x="851.8" y="74.0" font-size="22" textLength="13.6" lengthAdjust="spacingAndGlyphs" fill="#262626">7</text><text x="864.6" y="281.7" font-size="22" textLength="61.6" lengthAdjust="spacingAndGlyphs" fill="#262626">00:00</text><text x="996.7" y="281.7" font-size="22" textLength="61.6" lengthAdjust="spacingAndGlyphs" fill="#262626">06:00</text><text x="1127.7" y="281.7" font-size="22" textLength="61.6" lengthAdjust="spacingAndGlyphs" fill="#262626">12:00</text><text x="1258.7" y="281.7" font-size="22" textLength="61.6" lengthAdjust="spacingAndGlyphs" fill="#262626">18:00</text><text x="1389.7" y="281.7" font-size="22" textLength="61.6" lengthAdjust="spacingAndGlyphs" fill="#262626">00:00</text><g transform="translate(843 227.2) rotate(-90)" font-size="22.6" font-weight="bold" fill="#262626"><text x="0.0" y="0" textLength="50.9" lengthAdjust="spacingAndGlyphs">freq</text><text x="58.5" y="0" textLength="73.9" lengthAdjust="spacingAndGlyphs">(mHz)</text></g><text x="851.8" y="522.2" font-size="22" textLength="13.6" lengthAdjust="spacingAndGlyphs" fill="#262626">2</text><text x="851.8" y="462.3" font-size="22" textLength="13.6" lengthAdjust="spacingAndGlyphs" fill="#262626">3</text><text x="851.8" y="419.8" font-size="22" textLength="13.6" lengthAdjust="spacingAndGlyphs" fill="#262626">4</text><text x="851.8" y="386.8" font-size="22" textLength="13.6" lengthAdjust="spacingAndGlyphs" fill="#262626">5</text><text x="851.8" y="359.8" font-size="22" textLength="13.6" lengthAdjust="spacingAndGlyphs" fill="#262626">6</text><text x="851.8" y="337.0" font-size="22" textLength="13.6" lengthAdjust="spacingAndGlyphs" fill="#262626">7</text><text x="864.6" y="544.7" font-size="22" textLength="61.6" lengthAdjust="spacingAndGlyphs" fill="#262626">00:00</text><text x="996.7" y="544.7" font-size="22" textLength="61.6" lengthAdjust="spacingAndGlyphs" fill="#262626">06:00</text><text x="1127.7" y="544.7" font-size="22" textLength="61.6" lengthAdjust="spacingAndGlyphs" fill="#262626">12:00</text><text x="1258.7" y="544.7" font-size="22" textLength="61.6" lengthAdjust="spacingAndGlyphs" fill="#262626">18:00</text><text x="1389.7" y="544.7" font-size="22" textLength="61.6" lengthAdjust="spacingAndGlyphs" fill="#262626">00:00</text><g transform="translate(843 489.7) rotate(-90)" font-size="22.6" font-weight="bold" fill="#262626"><text x="0.0" y="0" textLength="50.9" lengthAdjust="spacingAndGlyphs">freq</text><text x="58.5" y="0" textLength="73.9" lengthAdjust="spacingAndGlyphs">(mHz)</text></g><text x="851.8" y="783.2" font-size="22" textLength="13.6" lengthAdjust="spacingAndGlyphs" fill="#262626">2</text><text x="851.8" y="723.3" font-size="22" textLength="13.6" lengthAdjust="spacingAndGlyphs" fill="#262626">3</text><text x="851.8" y="680.8" font-size="22" textLength="13.6" lengthAdjust="spacingAndGlyphs" fill="#262626">4</text><text x="851.8" y="647.8" font-size="22" textLength="13.6" lengthAdjust="spacingAndGlyphs" fill="#262626">5</text><text x="851.8" y="620.8" font-size="22" textLength="13.6" lengthAdjust="spacingAndGlyphs" fill="#262626">6</text><text x="851.8" y="598.0" font-size="22" textLength="13.6" lengthAdjust="spacingAndGlyphs" fill="#262626">7</text><g transform="translate(843 751.2) rotate(-90)" font-size="22.6" font-weight="bold" fill="#262626"><text x="0.0" y="0" textLength="50.9" lengthAdjust="spacingAndGlyphs">freq</text><text x="58.5" y="0" textLength="73.9" lengthAdjust="spacingAndGlyphs">(mHz)</text></g></g>
</svg></body></html>
